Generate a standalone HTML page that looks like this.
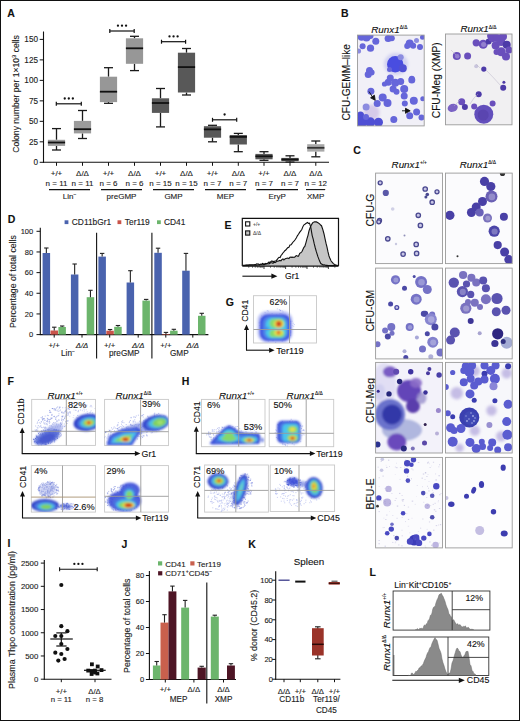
<!DOCTYPE html>
<html><head><meta charset="utf-8"><style>
html,body{margin:0;padding:0;background:#fff;overflow:hidden;}
svg{display:block;font-family:"Liberation Sans", sans-serif;}
</style></head><body>
<svg width="520" height="721" viewBox="0 0 520 721">
<defs><filter id="bl" x="-30%" y="-30%" width="160%" height="160%"><feGaussianBlur stdDeviation="0.8"/></filter>
<filter id="bl2" x="-30%" y="-30%" width="160%" height="160%"><feGaussianBlur stdDeviation="0.45"/></filter>
<clipPath id="c1"><rect x="253.50" y="295.70" width="63.00" height="47.30"/></clipPath>
<clipPath id="c2"><rect x="31.70" y="399.40" width="63.80" height="46.00"/></clipPath>
<clipPath id="c3"><rect x="104.60" y="399.40" width="63.90" height="46.20"/></clipPath>
<clipPath id="c4"><rect x="31.30" y="465.60" width="64.20" height="46.50"/></clipPath>
<clipPath id="c5"><rect x="104.60" y="465.60" width="63.90" height="46.50"/></clipPath>
<clipPath id="c6"><rect x="201.50" y="399.40" width="63.50" height="47.30"/></clipPath>
<clipPath id="c7"><rect x="269.20" y="399.40" width="64.50" height="47.30"/></clipPath>
<clipPath id="c8"><rect x="204.60" y="465.00" width="63.80" height="47.10"/></clipPath>
<clipPath id="c9"><rect x="270.20" y="465.00" width="64.40" height="46.50"/></clipPath>
<clipPath id="c10"><rect x="393.10" y="591.00" width="96.80" height="39.10"/></clipPath>
<clipPath id="c11"><rect x="393.10" y="637.00" width="95.70" height="38.50"/></clipPath>
<filter id="sb" x="-10%" y="-10%" width="120%" height="120%"><feGaussianBlur stdDeviation="0.55"/></filter>
<filter id="sb3" x="-10%" y="-10%" width="120%" height="120%"><feGaussianBlur stdDeviation="1.0"/></filter>
<filter id="sb4" x="-10%" y="-10%" width="120%" height="120%"><feGaussianBlur stdDeviation="0.8"/></filter>
<filter id="sb2" x="-10%" y="-10%" width="120%" height="120%"><feGaussianBlur stdDeviation="1.6"/></filter>
<clipPath id="c12"><rect x="357.50" y="35.10" width="66.70" height="90.80"/></clipPath>
<clipPath id="c13"><rect x="445.50" y="34.00" width="66.50" height="90.80"/></clipPath>
<clipPath id="c14"><rect x="375.60" y="173.10" width="66.90" height="90.50"/></clipPath>
<clipPath id="c15"><rect x="445.50" y="173.10" width="66.70" height="90.50"/></clipPath>
<clipPath id="c16"><rect x="375.60" y="268.10" width="66.90" height="90.80"/></clipPath>
<clipPath id="c17"><rect x="445.50" y="268.10" width="66.70" height="90.80"/></clipPath>
<clipPath id="c18"><rect x="375.60" y="362.40" width="66.90" height="90.60"/></clipPath>
<clipPath id="c19"><rect x="445.50" y="362.40" width="66.70" height="90.60"/></clipPath>
<clipPath id="c20"><rect x="375.60" y="457.40" width="66.90" height="90.50"/></clipPath>
<clipPath id="c21"><rect x="445.50" y="457.40" width="66.70" height="90.50"/></clipPath></defs>
<rect x="0" y="0" width="520" height="721" fill="#fff"/>
<text x="7.20" y="17.00" font-size="10.5" text-anchor="start" fill="#111" stroke="#111" stroke-width="0.12" font-weight="bold" >A</text>
<line x1="43.50" y1="31.50" x2="43.50" y2="162.80" stroke="#111" stroke-width="1.1" />
<line x1="43.00" y1="162.30" x2="329.00" y2="162.30" stroke="#111" stroke-width="1.1" />
<line x1="39.70" y1="162.30" x2="43.50" y2="162.30" stroke="#111" stroke-width="1" />
<text x="38.00" y="165.20" font-size="8.2" text-anchor="end" fill="#222" stroke="#222" stroke-width="0.12" >0</text>
<line x1="39.70" y1="141.82" x2="43.50" y2="141.82" stroke="#111" stroke-width="1" />
<text x="38.00" y="144.72" font-size="8.2" text-anchor="end" fill="#222" stroke="#222" stroke-width="0.12" >25</text>
<line x1="39.70" y1="121.33" x2="43.50" y2="121.33" stroke="#111" stroke-width="1" />
<text x="38.00" y="124.23" font-size="8.2" text-anchor="end" fill="#222" stroke="#222" stroke-width="0.12" >50</text>
<line x1="39.70" y1="100.85" x2="43.50" y2="100.85" stroke="#111" stroke-width="1" />
<text x="38.00" y="103.75" font-size="8.2" text-anchor="end" fill="#222" stroke="#222" stroke-width="0.12" >75</text>
<line x1="39.70" y1="80.37" x2="43.50" y2="80.37" stroke="#111" stroke-width="1" />
<text x="38.00" y="83.27" font-size="8.2" text-anchor="end" fill="#222" stroke="#222" stroke-width="0.12" >100</text>
<line x1="39.70" y1="59.88" x2="43.50" y2="59.88" stroke="#111" stroke-width="1" />
<text x="38.00" y="62.78" font-size="8.2" text-anchor="end" fill="#222" stroke="#222" stroke-width="0.12" >125</text>
<line x1="39.70" y1="39.40" x2="43.50" y2="39.40" stroke="#111" stroke-width="1" />
<text x="38.00" y="42.30" font-size="8.2" text-anchor="end" fill="#222" stroke="#222" stroke-width="0.12" >150</text>
<text x="18.90" y="94.00" font-size="8.6" text-anchor="middle" fill="#222" stroke="#222" stroke-width="0.12" transform="rotate(-90 18.90 94.00)" >Colony number per 1×10<tspan font-size="5.8" dy="-3.2">3</tspan><tspan dy="3.2"> cells</tspan></text>
<line x1="56.50" y1="128.60" x2="56.50" y2="139.80" stroke="#1a1a1a" stroke-width="1.3" />
<line x1="56.50" y1="145.90" x2="56.50" y2="150.00" stroke="#1a1a1a" stroke-width="1.3" />
<line x1="52.00" y1="128.60" x2="61.00" y2="128.60" stroke="#1a1a1a" stroke-width="1.3" />
<line x1="52.00" y1="150.00" x2="61.00" y2="150.00" stroke="#1a1a1a" stroke-width="1.3" />
<rect x="47.90" y="139.80" width="17.20" height="6.10" fill="#9b9b9b" />
<line x1="47.90" y1="142.50" x2="65.10" y2="142.50" stroke="#111" stroke-width="1.8" />
<line x1="56.50" y1="162.30" x2="56.50" y2="165.80" stroke="#111" stroke-width="1" />
<line x1="82.50" y1="110.50" x2="82.50" y2="120.90" stroke="#1a1a1a" stroke-width="1.3" />
<line x1="82.50" y1="133.40" x2="82.50" y2="138.50" stroke="#1a1a1a" stroke-width="1.3" />
<line x1="78.00" y1="110.50" x2="87.00" y2="110.50" stroke="#1a1a1a" stroke-width="1.3" />
<line x1="78.00" y1="138.50" x2="87.00" y2="138.50" stroke="#1a1a1a" stroke-width="1.3" />
<rect x="73.90" y="120.90" width="17.20" height="12.50" fill="#9b9b9b" />
<line x1="73.90" y1="129.20" x2="91.10" y2="129.20" stroke="#111" stroke-width="1.8" />
<line x1="82.50" y1="162.30" x2="82.50" y2="165.80" stroke="#111" stroke-width="1" />
<line x1="108.50" y1="67.70" x2="108.50" y2="76.70" stroke="#1a1a1a" stroke-width="1.3" />
<line x1="108.50" y1="102.10" x2="108.50" y2="103.30" stroke="#1a1a1a" stroke-width="1.3" />
<line x1="104.00" y1="67.70" x2="113.00" y2="67.70" stroke="#1a1a1a" stroke-width="1.3" />
<line x1="104.00" y1="103.30" x2="113.00" y2="103.30" stroke="#1a1a1a" stroke-width="1.3" />
<rect x="99.90" y="76.70" width="17.20" height="25.40" fill="#979797" />
<line x1="99.90" y1="91.70" x2="117.10" y2="91.70" stroke="#111" stroke-width="1.8" />
<line x1="108.50" y1="162.30" x2="108.50" y2="165.80" stroke="#111" stroke-width="1" />
<line x1="134.50" y1="36.30" x2="134.50" y2="38.30" stroke="#1a1a1a" stroke-width="1.3" />
<line x1="134.50" y1="63.80" x2="134.50" y2="70.60" stroke="#1a1a1a" stroke-width="1.3" />
<line x1="130.00" y1="36.30" x2="139.00" y2="36.30" stroke="#1a1a1a" stroke-width="1.3" />
<line x1="130.00" y1="70.60" x2="139.00" y2="70.60" stroke="#1a1a1a" stroke-width="1.3" />
<rect x="125.90" y="38.30" width="17.20" height="25.50" fill="#979797" />
<line x1="125.90" y1="48.30" x2="143.10" y2="48.30" stroke="#111" stroke-width="1.8" />
<line x1="134.50" y1="162.30" x2="134.50" y2="165.80" stroke="#111" stroke-width="1" />
<line x1="160.50" y1="88.50" x2="160.50" y2="98.30" stroke="#1a1a1a" stroke-width="1.3" />
<line x1="160.50" y1="112.90" x2="160.50" y2="126.90" stroke="#1a1a1a" stroke-width="1.3" />
<line x1="156.00" y1="88.50" x2="165.00" y2="88.50" stroke="#1a1a1a" stroke-width="1.3" />
<line x1="156.00" y1="126.90" x2="165.00" y2="126.90" stroke="#1a1a1a" stroke-width="1.3" />
<rect x="151.90" y="98.30" width="17.20" height="14.60" fill="#585858" />
<line x1="151.90" y1="103.00" x2="169.10" y2="103.00" stroke="#111" stroke-width="1.8" />
<line x1="160.50" y1="162.30" x2="160.50" y2="165.80" stroke="#111" stroke-width="1" />
<line x1="186.50" y1="48.50" x2="186.50" y2="52.70" stroke="#1a1a1a" stroke-width="1.3" />
<line x1="186.50" y1="92.50" x2="186.50" y2="95.00" stroke="#1a1a1a" stroke-width="1.3" />
<line x1="182.00" y1="48.50" x2="191.00" y2="48.50" stroke="#1a1a1a" stroke-width="1.3" />
<line x1="182.00" y1="95.00" x2="191.00" y2="95.00" stroke="#1a1a1a" stroke-width="1.3" />
<rect x="177.90" y="52.70" width="17.20" height="39.80" fill="#585858" />
<line x1="177.90" y1="67.10" x2="195.10" y2="67.10" stroke="#111" stroke-width="1.8" />
<line x1="186.50" y1="162.30" x2="186.50" y2="165.80" stroke="#111" stroke-width="1" />
<line x1="212.50" y1="125.30" x2="212.50" y2="126.20" stroke="#1a1a1a" stroke-width="1.3" />
<line x1="212.50" y1="137.70" x2="212.50" y2="141.80" stroke="#1a1a1a" stroke-width="1.3" />
<line x1="208.00" y1="125.30" x2="217.00" y2="125.30" stroke="#1a1a1a" stroke-width="1.3" />
<line x1="208.00" y1="141.80" x2="217.00" y2="141.80" stroke="#1a1a1a" stroke-width="1.3" />
<rect x="203.90" y="126.20" width="17.20" height="11.50" fill="#585858" />
<line x1="203.90" y1="129.40" x2="221.10" y2="129.40" stroke="#111" stroke-width="1.8" />
<line x1="212.50" y1="162.30" x2="212.50" y2="165.80" stroke="#111" stroke-width="1" />
<line x1="238.30" y1="133.40" x2="238.30" y2="135.00" stroke="#1a1a1a" stroke-width="1.3" />
<line x1="238.30" y1="144.50" x2="238.30" y2="151.70" stroke="#1a1a1a" stroke-width="1.3" />
<line x1="233.80" y1="133.40" x2="242.80" y2="133.40" stroke="#1a1a1a" stroke-width="1.3" />
<line x1="233.80" y1="151.70" x2="242.80" y2="151.70" stroke="#1a1a1a" stroke-width="1.3" />
<rect x="229.70" y="135.00" width="17.20" height="9.50" fill="#585858" />
<line x1="229.70" y1="136.90" x2="246.90" y2="136.90" stroke="#111" stroke-width="1.8" />
<line x1="238.30" y1="162.30" x2="238.30" y2="165.80" stroke="#111" stroke-width="1" />
<line x1="264.00" y1="151.70" x2="264.00" y2="153.90" stroke="#1a1a1a" stroke-width="1.3" />
<line x1="264.00" y1="159.30" x2="264.00" y2="160.30" stroke="#1a1a1a" stroke-width="1.3" />
<line x1="259.50" y1="151.70" x2="268.50" y2="151.70" stroke="#1a1a1a" stroke-width="1.3" />
<line x1="259.50" y1="160.30" x2="268.50" y2="160.30" stroke="#1a1a1a" stroke-width="1.3" />
<rect x="255.40" y="153.90" width="17.20" height="5.40" fill="#585858" />
<line x1="255.40" y1="156.30" x2="272.60" y2="156.30" stroke="#111" stroke-width="1.8" />
<line x1="264.00" y1="162.30" x2="264.00" y2="165.80" stroke="#111" stroke-width="1" />
<line x1="290.00" y1="155.80" x2="290.00" y2="157.90" stroke="#1a1a1a" stroke-width="1.3" />
<line x1="290.00" y1="161.20" x2="290.00" y2="162.00" stroke="#1a1a1a" stroke-width="1.3" />
<line x1="285.50" y1="155.80" x2="294.50" y2="155.80" stroke="#1a1a1a" stroke-width="1.3" />
<line x1="285.50" y1="162.00" x2="294.50" y2="162.00" stroke="#1a1a1a" stroke-width="1.3" />
<rect x="281.40" y="157.90" width="17.20" height="3.30" fill="#585858" />
<line x1="281.40" y1="159.50" x2="298.60" y2="159.50" stroke="#111" stroke-width="1.8" />
<line x1="290.00" y1="162.30" x2="290.00" y2="165.80" stroke="#111" stroke-width="1" />
<line x1="315.80" y1="141.00" x2="315.80" y2="144.20" stroke="#1a1a1a" stroke-width="1.3" />
<line x1="315.80" y1="151.60" x2="315.80" y2="156.80" stroke="#1a1a1a" stroke-width="1.3" />
<line x1="311.30" y1="141.00" x2="320.30" y2="141.00" stroke="#1a1a1a" stroke-width="1.3" />
<line x1="311.30" y1="156.80" x2="320.30" y2="156.80" stroke="#1a1a1a" stroke-width="1.3" />
<rect x="307.20" y="144.20" width="17.20" height="7.40" fill="#a8a8a8" />
<line x1="307.20" y1="147.80" x2="324.40" y2="147.80" stroke="#333" stroke-width="1.8" />
<line x1="315.80" y1="162.30" x2="315.80" y2="165.80" stroke="#111" stroke-width="1" />
<line x1="56.30" y1="103.80" x2="81.30" y2="103.80" stroke="#111" stroke-width="1.2" />
<line x1="56.30" y1="101.80" x2="56.30" y2="105.80" stroke="#111" stroke-width="1.2" />
<line x1="81.30" y1="101.80" x2="81.30" y2="105.80" stroke="#111" stroke-width="1.2" />
<circle cx="64.75" cy="98.50" r="1.15" fill="#111"/>
<circle cx="68.80" cy="98.50" r="1.15" fill="#111"/>
<circle cx="72.85" cy="98.50" r="1.15" fill="#111"/>
<line x1="109.80" y1="31.00" x2="134.20" y2="31.00" stroke="#111" stroke-width="1.2" />
<line x1="109.80" y1="29.00" x2="109.80" y2="33.00" stroke="#111" stroke-width="1.2" />
<line x1="134.20" y1="29.00" x2="134.20" y2="33.00" stroke="#111" stroke-width="1.2" />
<circle cx="117.95" cy="25.70" r="1.15" fill="#111"/>
<circle cx="122.00" cy="25.70" r="1.15" fill="#111"/>
<circle cx="126.05" cy="25.70" r="1.15" fill="#111"/>
<line x1="161.50" y1="41.70" x2="185.60" y2="41.70" stroke="#111" stroke-width="1.2" />
<line x1="161.50" y1="39.70" x2="161.50" y2="43.70" stroke="#111" stroke-width="1.2" />
<line x1="185.60" y1="39.70" x2="185.60" y2="43.70" stroke="#111" stroke-width="1.2" />
<circle cx="169.50" cy="36.40" r="1.15" fill="#111"/>
<circle cx="173.55" cy="36.40" r="1.15" fill="#111"/>
<circle cx="177.60" cy="36.40" r="1.15" fill="#111"/>
<line x1="212.50" y1="119.80" x2="236.70" y2="119.80" stroke="#111" stroke-width="1.2" />
<line x1="212.50" y1="117.80" x2="212.50" y2="121.80" stroke="#111" stroke-width="1.2" />
<line x1="236.70" y1="117.80" x2="236.70" y2="121.80" stroke="#111" stroke-width="1.2" />
<circle cx="224.60" cy="114.50" r="1.15" fill="#111"/>
<text x="56.50" y="176.00" font-size="8" text-anchor="middle" fill="#222" stroke="#222" stroke-width="0.12" >+/+</text>
<text x="56.50" y="186.00" font-size="8" text-anchor="middle" fill="#222" stroke="#222" stroke-width="0.12" >n = 11</text>
<text x="82.50" y="176.00" font-size="8" text-anchor="middle" fill="#222" stroke="#222" stroke-width="0.12" >Δ/Δ</text>
<text x="82.50" y="186.00" font-size="8" text-anchor="middle" fill="#222" stroke="#222" stroke-width="0.12" >n = 11</text>
<text x="108.50" y="176.00" font-size="8" text-anchor="middle" fill="#222" stroke="#222" stroke-width="0.12" >+/+</text>
<text x="108.50" y="186.00" font-size="8" text-anchor="middle" fill="#222" stroke="#222" stroke-width="0.12" >n = 6</text>
<text x="134.50" y="176.00" font-size="8" text-anchor="middle" fill="#222" stroke="#222" stroke-width="0.12" >Δ/Δ</text>
<text x="134.50" y="186.00" font-size="8" text-anchor="middle" fill="#222" stroke="#222" stroke-width="0.12" >n = 6</text>
<text x="160.50" y="176.00" font-size="8" text-anchor="middle" fill="#222" stroke="#222" stroke-width="0.12" >+/+</text>
<text x="160.50" y="186.00" font-size="8" text-anchor="middle" fill="#222" stroke="#222" stroke-width="0.12" >n = 15</text>
<text x="186.50" y="176.00" font-size="8" text-anchor="middle" fill="#222" stroke="#222" stroke-width="0.12" >Δ/Δ</text>
<text x="186.50" y="186.00" font-size="8" text-anchor="middle" fill="#222" stroke="#222" stroke-width="0.12" >n = 15</text>
<text x="212.50" y="176.00" font-size="8" text-anchor="middle" fill="#222" stroke="#222" stroke-width="0.12" >+/+</text>
<text x="212.50" y="186.00" font-size="8" text-anchor="middle" fill="#222" stroke="#222" stroke-width="0.12" >n = 7</text>
<text x="238.30" y="176.00" font-size="8" text-anchor="middle" fill="#222" stroke="#222" stroke-width="0.12" >Δ/Δ</text>
<text x="238.30" y="186.00" font-size="8" text-anchor="middle" fill="#222" stroke="#222" stroke-width="0.12" >n = 7</text>
<text x="264.00" y="176.00" font-size="8" text-anchor="middle" fill="#222" stroke="#222" stroke-width="0.12" >+/+</text>
<text x="264.00" y="186.00" font-size="8" text-anchor="middle" fill="#222" stroke="#222" stroke-width="0.12" >n = 7</text>
<text x="290.00" y="176.00" font-size="8" text-anchor="middle" fill="#222" stroke="#222" stroke-width="0.12" >Δ/Δ</text>
<text x="290.00" y="186.00" font-size="8" text-anchor="middle" fill="#222" stroke="#222" stroke-width="0.12" >n = 7</text>
<text x="315.80" y="176.00" font-size="8" text-anchor="middle" fill="#222" stroke="#222" stroke-width="0.12" >Δ/Δ</text>
<text x="315.80" y="186.00" font-size="8" text-anchor="middle" fill="#222" stroke="#222" stroke-width="0.12" >n = 12</text>
<line x1="49.00" y1="189.60" x2="90.00" y2="189.60" stroke="#111" stroke-width="1.1" />
<text x="69.50" y="199.00" font-size="8" text-anchor="middle" fill="#222" stroke="#222" stroke-width="0.12" >Lin<tspan font-size="5" dy="-3">−</tspan></text>
<line x1="101.00" y1="189.60" x2="142.00" y2="189.60" stroke="#111" stroke-width="1.1" />
<text x="121.50" y="199.00" font-size="8" text-anchor="middle" fill="#222" stroke="#222" stroke-width="0.12" >preGMP</text>
<line x1="153.00" y1="189.60" x2="194.00" y2="189.60" stroke="#111" stroke-width="1.1" />
<text x="173.50" y="199.00" font-size="8" text-anchor="middle" fill="#222" stroke="#222" stroke-width="0.12" >GMP</text>
<line x1="205.00" y1="189.60" x2="246.00" y2="189.60" stroke="#111" stroke-width="1.1" />
<text x="225.50" y="199.00" font-size="8" text-anchor="middle" fill="#222" stroke="#222" stroke-width="0.12" >MEP</text>
<line x1="256.40" y1="189.60" x2="298.00" y2="189.60" stroke="#111" stroke-width="1.1" />
<text x="277.20" y="199.00" font-size="8" text-anchor="middle" fill="#222" stroke="#222" stroke-width="0.12" >EryP</text>
<line x1="306.00" y1="189.60" x2="325.20" y2="189.60" stroke="#111" stroke-width="1.1" />
<text x="315.60" y="199.00" font-size="8" text-anchor="middle" fill="#222" stroke="#222" stroke-width="0.12" >XMP</text>
<text x="7.80" y="223.20" font-size="10.5" text-anchor="start" fill="#111" stroke="#111" stroke-width="0.12" font-weight="bold" >D</text>
<line x1="40.30" y1="227.80" x2="40.30" y2="335.00" stroke="#111" stroke-width="1.1" />
<line x1="39.80" y1="334.60" x2="208.40" y2="334.60" stroke="#111" stroke-width="1.1" />
<line x1="36.50" y1="334.60" x2="40.30" y2="334.60" stroke="#111" stroke-width="1" />
<text x="33.20" y="337.30" font-size="7.5" text-anchor="end" fill="#222" stroke="#222" stroke-width="0.12" >0</text>
<line x1="36.50" y1="313.94" x2="40.30" y2="313.94" stroke="#111" stroke-width="1" />
<text x="33.20" y="316.64" font-size="7.5" text-anchor="end" fill="#222" stroke="#222" stroke-width="0.12" >20</text>
<line x1="36.50" y1="293.28" x2="40.30" y2="293.28" stroke="#111" stroke-width="1" />
<text x="33.20" y="295.98" font-size="7.5" text-anchor="end" fill="#222" stroke="#222" stroke-width="0.12" >40</text>
<line x1="36.50" y1="272.62" x2="40.30" y2="272.62" stroke="#111" stroke-width="1" />
<text x="33.20" y="275.32" font-size="7.5" text-anchor="end" fill="#222" stroke="#222" stroke-width="0.12" >60</text>
<line x1="36.50" y1="251.96" x2="40.30" y2="251.96" stroke="#111" stroke-width="1" />
<text x="33.20" y="254.66" font-size="7.5" text-anchor="end" fill="#222" stroke="#222" stroke-width="0.12" >80</text>
<line x1="36.50" y1="231.30" x2="40.30" y2="231.30" stroke="#111" stroke-width="1" />
<text x="33.20" y="234.00" font-size="7.5" text-anchor="end" fill="#222" stroke="#222" stroke-width="0.12" >100</text>
<text x="16.00" y="281.60" font-size="8.7" text-anchor="middle" fill="#222" stroke="#222" stroke-width="0.12" transform="rotate(-90 16.00 281.60)" >Percentage of total cells</text>
<rect x="42.60" y="253.00" width="7.50" height="81.60" fill="#4a63ae" />
<line x1="46.35" y1="248.00" x2="46.35" y2="253.00" stroke="#222" stroke-width="1.1" />
<line x1="44.15" y1="248.00" x2="48.55" y2="248.00" stroke="#222" stroke-width="1.1" />
<rect x="50.50" y="330.50" width="7.50" height="4.10" fill="#c9544a" />
<line x1="54.25" y1="327.20" x2="54.25" y2="330.50" stroke="#222" stroke-width="1.1" />
<line x1="52.05" y1="327.20" x2="56.45" y2="327.20" stroke="#222" stroke-width="1.1" />
<rect x="58.40" y="327.00" width="7.50" height="7.60" fill="#6cb56c" />
<line x1="62.15" y1="326.00" x2="62.15" y2="327.00" stroke="#222" stroke-width="1.1" />
<line x1="59.95" y1="326.00" x2="64.35" y2="326.00" stroke="#222" stroke-width="1.1" />
<rect x="70.90" y="274.50" width="7.50" height="60.10" fill="#4a63ae" />
<line x1="74.65" y1="264.00" x2="74.65" y2="274.50" stroke="#222" stroke-width="1.1" />
<line x1="72.45" y1="264.00" x2="76.85" y2="264.00" stroke="#222" stroke-width="1.1" />
<rect x="86.70" y="297.20" width="7.50" height="37.40" fill="#6cb56c" />
<line x1="90.45" y1="290.30" x2="90.45" y2="297.20" stroke="#222" stroke-width="1.1" />
<line x1="88.25" y1="290.30" x2="92.65" y2="290.30" stroke="#222" stroke-width="1.1" />
<rect x="98.40" y="256.60" width="7.50" height="78.00" fill="#4a63ae" />
<line x1="102.15" y1="253.40" x2="102.15" y2="256.60" stroke="#222" stroke-width="1.1" />
<line x1="99.95" y1="253.40" x2="104.35" y2="253.40" stroke="#222" stroke-width="1.1" />
<rect x="106.30" y="330.70" width="7.50" height="3.90" fill="#c9544a" />
<line x1="110.05" y1="329.50" x2="110.05" y2="330.70" stroke="#222" stroke-width="1.1" />
<line x1="107.85" y1="329.50" x2="112.25" y2="329.50" stroke="#222" stroke-width="1.1" />
<rect x="114.20" y="326.80" width="7.50" height="7.80" fill="#6cb56c" />
<line x1="117.95" y1="325.50" x2="117.95" y2="326.80" stroke="#222" stroke-width="1.1" />
<line x1="115.75" y1="325.50" x2="120.15" y2="325.50" stroke="#222" stroke-width="1.1" />
<rect x="126.60" y="282.50" width="7.50" height="52.10" fill="#4a63ae" />
<line x1="130.35" y1="270.70" x2="130.35" y2="282.50" stroke="#222" stroke-width="1.1" />
<line x1="128.15" y1="270.70" x2="132.55" y2="270.70" stroke="#222" stroke-width="1.1" />
<rect x="142.40" y="300.60" width="7.50" height="34.00" fill="#6cb56c" />
<line x1="146.15" y1="299.40" x2="146.15" y2="300.60" stroke="#222" stroke-width="1.1" />
<line x1="143.95" y1="299.40" x2="148.35" y2="299.40" stroke="#222" stroke-width="1.1" />
<rect x="154.30" y="252.80" width="7.50" height="81.80" fill="#4a63ae" />
<line x1="158.05" y1="248.20" x2="158.05" y2="252.80" stroke="#222" stroke-width="1.1" />
<line x1="155.85" y1="248.20" x2="160.25" y2="248.20" stroke="#222" stroke-width="1.1" />
<rect x="162.20" y="334.00" width="7.50" height="0.60" fill="#c9544a" />
<line x1="165.95" y1="332.40" x2="165.95" y2="334.00" stroke="#222" stroke-width="1.1" />
<line x1="163.75" y1="332.40" x2="168.15" y2="332.40" stroke="#222" stroke-width="1.1" />
<rect x="170.10" y="330.70" width="7.50" height="3.90" fill="#6cb56c" />
<line x1="173.85" y1="329.30" x2="173.85" y2="330.70" stroke="#222" stroke-width="1.1" />
<line x1="171.65" y1="329.30" x2="176.05" y2="329.30" stroke="#222" stroke-width="1.1" />
<rect x="182.20" y="270.70" width="7.50" height="63.90" fill="#4a63ae" />
<line x1="185.95" y1="253.40" x2="185.95" y2="270.70" stroke="#222" stroke-width="1.1" />
<line x1="183.75" y1="253.40" x2="188.15" y2="253.40" stroke="#222" stroke-width="1.1" />
<rect x="198.00" y="315.80" width="7.50" height="18.80" fill="#6cb56c" />
<line x1="201.75" y1="313.30" x2="201.75" y2="315.80" stroke="#222" stroke-width="1.1" />
<line x1="199.55" y1="313.30" x2="203.95" y2="313.30" stroke="#222" stroke-width="1.1" />
<line x1="96.60" y1="232.70" x2="96.60" y2="358.40" stroke="#111" stroke-width="1.1" />
<line x1="151.90" y1="232.70" x2="151.90" y2="358.40" stroke="#111" stroke-width="1.1" />
<line x1="54.20" y1="334.60" x2="54.20" y2="337.60" stroke="#111" stroke-width="1" />
<text x="54.20" y="347.80" font-size="7.8" text-anchor="middle" fill="#222" stroke="#222" stroke-width="0.12" >+/+</text>
<line x1="82.00" y1="334.60" x2="82.00" y2="337.60" stroke="#111" stroke-width="1" />
<text x="82.00" y="347.80" font-size="7.8" text-anchor="middle" fill="#222" stroke="#222" stroke-width="0.12" font-style="italic" >Δ/Δ</text>
<line x1="109.70" y1="334.60" x2="109.70" y2="337.60" stroke="#111" stroke-width="1" />
<text x="109.70" y="347.80" font-size="7.8" text-anchor="middle" fill="#222" stroke="#222" stroke-width="0.12" >+/+</text>
<line x1="138.20" y1="334.60" x2="138.20" y2="337.60" stroke="#111" stroke-width="1" />
<text x="138.20" y="347.80" font-size="7.8" text-anchor="middle" fill="#222" stroke="#222" stroke-width="0.12" font-style="italic" >Δ/Δ</text>
<line x1="165.80" y1="334.60" x2="165.80" y2="337.60" stroke="#111" stroke-width="1" />
<text x="165.80" y="347.80" font-size="7.8" text-anchor="middle" fill="#222" stroke="#222" stroke-width="0.12" >+/+</text>
<line x1="192.80" y1="334.60" x2="192.80" y2="337.60" stroke="#111" stroke-width="1" />
<text x="192.80" y="347.80" font-size="7.8" text-anchor="middle" fill="#222" stroke="#222" stroke-width="0.12" font-style="italic" >Δ/Δ</text>
<text x="68.00" y="356.30" font-size="8.2" text-anchor="middle" fill="#222" stroke="#222" stroke-width="0.12" >Lin<tspan font-size="5" dy="-3">−</tspan></text>
<text x="124.30" y="356.30" font-size="8.2" text-anchor="middle" fill="#222" stroke="#222" stroke-width="0.12" >preGMP</text>
<text x="179.30" y="356.30" font-size="8.2" text-anchor="middle" fill="#222" stroke="#222" stroke-width="0.12" >GMP</text>
<rect x="64.60" y="220.30" width="3.80" height="3.80" fill="#4a63ae" />
<text x="71.80" y="225.30" font-size="8.4" text-anchor="start" fill="#222" stroke="#222" stroke-width="0.12" >CD11bGr1</text>
<rect x="117.50" y="220.30" width="3.80" height="3.80" fill="#c9544a" />
<text x="124.80" y="225.30" font-size="8.4" text-anchor="start" fill="#222" stroke="#222" stroke-width="0.12" >Ter119</text>
<rect x="157.00" y="220.30" width="3.80" height="3.80" fill="#6cb56c" />
<text x="164.00" y="225.30" font-size="8.4" text-anchor="start" fill="#222" stroke="#222" stroke-width="0.12" >CD41</text>
<text x="224.60" y="228.70" font-size="10.5" text-anchor="start" fill="#111" stroke="#111" stroke-width="0.12" font-weight="bold" >E</text>
<path d="M242.3,266 L242.3,218.3 L338.5,218.3 L338.5,266" fill="none" stroke="#111" stroke-width="1.2"/>
<path d="M242.5,265.5 L243.5,265.5 L244.4,265.5 L245.4,265.4 L246.3,265.4 L247.3,265.4 L248.3,265.4 L249.2,265.3 L250.2,265.3 L251.2,265.3 L252.1,265.3 L253.1,265.2 L254.0,265.2 L255.0,265.2 L255.9,265.1 L256.8,265.1 L257.7,265.0 L258.6,264.9 L259.5,264.9 L260.5,264.8 L261.4,264.8 L262.3,264.7 L263.2,264.6 L264.1,264.6 L265.0,264.5 L266.0,263.6 L267.0,263.6 L268.0,263.7 L269.0,264.0 L270.0,263.0 L271.0,262.8 L272.0,262.7 L273.0,263.3 L274.0,262.1 L275.0,262.6 L276.0,262.1 L277.0,261.0 L278.0,261.2 L279.0,260.8 L280.0,260.4 L281.0,260.9 L282.0,259.4 L283.0,259.0 L283.9,260.0 L284.9,258.9 L285.9,258.4 L286.9,258.2 L287.9,258.0 L288.9,258.6 L289.9,257.3 L291.0,257.1 L292.0,257.4 L293.0,257.1 L293.9,257.4 L294.8,257.0 L295.8,256.0 L296.7,255.6 L297.6,256.2 L298.5,256.2 L299.7,253.3 L300.8,252.8 L302.0,251.5 L302.9,249.5 L303.9,247.3 L304.8,246.4 L305.9,242.8 L307.0,238.6 L308.0,235.3 L309.0,230.8 L310.0,228.0 L311.0,225.8 L311.9,224.1 L312.8,222.6 L314.5,221.8 L315.4,221.9 L316.4,221.9 L318.0,222.7 L319.6,223.8 L320.6,225.0 L321.5,225.7 L322.7,229.2 L323.9,233.5 L324.9,238.2 L326.0,243.2 L327.0,247.1 L328.0,251.9 L329.0,256.0 L330.0,258.6 L331.1,261.0 L332.3,262.3 L333.4,263.6 L334.5,264.5 L335.5,264.9 L336.5,265.2 L337.4,265.4 L338.4,265.5 L338.4,266 L242.5,266 Z" fill="#c6c6c6" stroke="none"/>
<path d="M242.5,265.5 L243.5,265.5 L244.4,265.5 L245.4,265.4 L246.3,265.4 L247.3,265.4 L248.3,265.4 L249.2,265.3 L250.2,265.3 L251.2,265.3 L252.1,265.3 L253.1,265.2 L254.0,265.2 L255.0,265.2 L255.9,265.1 L256.8,265.1 L257.7,265.0 L258.6,264.9 L259.5,264.9 L260.5,264.8 L261.4,264.8 L262.3,264.7 L263.2,264.6 L264.1,264.6 L265.0,264.5 L266.0,263.6 L267.0,263.6 L268.0,263.7 L269.0,264.0 L270.0,263.0 L271.0,262.8 L272.0,262.7 L273.0,263.3 L274.0,262.1 L275.0,262.6 L276.0,262.1 L277.0,261.0 L278.0,261.2 L279.0,260.8 L280.0,260.4 L281.0,260.9 L282.0,259.4 L283.0,259.0 L283.9,260.0 L284.9,258.9 L285.9,258.4 L286.9,258.2 L287.9,258.0 L288.9,258.6 L289.9,257.3 L291.0,257.1 L292.0,257.4 L293.0,257.1 L293.9,257.4 L294.8,257.0 L295.8,256.0 L296.7,255.6 L297.6,256.2 L298.5,256.2 L299.7,253.3 L300.8,252.8 L302.0,251.5 L302.9,249.5 L303.9,247.3 L304.8,246.4 L305.9,242.8 L307.0,238.6 L308.0,235.3 L309.0,230.8 L310.0,228.0 L311.0,225.8 L311.9,224.1 L312.8,222.6 L314.5,221.8 L315.4,221.9 L316.4,221.9 L318.0,222.7 L319.6,223.8 L320.6,225.0 L321.5,225.7 L322.7,229.2 L323.9,233.5 L324.9,238.2 L326.0,243.2 L327.0,247.1 L328.0,251.9 L329.0,256.0 L330.0,258.6 L331.1,261.0 L332.3,262.3 L333.4,263.6 L334.5,264.5 L335.5,264.9 L336.5,265.2 L337.4,265.4 L338.4,265.5" fill="none" stroke="#111" stroke-width="1.1"/>
<path d="M242.5,265.3 L243.4,265.2 L244.4,265.2 L245.3,265.2 L246.3,265.1 L247.2,265.1 L248.2,265.0 L249.2,264.9 L250.1,264.9 L251.1,264.9 L252.0,264.8 L253.0,264.7 L253.9,264.7 L254.9,264.6 L255.8,264.5 L256.8,263.8 L257.7,264.0 L258.7,264.0 L259.6,264.8 L260.6,264.1 L261.5,264.4 L262.5,263.4 L263.4,263.8 L264.3,264.1 L265.2,263.5 L266.2,264.0 L267.1,263.7 L268.0,262.8 L269.0,262.0 L270.0,262.7 L271.0,261.5 L272.0,261.0 L273.0,261.6 L274.1,261.4 L275.1,261.0 L276.2,260.7 L277.3,259.3 L278.2,258.2 L279.1,257.3 L280.1,257.6 L281.0,255.5 L282.0,254.4 L282.9,253.0 L283.9,251.9 L284.8,250.7 L285.8,250.0 L286.9,248.6 L287.9,247.6 L288.9,247.3 L290.0,245.0 L291.1,244.7 L292.1,243.4 L293.1,242.0 L294.2,240.8 L295.3,239.5 L296.4,237.7 L297.5,235.6 L298.5,234.2 L299.6,232.4 L300.6,231.1 L301.8,229.5 L303.0,226.4 L304.0,224.8 L304.9,224.2 L305.9,223.5 L307.5,222.5 L308.5,223.5 L309.5,223.2 L310.8,227.4 L312.2,235.6 L313.2,239.1 L314.2,243.7 L315.3,248.0 L316.4,251.9 L318.0,256.9 L319.6,261.1 L320.8,263.5 L322.0,264.3 L323.0,265.0 L324.0,264.7 L325.0,265.0 L326.0,265.4 L327.0,265.4 L328.0,265.5 L329.0,265.5 L330.0,265.5 L331.0,265.6 L332.0,265.6 L332.9,265.6 L333.8,265.6 L334.7,265.6 L335.7,265.6 L336.6,265.6 L337.5,265.6 L338.4,265.6" fill="none" stroke="#111" stroke-width="1.1"/>
<line x1="242.30" y1="266.20" x2="338.50" y2="266.20" stroke="#111" stroke-width="1.2" />
<line x1="264.00" y1="266.20" x2="264.00" y2="269.00" stroke="#111" stroke-width="0.8" />
<line x1="285.60" y1="266.20" x2="285.60" y2="269.00" stroke="#111" stroke-width="0.8" />
<line x1="307.00" y1="266.20" x2="307.00" y2="269.00" stroke="#111" stroke-width="0.8" />
<line x1="328.40" y1="266.20" x2="328.40" y2="269.00" stroke="#111" stroke-width="0.8" />
<line x1="248.77" y1="266.20" x2="248.77" y2="267.80" stroke="#111" stroke-width="0.6" />
<line x1="252.56" y1="266.20" x2="252.56" y2="267.80" stroke="#111" stroke-width="0.6" />
<line x1="255.24" y1="266.20" x2="255.24" y2="267.80" stroke="#111" stroke-width="0.6" />
<line x1="257.33" y1="266.20" x2="257.33" y2="267.80" stroke="#111" stroke-width="0.6" />
<line x1="259.03" y1="266.20" x2="259.03" y2="267.80" stroke="#111" stroke-width="0.6" />
<line x1="260.47" y1="266.20" x2="260.47" y2="267.80" stroke="#111" stroke-width="0.6" />
<line x1="261.72" y1="266.20" x2="261.72" y2="267.80" stroke="#111" stroke-width="0.6" />
<line x1="262.82" y1="266.20" x2="262.82" y2="267.80" stroke="#111" stroke-width="0.6" />
<line x1="270.47" y1="266.20" x2="270.47" y2="267.80" stroke="#111" stroke-width="0.6" />
<line x1="274.26" y1="266.20" x2="274.26" y2="267.80" stroke="#111" stroke-width="0.6" />
<line x1="276.94" y1="266.20" x2="276.94" y2="267.80" stroke="#111" stroke-width="0.6" />
<line x1="279.03" y1="266.20" x2="279.03" y2="267.80" stroke="#111" stroke-width="0.6" />
<line x1="280.73" y1="266.20" x2="280.73" y2="267.80" stroke="#111" stroke-width="0.6" />
<line x1="282.17" y1="266.20" x2="282.17" y2="267.80" stroke="#111" stroke-width="0.6" />
<line x1="283.42" y1="266.20" x2="283.42" y2="267.80" stroke="#111" stroke-width="0.6" />
<line x1="284.52" y1="266.20" x2="284.52" y2="267.80" stroke="#111" stroke-width="0.6" />
<line x1="292.07" y1="266.20" x2="292.07" y2="267.80" stroke="#111" stroke-width="0.6" />
<line x1="295.86" y1="266.20" x2="295.86" y2="267.80" stroke="#111" stroke-width="0.6" />
<line x1="298.54" y1="266.20" x2="298.54" y2="267.80" stroke="#111" stroke-width="0.6" />
<line x1="300.63" y1="266.20" x2="300.63" y2="267.80" stroke="#111" stroke-width="0.6" />
<line x1="302.33" y1="266.20" x2="302.33" y2="267.80" stroke="#111" stroke-width="0.6" />
<line x1="303.77" y1="266.20" x2="303.77" y2="267.80" stroke="#111" stroke-width="0.6" />
<line x1="305.02" y1="266.20" x2="305.02" y2="267.80" stroke="#111" stroke-width="0.6" />
<line x1="306.12" y1="266.20" x2="306.12" y2="267.80" stroke="#111" stroke-width="0.6" />
<line x1="313.47" y1="266.20" x2="313.47" y2="267.80" stroke="#111" stroke-width="0.6" />
<line x1="317.26" y1="266.20" x2="317.26" y2="267.80" stroke="#111" stroke-width="0.6" />
<line x1="319.94" y1="266.20" x2="319.94" y2="267.80" stroke="#111" stroke-width="0.6" />
<line x1="322.03" y1="266.20" x2="322.03" y2="267.80" stroke="#111" stroke-width="0.6" />
<line x1="323.73" y1="266.20" x2="323.73" y2="267.80" stroke="#111" stroke-width="0.6" />
<line x1="325.17" y1="266.20" x2="325.17" y2="267.80" stroke="#111" stroke-width="0.6" />
<line x1="326.42" y1="266.20" x2="326.42" y2="267.80" stroke="#111" stroke-width="0.6" />
<line x1="327.52" y1="266.20" x2="327.52" y2="267.80" stroke="#111" stroke-width="0.6" />
<line x1="334.87" y1="266.20" x2="334.87" y2="267.80" stroke="#111" stroke-width="0.6" />
<rect x="245.60" y="221.80" width="4.20" height="4.20" fill="#fff" stroke="#111" stroke-width="1.1" />
<rect x="245.60" y="230.90" width="4.20" height="4.20" fill="#c6c6c6" stroke="#111" stroke-width="1.1" />
<text x="253.00" y="225.80" font-size="5" text-anchor="start" fill="#555" stroke="#555" stroke-width="0.12" >+/+</text>
<text x="253.00" y="234.80" font-size="5" text-anchor="start" fill="#555" stroke="#555" stroke-width="0.12" >Δ/Δ</text>
<line x1="242.40" y1="276.20" x2="271.90" y2="276.20" stroke="#111" stroke-width="1.1" />
<path d="M277.40,276.20 L271.40,273.60 L271.40,278.80 Z" fill="#111"/>
<text x="285.00" y="279.20" font-size="8.6" text-anchor="start" fill="#111" stroke="#111" stroke-width="0.12" >Gr1</text>
<text x="225.80" y="305.60" font-size="10.5" text-anchor="start" fill="#111" stroke="#111" stroke-width="0.12" font-weight="bold" >G</text>
<rect x="253.50" y="295.70" width="63.00" height="47.30" fill="#fff" stroke="#c8c8c8" stroke-width="0.9" />
<g clip-path="url(#c1)" fill="#8a96e8" fill-opacity="0.45"><rect x="265.0" y="326.5" width="1.0" height="1.0"/><rect x="270.1" y="328.5" width="1.0" height="1.0"/><rect x="279.8" y="310.2" width="1.0" height="1.0"/><rect x="265.9" y="316.0" width="1.0" height="1.0"/><rect x="293.8" y="324.0" width="1.0" height="1.0"/><rect x="287.8" y="324.2" width="1.0" height="1.0"/><rect x="280.3" y="313.1" width="1.0" height="1.0"/><rect x="280.1" y="337.5" width="1.0" height="1.0"/><rect x="275.9" y="333.2" width="1.0" height="1.0"/><rect x="281.5" y="310.2" width="1.0" height="1.0"/><rect x="284.8" y="328.1" width="1.0" height="1.0"/><rect x="288.9" y="324.1" width="1.0" height="1.0"/><rect x="283.3" y="337.9" width="1.0" height="1.0"/><rect x="283.1" y="339.3" width="1.0" height="1.0"/><rect x="271.0" y="335.2" width="1.0" height="1.0"/><rect x="272.9" y="339.8" width="1.0" height="1.0"/><rect x="261.2" y="315.4" width="1.0" height="1.0"/><rect x="292.7" y="322.8" width="1.0" height="1.0"/><rect x="279.8" y="318.2" width="1.0" height="1.0"/><rect x="275.3" y="321.1" width="1.0" height="1.0"/><rect x="269.3" y="327.9" width="1.0" height="1.0"/><rect x="278.2" y="338.7" width="1.0" height="1.0"/><rect x="281.9" y="339.6" width="1.0" height="1.0"/><rect x="281.5" y="313.5" width="1.0" height="1.0"/><rect x="290.4" y="327.3" width="1.0" height="1.0"/><rect x="283.1" y="315.2" width="1.0" height="1.0"/><rect x="287.6" y="327.5" width="1.0" height="1.0"/><rect x="266.8" y="310.2" width="1.0" height="1.0"/><rect x="271.6" y="313.1" width="1.0" height="1.0"/><rect x="267.2" y="334.1" width="1.0" height="1.0"/><rect x="279.4" y="309.5" width="1.0" height="1.0"/><rect x="283.3" y="319.3" width="1.0" height="1.0"/><rect x="275.2" y="341.9" width="1.0" height="1.0"/><rect x="267.8" y="310.6" width="1.0" height="1.0"/><rect x="278.8" y="309.1" width="1.0" height="1.0"/><rect x="263.5" y="321.9" width="1.0" height="1.0"/><rect x="279.2" y="313.3" width="1.0" height="1.0"/><rect x="267.9" y="340.6" width="1.0" height="1.0"/><rect x="290.1" y="320.8" width="1.0" height="1.0"/><rect x="273.5" y="325.7" width="1.0" height="1.0"/><rect x="280.5" y="328.3" width="1.0" height="1.0"/><rect x="277.3" y="329.1" width="1.0" height="1.0"/><rect x="291.7" y="325.2" width="1.0" height="1.0"/><rect x="272.4" y="332.5" width="1.0" height="1.0"/><rect x="265.0" y="318.2" width="1.0" height="1.0"/><rect x="293.2" y="325.7" width="1.0" height="1.0"/><rect x="276.8" y="308.4" width="1.0" height="1.0"/><rect x="271.8" y="327.7" width="1.0" height="1.0"/><rect x="256.8" y="328.9" width="1.0" height="1.0"/><rect x="280.0" y="310.0" width="1.0" height="1.0"/><rect x="279.8" y="323.9" width="1.0" height="1.0"/><rect x="281.8" y="320.0" width="1.0" height="1.0"/><rect x="282.9" y="333.1" width="1.0" height="1.0"/><rect x="281.7" y="340.8" width="1.0" height="1.0"/><rect x="265.5" y="323.5" width="1.0" height="1.0"/><rect x="278.5" y="318.9" width="1.0" height="1.0"/><rect x="269.8" y="318.6" width="1.0" height="1.0"/><rect x="270.0" y="328.3" width="1.0" height="1.0"/><rect x="267.4" y="320.8" width="1.0" height="1.0"/><rect x="277.6" y="333.0" width="1.0" height="1.0"/><rect x="267.8" y="315.6" width="1.0" height="1.0"/><rect x="286.5" y="316.1" width="1.0" height="1.0"/><rect x="263.1" y="322.8" width="1.0" height="1.0"/><rect x="282.5" y="311.5" width="1.0" height="1.0"/><rect x="268.2" y="319.3" width="1.0" height="1.0"/><rect x="287.7" y="322.9" width="1.0" height="1.0"/><rect x="288.5" y="313.8" width="1.0" height="1.0"/><rect x="268.8" y="330.1" width="1.0" height="1.0"/><rect x="289.6" y="323.3" width="1.0" height="1.0"/><rect x="264.6" y="312.1" width="1.0" height="1.0"/><rect x="276.1" y="314.5" width="1.0" height="1.0"/><rect x="286.7" y="336.5" width="1.0" height="1.0"/><rect x="263.0" y="317.5" width="1.0" height="1.0"/><rect x="286.7" y="329.8" width="1.0" height="1.0"/><rect x="286.6" y="319.7" width="1.0" height="1.0"/><rect x="260.9" y="317.9" width="1.0" height="1.0"/><rect x="286.2" y="317.2" width="1.0" height="1.0"/><rect x="269.2" y="322.2" width="1.0" height="1.0"/><rect x="272.0" y="321.9" width="1.0" height="1.0"/><rect x="272.5" y="340.3" width="1.0" height="1.0"/><rect x="284.3" y="336.4" width="1.0" height="1.0"/><rect x="281.2" y="325.6" width="1.0" height="1.0"/><rect x="267.0" y="319.6" width="1.0" height="1.0"/><rect x="278.4" y="317.8" width="1.0" height="1.0"/><rect x="290.3" y="331.6" width="1.0" height="1.0"/><rect x="290.2" y="327.6" width="1.0" height="1.0"/><rect x="262.5" y="318.2" width="1.0" height="1.0"/><rect x="281.2" y="325.8" width="1.0" height="1.0"/><rect x="271.7" y="339.9" width="1.0" height="1.0"/><rect x="279.3" y="319.6" width="1.0" height="1.0"/><rect x="265.6" y="337.3" width="1.0" height="1.0"/><rect x="274.1" y="334.6" width="1.0" height="1.0"/><rect x="269.4" y="314.7" width="1.0" height="1.0"/><rect x="276.3" y="335.8" width="1.0" height="1.0"/><rect x="262.5" y="334.9" width="1.0" height="1.0"/><rect x="279.9" y="337.3" width="1.0" height="1.0"/><rect x="266.2" y="325.9" width="1.0" height="1.0"/><rect x="272.1" y="324.1" width="1.0" height="1.0"/><rect x="259.3" y="325.1" width="1.0" height="1.0"/><rect x="268.0" y="318.7" width="1.0" height="1.0"/><rect x="269.3" y="330.0" width="1.0" height="1.0"/><rect x="278.3" y="320.3" width="1.0" height="1.0"/><rect x="263.3" y="319.2" width="1.0" height="1.0"/><rect x="260.7" y="326.9" width="1.0" height="1.0"/><rect x="283.2" y="320.9" width="1.0" height="1.0"/><rect x="270.2" y="328.6" width="1.0" height="1.0"/><rect x="285.7" y="320.9" width="1.0" height="1.0"/><rect x="286.4" y="329.2" width="1.0" height="1.0"/><rect x="272.4" y="320.7" width="1.0" height="1.0"/><rect x="274.9" y="331.9" width="1.0" height="1.0"/><rect x="272.0" y="331.6" width="1.0" height="1.0"/><rect x="273.5" y="316.3" width="1.0" height="1.0"/><rect x="276.4" y="331.6" width="1.0" height="1.0"/><rect x="258.7" y="322.4" width="1.0" height="1.0"/><rect x="272.2" y="337.9" width="1.0" height="1.0"/><rect x="291.6" y="320.7" width="1.0" height="1.0"/><rect x="290.1" y="334.9" width="1.0" height="1.0"/><rect x="266.0" y="323.8" width="1.0" height="1.0"/><rect x="260.7" y="335.6" width="1.0" height="1.0"/><rect x="281.2" y="338.2" width="1.0" height="1.0"/></g>
<g clip-path="url(#c1)"><g filter="url(#bl)"><rect x="257.5" y="311" width="35.0" height="31.5" rx="9" fill="#8a98ee" fill-opacity="0.55"/><rect x="259.8" y="314.2" width="31.0" height="26.8" rx="8" fill="#3a4ee0" fill-opacity="1"/><rect x="262.5" y="316" width="26.0" height="23.5" rx="7" fill="#4f7fe8" fill-opacity="1"/><rect x="265.8" y="317.9" width="20.4" height="20.3" rx="6" fill="#48c8ec" fill-opacity="1"/><rect x="269.5" y="318.8" width="14.8" height="9.3" rx="4.5" fill="#86dc6c" fill-opacity="1"/><rect x="269.5" y="329.8" width="14.8" height="7.5" rx="3.5" fill="#86dc6c" fill-opacity="1"/><ellipse cx="266.5" cy="328.8" rx="2.6" ry="1.8" fill="#4a8ae8"/><ellipse cx="278.8" cy="323.9" rx="5" ry="4" fill="#e6e050"/><circle cx="278.8" cy="323.9" r="3.3" fill="#e89030"/><circle cx="278.8" cy="323.9" r="2.1" fill="#c83a24"/><ellipse cx="278.6" cy="332.7" rx="4.5" ry="3" fill="#e6e050"/><circle cx="278.6" cy="332.7" r="2.1" fill="#e07a30"/></g></g>
<line x1="289.50" y1="295.70" x2="289.50" y2="343.00" stroke="#9a9a9a" stroke-width="0.9" />
<line x1="253.50" y1="329.50" x2="316.50" y2="329.50" stroke="#9a9a9a" stroke-width="0.9" />
<text x="269.50" y="304.80" font-size="8.8" text-anchor="start" fill="#111" stroke="#111" stroke-width="0.12" >62%</text>
<line x1="246.50" y1="350.20" x2="246.50" y2="329.60" stroke="#111" stroke-width="1.1" />
<path d="M246.50,324.60 L244.00,330.10 L249.00,330.10 Z" fill="#111"/>
<line x1="246.00" y1="350.20" x2="269.60" y2="350.20" stroke="#111" stroke-width="1.1" />
<path d="M274.60,350.20 L269.10,347.70 L269.10,352.70 Z" fill="#111"/>
<text x="248.30" y="310.80" font-size="8.6" text-anchor="middle" fill="#111" stroke="#111" stroke-width="0.12" transform="rotate(-90 248.30 310.80)" >CD41</text>
<text x="276.20" y="353.80" font-size="9.2" text-anchor="start" fill="#111" stroke="#111" stroke-width="0.12" >Ter119</text>
<text x="7.60" y="385.30" font-size="10.5" text-anchor="start" fill="#111" stroke="#111" stroke-width="0.12" font-weight="bold" >F</text>
<rect x="31.70" y="399.40" width="63.80" height="46.00" fill="#fff" stroke="#c8c8c8" stroke-width="0.9" />
<g clip-path="url(#c2)" fill="#7080dc" fill-opacity="0.45"><rect x="59.9" y="423.0" width="1.0" height="1.0"/><rect x="66.6" y="423.0" width="1.0" height="1.0"/><rect x="35.6" y="434.7" width="1.0" height="1.0"/><rect x="69.2" y="412.2" width="1.0" height="1.0"/><rect x="47.0" y="418.2" width="1.0" height="1.0"/><rect x="54.6" y="422.1" width="1.0" height="1.0"/><rect x="51.0" y="435.9" width="1.0" height="1.0"/><rect x="55.7" y="408.2" width="1.0" height="1.0"/><rect x="56.4" y="407.0" width="1.0" height="1.0"/><rect x="50.2" y="411.8" width="1.0" height="1.0"/><rect x="37.8" y="425.0" width="1.0" height="1.0"/><rect x="56.1" y="424.2" width="1.0" height="1.0"/><rect x="62.2" y="407.2" width="1.0" height="1.0"/><rect x="42.2" y="419.8" width="1.0" height="1.0"/><rect x="46.9" y="429.5" width="1.0" height="1.0"/><rect x="43.6" y="423.1" width="1.0" height="1.0"/><rect x="62.4" y="412.6" width="1.0" height="1.0"/><rect x="45.5" y="426.9" width="1.0" height="1.0"/><rect x="52.1" y="408.1" width="1.0" height="1.0"/><rect x="65.7" y="421.3" width="1.0" height="1.0"/><rect x="48.7" y="427.2" width="1.0" height="1.0"/><rect x="45.7" y="435.3" width="1.0" height="1.0"/><rect x="44.5" y="423.7" width="1.0" height="1.0"/><rect x="57.1" y="426.4" width="1.0" height="1.0"/><rect x="42.6" y="437.7" width="1.0" height="1.0"/><rect x="67.6" y="420.2" width="1.0" height="1.0"/><rect x="35.8" y="430.6" width="1.0" height="1.0"/><rect x="62.2" y="426.6" width="1.0" height="1.0"/><rect x="53.1" y="434.3" width="1.0" height="1.0"/><rect x="50.6" y="417.3" width="1.0" height="1.0"/><rect x="40.8" y="421.3" width="1.0" height="1.0"/><rect x="68.9" y="408.9" width="1.0" height="1.0"/><rect x="44.8" y="419.8" width="1.0" height="1.0"/><rect x="60.2" y="425.3" width="1.0" height="1.0"/><rect x="49.3" y="421.8" width="1.0" height="1.0"/><rect x="36.2" y="435.1" width="1.0" height="1.0"/><rect x="60.8" y="423.6" width="1.0" height="1.0"/><rect x="37.7" y="431.9" width="1.0" height="1.0"/><rect x="45.5" y="438.3" width="1.0" height="1.0"/><rect x="44.4" y="426.9" width="1.0" height="1.0"/><rect x="67.3" y="407.7" width="1.0" height="1.0"/><rect x="55.1" y="426.6" width="1.0" height="1.0"/><rect x="48.1" y="418.8" width="1.0" height="1.0"/><rect x="43.3" y="418.2" width="1.0" height="1.0"/><rect x="69.5" y="411.3" width="1.0" height="1.0"/><rect x="49.5" y="419.0" width="1.0" height="1.0"/><rect x="34.6" y="429.4" width="1.0" height="1.0"/><rect x="67.2" y="420.8" width="1.0" height="1.0"/><rect x="51.7" y="431.2" width="1.0" height="1.0"/><rect x="64.3" y="417.8" width="1.0" height="1.0"/><rect x="61.5" y="422.1" width="1.0" height="1.0"/><rect x="50.6" y="429.6" width="1.0" height="1.0"/><rect x="44.4" y="427.9" width="1.0" height="1.0"/><rect x="64.0" y="417.9" width="1.0" height="1.0"/><rect x="51.9" y="436.0" width="1.0" height="1.0"/><rect x="58.3" y="419.2" width="1.0" height="1.0"/><rect x="36.3" y="436.7" width="1.0" height="1.0"/><rect x="46.2" y="432.2" width="1.0" height="1.0"/><rect x="55.6" y="428.9" width="1.0" height="1.0"/><rect x="61.6" y="423.3" width="1.0" height="1.0"/><rect x="49.1" y="429.0" width="1.0" height="1.0"/><rect x="65.1" y="421.3" width="1.0" height="1.0"/><rect x="52.2" y="432.5" width="1.0" height="1.0"/><rect x="67.4" y="415.0" width="1.0" height="1.0"/><rect x="53.1" y="422.0" width="1.0" height="1.0"/><rect x="45.9" y="437.6" width="1.0" height="1.0"/><rect x="66.4" y="409.2" width="1.0" height="1.0"/><rect x="61.8" y="420.6" width="1.0" height="1.0"/><rect x="54.7" y="409.5" width="1.0" height="1.0"/><rect x="62.7" y="415.6" width="1.0" height="1.0"/><rect x="56.4" y="415.9" width="1.0" height="1.0"/><rect x="60.4" y="423.6" width="1.0" height="1.0"/><rect x="60.0" y="422.2" width="1.0" height="1.0"/><rect x="52.3" y="426.4" width="1.0" height="1.0"/><rect x="45.4" y="433.4" width="1.0" height="1.0"/><rect x="49.3" y="409.9" width="1.0" height="1.0"/><rect x="46.8" y="417.8" width="1.0" height="1.0"/><rect x="40.9" y="421.3" width="1.0" height="1.0"/><rect x="49.0" y="420.8" width="1.0" height="1.0"/><rect x="57.2" y="420.5" width="1.0" height="1.0"/><rect x="49.4" y="436.8" width="1.0" height="1.0"/><rect x="43.1" y="426.6" width="1.0" height="1.0"/><rect x="40.6" y="417.0" width="1.0" height="1.0"/><rect x="49.6" y="411.3" width="1.0" height="1.0"/><rect x="51.0" y="417.8" width="1.0" height="1.0"/><rect x="61.8" y="428.1" width="1.0" height="1.0"/><rect x="61.5" y="411.5" width="1.0" height="1.0"/><rect x="64.7" y="415.8" width="1.0" height="1.0"/><rect x="42.1" y="419.1" width="1.0" height="1.0"/><rect x="56.2" y="420.5" width="1.0" height="1.0"/><rect x="53.4" y="416.2" width="1.0" height="1.0"/><rect x="39.8" y="434.3" width="1.0" height="1.0"/><rect x="50.3" y="412.1" width="1.0" height="1.0"/><rect x="62.4" y="425.5" width="1.0" height="1.0"/><rect x="46.8" y="424.3" width="1.0" height="1.0"/><rect x="39.6" y="425.9" width="1.0" height="1.0"/><rect x="66.1" y="406.4" width="1.0" height="1.0"/><rect x="51.5" y="414.9" width="1.0" height="1.0"/><rect x="68.2" y="408.3" width="1.0" height="1.0"/><rect x="46.4" y="421.1" width="1.0" height="1.0"/><rect x="68.2" y="408.2" width="1.0" height="1.0"/><rect x="44.4" y="427.6" width="1.0" height="1.0"/><rect x="41.1" y="434.9" width="1.0" height="1.0"/><rect x="46.9" y="419.8" width="1.0" height="1.0"/><rect x="66.5" y="420.0" width="1.0" height="1.0"/><rect x="36.1" y="436.4" width="1.0" height="1.0"/><rect x="51.1" y="436.4" width="1.0" height="1.0"/><rect x="57.6" y="409.4" width="1.0" height="1.0"/><rect x="38.8" y="422.2" width="1.0" height="1.0"/><rect x="55.3" y="418.5" width="1.0" height="1.0"/><rect x="58.5" y="419.8" width="1.0" height="1.0"/><rect x="54.3" y="408.1" width="1.0" height="1.0"/><rect x="57.7" y="411.0" width="1.0" height="1.0"/><rect x="50.6" y="418.0" width="1.0" height="1.0"/><rect x="45.6" y="428.3" width="1.0" height="1.0"/><rect x="48.7" y="420.5" width="1.0" height="1.0"/><rect x="61.7" y="416.7" width="1.0" height="1.0"/><rect x="56.9" y="430.9" width="1.0" height="1.0"/><rect x="65.8" y="411.9" width="1.0" height="1.0"/><rect x="50.7" y="425.4" width="1.0" height="1.0"/><rect x="61.1" y="418.5" width="1.0" height="1.0"/><rect x="57.7" y="430.1" width="1.0" height="1.0"/><rect x="46.5" y="423.3" width="1.0" height="1.0"/><rect x="59.2" y="406.5" width="1.0" height="1.0"/><rect x="50.2" y="433.8" width="1.0" height="1.0"/><rect x="57.5" y="415.3" width="1.0" height="1.0"/><rect x="49.1" y="433.2" width="1.0" height="1.0"/><rect x="52.0" y="423.5" width="1.0" height="1.0"/><rect x="49.3" y="419.0" width="1.0" height="1.0"/><rect x="41.6" y="433.4" width="1.0" height="1.0"/><rect x="47.8" y="435.5" width="1.0" height="1.0"/><rect x="64.4" y="416.8" width="1.0" height="1.0"/><rect x="51.8" y="408.0" width="1.0" height="1.0"/><rect x="59.2" y="407.2" width="1.0" height="1.0"/><rect x="63.9" y="426.2" width="1.0" height="1.0"/><rect x="53.5" y="409.3" width="1.0" height="1.0"/><rect x="51.5" y="435.6" width="1.0" height="1.0"/><rect x="41.9" y="433.9" width="1.0" height="1.0"/><rect x="43.9" y="418.2" width="1.0" height="1.0"/><rect x="49.1" y="410.1" width="1.0" height="1.0"/><rect x="36.9" y="430.9" width="1.0" height="1.0"/><rect x="58.3" y="424.3" width="1.0" height="1.0"/><rect x="46.8" y="420.5" width="1.0" height="1.0"/><rect x="55.2" y="419.0" width="1.0" height="1.0"/><rect x="64.8" y="407.3" width="1.0" height="1.0"/><rect x="40.1" y="438.2" width="1.0" height="1.0"/><rect x="42.3" y="434.3" width="1.0" height="1.0"/><rect x="58.5" y="429.4" width="1.0" height="1.0"/><rect x="55.7" y="422.7" width="1.0" height="1.0"/><rect x="44.8" y="429.6" width="1.0" height="1.0"/><rect x="47.6" y="433.6" width="1.0" height="1.0"/><rect x="46.9" y="414.8" width="1.0" height="1.0"/><rect x="41.1" y="427.1" width="1.0" height="1.0"/><rect x="55.0" y="409.4" width="1.0" height="1.0"/><rect x="61.6" y="418.8" width="1.0" height="1.0"/><rect x="40.6" y="436.8" width="1.0" height="1.0"/><rect x="51.1" y="414.5" width="1.0" height="1.0"/><rect x="64.4" y="411.0" width="1.0" height="1.0"/><rect x="50.6" y="432.4" width="1.0" height="1.0"/><rect x="70.0" y="412.5" width="1.0" height="1.0"/><rect x="36.7" y="422.8" width="1.0" height="1.0"/><rect x="57.2" y="406.3" width="1.0" height="1.0"/><rect x="54.0" y="415.8" width="1.0" height="1.0"/><rect x="40.5" y="426.4" width="1.0" height="1.0"/><rect x="53.5" y="416.0" width="1.0" height="1.0"/><rect x="42.5" y="418.5" width="1.0" height="1.0"/><rect x="65.4" y="415.4" width="1.0" height="1.0"/><rect x="61.2" y="412.2" width="1.0" height="1.0"/><rect x="64.1" y="412.4" width="1.0" height="1.0"/><rect x="56.3" y="420.7" width="1.0" height="1.0"/><rect x="58.5" y="413.3" width="1.0" height="1.0"/><rect x="64.8" y="410.6" width="1.0" height="1.0"/><rect x="57.0" y="430.0" width="1.0" height="1.0"/><rect x="54.9" y="417.3" width="1.0" height="1.0"/><rect x="44.7" y="415.6" width="1.0" height="1.0"/><rect x="35.1" y="425.5" width="1.0" height="1.0"/><rect x="46.0" y="423.4" width="1.0" height="1.0"/><rect x="40.3" y="424.9" width="1.0" height="1.0"/><rect x="37.3" y="427.7" width="1.0" height="1.0"/><rect x="42.8" y="429.2" width="1.0" height="1.0"/><rect x="54.3" y="433.8" width="1.0" height="1.0"/><rect x="61.0" y="419.9" width="1.0" height="1.0"/><rect x="57.9" y="431.0" width="1.0" height="1.0"/><rect x="41.7" y="435.9" width="1.0" height="1.0"/><rect x="47.7" y="431.1" width="1.0" height="1.0"/><rect x="54.5" y="409.3" width="1.0" height="1.0"/><rect x="56.0" y="433.5" width="1.0" height="1.0"/><rect x="44.5" y="422.4" width="1.0" height="1.0"/><rect x="47.6" y="418.9" width="1.0" height="1.0"/><rect x="63.2" y="419.4" width="1.0" height="1.0"/><rect x="36.7" y="426.8" width="1.0" height="1.0"/><rect x="64.6" y="425.2" width="1.0" height="1.0"/><rect x="55.8" y="416.6" width="1.0" height="1.0"/><rect x="42.0" y="416.2" width="1.0" height="1.0"/><rect x="61.2" y="429.6" width="1.0" height="1.0"/><rect x="50.3" y="418.7" width="1.0" height="1.0"/><rect x="65.3" y="410.6" width="1.0" height="1.0"/><rect x="41.8" y="416.8" width="1.0" height="1.0"/><rect x="42.3" y="427.2" width="1.0" height="1.0"/><rect x="38.5" y="419.2" width="1.0" height="1.0"/><rect x="41.3" y="431.2" width="1.0" height="1.0"/><rect x="49.2" y="425.3" width="1.0" height="1.0"/><rect x="35.1" y="430.3" width="1.0" height="1.0"/><rect x="39.4" y="433.9" width="1.0" height="1.0"/><rect x="67.7" y="411.9" width="1.0" height="1.0"/><rect x="59.6" y="406.7" width="1.0" height="1.0"/><rect x="36.3" y="436.4" width="1.0" height="1.0"/><rect x="52.6" y="423.7" width="1.0" height="1.0"/><rect x="49.8" y="427.8" width="1.0" height="1.0"/><rect x="66.0" y="423.2" width="1.0" height="1.0"/><rect x="44.7" y="426.5" width="1.0" height="1.0"/><rect x="58.7" y="407.7" width="1.0" height="1.0"/><rect x="36.1" y="429.4" width="1.0" height="1.0"/><rect x="42.3" y="438.7" width="1.0" height="1.0"/><rect x="59.9" y="409.5" width="1.0" height="1.0"/><rect x="37.0" y="421.6" width="1.0" height="1.0"/><rect x="50.8" y="425.4" width="1.0" height="1.0"/><rect x="51.8" y="408.0" width="1.0" height="1.0"/><rect x="38.6" y="426.6" width="1.0" height="1.0"/><rect x="41.6" y="418.2" width="1.0" height="1.0"/><rect x="46.5" y="420.8" width="1.0" height="1.0"/><rect x="61.4" y="415.9" width="1.0" height="1.0"/><rect x="67.7" y="413.6" width="1.0" height="1.0"/><rect x="61.9" y="416.0" width="1.0" height="1.0"/><rect x="54.9" y="429.5" width="1.0" height="1.0"/><rect x="64.3" y="426.0" width="1.0" height="1.0"/><rect x="62.8" y="419.2" width="1.0" height="1.0"/><rect x="49.0" y="434.3" width="1.0" height="1.0"/><rect x="42.3" y="418.5" width="1.0" height="1.0"/><rect x="46.7" y="431.9" width="1.0" height="1.0"/><rect x="38.0" y="420.0" width="1.0" height="1.0"/><rect x="61.8" y="415.6" width="1.0" height="1.0"/><rect x="37.3" y="429.8" width="1.0" height="1.0"/><rect x="51.6" y="413.9" width="1.0" height="1.0"/><rect x="47.5" y="421.5" width="1.0" height="1.0"/><rect x="59.9" y="425.6" width="1.0" height="1.0"/><rect x="53.4" y="408.1" width="1.0" height="1.0"/><rect x="47.9" y="415.1" width="1.0" height="1.0"/><rect x="58.2" y="415.1" width="1.0" height="1.0"/><rect x="36.3" y="429.4" width="1.0" height="1.0"/><rect x="65.4" y="409.5" width="1.0" height="1.0"/><rect x="48.9" y="422.8" width="1.0" height="1.0"/><rect x="60.3" y="429.7" width="1.0" height="1.0"/><rect x="49.1" y="412.0" width="1.0" height="1.0"/><rect x="61.3" y="411.6" width="1.0" height="1.0"/><rect x="37.4" y="436.6" width="1.0" height="1.0"/><rect x="57.3" y="429.5" width="1.0" height="1.0"/><rect x="44.0" y="419.8" width="1.0" height="1.0"/><rect x="39.9" y="422.8" width="1.0" height="1.0"/><rect x="51.9" y="417.6" width="1.0" height="1.0"/><rect x="56.5" y="410.1" width="1.0" height="1.0"/><rect x="43.1" y="421.6" width="1.0" height="1.0"/><rect x="65.6" y="414.3" width="1.0" height="1.0"/><rect x="43.2" y="418.2" width="1.0" height="1.0"/><rect x="63.0" y="412.4" width="1.0" height="1.0"/><rect x="41.8" y="437.4" width="1.0" height="1.0"/><rect x="59.3" y="410.4" width="1.0" height="1.0"/><rect x="63.8" y="423.5" width="1.0" height="1.0"/><rect x="60.8" y="424.0" width="1.0" height="1.0"/><rect x="53.7" y="423.3" width="1.0" height="1.0"/></g>
<g clip-path="url(#c2)" fill="#9aa4e6" fill-opacity="0.4"><rect x="76.1" y="416.8" width="1.0" height="1.0"/><rect x="91.0" y="405.4" width="1.0" height="1.0"/><rect x="91.9" y="412.2" width="1.0" height="1.0"/><rect x="72.2" y="406.9" width="1.0" height="1.0"/><rect x="77.6" y="411.4" width="1.0" height="1.0"/><rect x="68.0" y="413.0" width="1.0" height="1.0"/><rect x="90.6" y="410.2" width="1.0" height="1.0"/><rect x="89.4" y="412.0" width="1.0" height="1.0"/><rect x="90.4" y="404.9" width="1.0" height="1.0"/><rect x="75.5" y="409.5" width="1.0" height="1.0"/><rect x="84.4" y="403.6" width="1.0" height="1.0"/><rect x="82.6" y="408.6" width="1.0" height="1.0"/><rect x="70.1" y="404.6" width="1.0" height="1.0"/><rect x="78.7" y="403.1" width="1.0" height="1.0"/><rect x="82.0" y="410.2" width="1.0" height="1.0"/><rect x="90.1" y="405.5" width="1.0" height="1.0"/><rect x="77.6" y="411.0" width="1.0" height="1.0"/><rect x="77.9" y="409.9" width="1.0" height="1.0"/><rect x="80.2" y="409.7" width="1.0" height="1.0"/><rect x="77.1" y="415.0" width="1.0" height="1.0"/><rect x="84.1" y="409.3" width="1.0" height="1.0"/><rect x="79.3" y="405.5" width="1.0" height="1.0"/><rect x="83.8" y="407.6" width="1.0" height="1.0"/><rect x="67.0" y="413.0" width="1.0" height="1.0"/><rect x="92.2" y="414.1" width="1.0" height="1.0"/><rect x="71.0" y="404.4" width="1.0" height="1.0"/><rect x="94.4" y="408.0" width="1.0" height="1.0"/><rect x="69.4" y="411.1" width="1.0" height="1.0"/><rect x="83.8" y="410.7" width="1.0" height="1.0"/><rect x="78.5" y="406.9" width="1.0" height="1.0"/><rect x="79.8" y="409.3" width="1.0" height="1.0"/><rect x="85.8" y="409.2" width="1.0" height="1.0"/><rect x="67.5" y="414.1" width="1.0" height="1.0"/><rect x="77.4" y="414.9" width="1.0" height="1.0"/><rect x="86.7" y="411.1" width="1.0" height="1.0"/><rect x="83.5" y="405.7" width="1.0" height="1.0"/><rect x="72.3" y="403.8" width="1.0" height="1.0"/><rect x="90.0" y="411.5" width="1.0" height="1.0"/><rect x="65.0" y="410.3" width="1.0" height="1.0"/><rect x="69.2" y="415.8" width="1.0" height="1.0"/><rect x="72.7" y="417.0" width="1.0" height="1.0"/><rect x="83.6" y="403.3" width="1.0" height="1.0"/><rect x="77.1" y="417.5" width="1.0" height="1.0"/><rect x="86.4" y="404.5" width="1.0" height="1.0"/><rect x="75.8" y="406.4" width="1.0" height="1.0"/><rect x="67.0" y="411.5" width="1.0" height="1.0"/><rect x="86.2" y="405.5" width="1.0" height="1.0"/><rect x="81.7" y="415.8" width="1.0" height="1.0"/><rect x="74.4" y="404.7" width="1.0" height="1.0"/><rect x="89.6" y="406.2" width="1.0" height="1.0"/><rect x="87.0" y="413.1" width="1.0" height="1.0"/><rect x="73.4" y="409.4" width="1.0" height="1.0"/><rect x="73.3" y="414.9" width="1.0" height="1.0"/><rect x="73.1" y="406.4" width="1.0" height="1.0"/><rect x="91.4" y="406.4" width="1.0" height="1.0"/><rect x="78.0" y="410.3" width="1.0" height="1.0"/><rect x="74.9" y="409.6" width="1.0" height="1.0"/><rect x="65.8" y="409.8" width="1.0" height="1.0"/><rect x="75.5" y="410.0" width="1.0" height="1.0"/><rect x="73.6" y="407.0" width="1.0" height="1.0"/></g>
<g clip-path="url(#c2)" fill="#4a5ed0" fill-opacity="0.6"><rect x="57.0" y="437.8" width="1.0" height="1.0"/><rect x="45.3" y="432.6" width="1.0" height="1.0"/><rect x="47.6" y="440.2" width="1.0" height="1.0"/><rect x="44.9" y="441.4" width="1.0" height="1.0"/><rect x="42.2" y="442.9" width="1.0" height="1.0"/><rect x="53.0" y="432.3" width="1.0" height="1.0"/><rect x="49.1" y="438.3" width="1.0" height="1.0"/><rect x="38.6" y="440.0" width="1.0" height="1.0"/><rect x="54.3" y="429.3" width="1.0" height="1.0"/><rect x="56.6" y="435.7" width="1.0" height="1.0"/><rect x="55.8" y="430.0" width="1.0" height="1.0"/><rect x="55.3" y="432.0" width="1.0" height="1.0"/><rect x="49.7" y="431.5" width="1.0" height="1.0"/><rect x="60.2" y="432.7" width="1.0" height="1.0"/><rect x="39.4" y="441.4" width="1.0" height="1.0"/><rect x="45.4" y="443.9" width="1.0" height="1.0"/><rect x="58.6" y="432.0" width="1.0" height="1.0"/><rect x="52.2" y="437.5" width="1.0" height="1.0"/><rect x="32.9" y="438.8" width="1.0" height="1.0"/><rect x="48.8" y="432.0" width="1.0" height="1.0"/><rect x="47.3" y="428.9" width="1.0" height="1.0"/><rect x="57.9" y="432.5" width="1.0" height="1.0"/><rect x="37.1" y="442.4" width="1.0" height="1.0"/><rect x="40.0" y="433.4" width="1.0" height="1.0"/><rect x="44.6" y="430.7" width="1.0" height="1.0"/><rect x="40.8" y="444.5" width="1.0" height="1.0"/><rect x="44.5" y="443.8" width="1.0" height="1.0"/><rect x="49.3" y="431.9" width="1.0" height="1.0"/><rect x="42.9" y="435.6" width="1.0" height="1.0"/><rect x="34.0" y="439.4" width="1.0" height="1.0"/><rect x="53.4" y="431.9" width="1.0" height="1.0"/><rect x="53.9" y="440.1" width="1.0" height="1.0"/><rect x="47.3" y="441.5" width="1.0" height="1.0"/><rect x="55.4" y="433.2" width="1.0" height="1.0"/><rect x="47.3" y="439.4" width="1.0" height="1.0"/><rect x="42.2" y="430.7" width="1.0" height="1.0"/><rect x="52.7" y="429.9" width="1.0" height="1.0"/><rect x="48.2" y="440.4" width="1.0" height="1.0"/><rect x="36.9" y="441.2" width="1.0" height="1.0"/><rect x="41.7" y="433.8" width="1.0" height="1.0"/><rect x="48.0" y="442.9" width="1.0" height="1.0"/><rect x="39.6" y="437.2" width="1.0" height="1.0"/><rect x="58.3" y="433.8" width="1.0" height="1.0"/><rect x="40.3" y="438.0" width="1.0" height="1.0"/><rect x="44.4" y="430.8" width="1.0" height="1.0"/><rect x="42.5" y="434.3" width="1.0" height="1.0"/><rect x="54.6" y="430.2" width="1.0" height="1.0"/><rect x="54.1" y="441.4" width="1.0" height="1.0"/><rect x="58.2" y="429.8" width="1.0" height="1.0"/><rect x="48.9" y="432.2" width="1.0" height="1.0"/><rect x="44.1" y="436.9" width="1.0" height="1.0"/><rect x="43.1" y="429.9" width="1.0" height="1.0"/><rect x="37.3" y="443.3" width="1.0" height="1.0"/><rect x="45.5" y="444.0" width="1.0" height="1.0"/><rect x="49.8" y="433.7" width="1.0" height="1.0"/><rect x="56.7" y="437.8" width="1.0" height="1.0"/><rect x="46.6" y="435.6" width="1.0" height="1.0"/><rect x="35.0" y="438.0" width="1.0" height="1.0"/><rect x="37.7" y="441.5" width="1.0" height="1.0"/><rect x="48.1" y="429.6" width="1.0" height="1.0"/><rect x="48.4" y="428.6" width="1.0" height="1.0"/><rect x="36.7" y="442.2" width="1.0" height="1.0"/><rect x="48.1" y="442.4" width="1.0" height="1.0"/><rect x="51.7" y="437.7" width="1.0" height="1.0"/><rect x="38.3" y="444.8" width="1.0" height="1.0"/><rect x="35.9" y="442.0" width="1.0" height="1.0"/><rect x="57.8" y="431.2" width="1.0" height="1.0"/><rect x="54.1" y="438.4" width="1.0" height="1.0"/><rect x="58.2" y="430.9" width="1.0" height="1.0"/><rect x="54.6" y="432.3" width="1.0" height="1.0"/><rect x="41.9" y="441.5" width="1.0" height="1.0"/><rect x="55.9" y="429.0" width="1.0" height="1.0"/><rect x="59.8" y="430.2" width="1.0" height="1.0"/><rect x="51.1" y="435.1" width="1.0" height="1.0"/><rect x="40.9" y="430.6" width="1.0" height="1.0"/><rect x="60.8" y="434.4" width="1.0" height="1.0"/><rect x="40.3" y="431.3" width="1.0" height="1.0"/><rect x="51.4" y="427.8" width="1.0" height="1.0"/><rect x="48.1" y="435.0" width="1.0" height="1.0"/><rect x="44.5" y="429.7" width="1.0" height="1.0"/><rect x="35.1" y="440.7" width="1.0" height="1.0"/><rect x="33.9" y="441.2" width="1.0" height="1.0"/><rect x="35.9" y="436.3" width="1.0" height="1.0"/><rect x="37.5" y="440.6" width="1.0" height="1.0"/><rect x="42.3" y="433.0" width="1.0" height="1.0"/><rect x="39.5" y="439.8" width="1.0" height="1.0"/><rect x="58.1" y="430.6" width="1.0" height="1.0"/><rect x="36.5" y="436.7" width="1.0" height="1.0"/><rect x="40.1" y="439.8" width="1.0" height="1.0"/><rect x="55.5" y="434.1" width="1.0" height="1.0"/><rect x="37.3" y="436.6" width="1.0" height="1.0"/><rect x="43.3" y="436.3" width="1.0" height="1.0"/><rect x="49.3" y="437.9" width="1.0" height="1.0"/><rect x="53.9" y="436.0" width="1.0" height="1.0"/><rect x="54.9" y="430.9" width="1.0" height="1.0"/><rect x="38.2" y="441.3" width="1.0" height="1.0"/><rect x="41.3" y="430.6" width="1.0" height="1.0"/><rect x="37.3" y="443.1" width="1.0" height="1.0"/><rect x="35.0" y="438.1" width="1.0" height="1.0"/><rect x="34.0" y="441.4" width="1.0" height="1.0"/><rect x="53.6" y="428.9" width="1.0" height="1.0"/><rect x="51.2" y="441.7" width="1.0" height="1.0"/><rect x="41.0" y="437.7" width="1.0" height="1.0"/><rect x="55.3" y="439.2" width="1.0" height="1.0"/><rect x="38.5" y="441.8" width="1.0" height="1.0"/><rect x="60.2" y="435.5" width="1.0" height="1.0"/><rect x="53.2" y="437.6" width="1.0" height="1.0"/><rect x="50.1" y="431.2" width="1.0" height="1.0"/><rect x="43.8" y="432.1" width="1.0" height="1.0"/><rect x="58.7" y="436.5" width="1.0" height="1.0"/><rect x="53.5" y="428.7" width="1.0" height="1.0"/><rect x="48.3" y="431.4" width="1.0" height="1.0"/><rect x="56.5" y="436.7" width="1.0" height="1.0"/><rect x="53.7" y="438.3" width="1.0" height="1.0"/><rect x="36.1" y="441.6" width="1.0" height="1.0"/><rect x="33.1" y="438.8" width="1.0" height="1.0"/><rect x="59.3" y="430.4" width="1.0" height="1.0"/><rect x="48.3" y="431.7" width="1.0" height="1.0"/><rect x="36.2" y="438.6" width="1.0" height="1.0"/><rect x="44.2" y="438.6" width="1.0" height="1.0"/><rect x="49.5" y="437.3" width="1.0" height="1.0"/><rect x="45.2" y="432.7" width="1.0" height="1.0"/><rect x="38.0" y="438.4" width="1.0" height="1.0"/><rect x="56.1" y="434.0" width="1.0" height="1.0"/><rect x="45.3" y="430.1" width="1.0" height="1.0"/><rect x="49.5" y="434.7" width="1.0" height="1.0"/><rect x="57.4" y="432.8" width="1.0" height="1.0"/><rect x="54.2" y="438.7" width="1.0" height="1.0"/><rect x="48.0" y="441.4" width="1.0" height="1.0"/><rect x="56.1" y="429.9" width="1.0" height="1.0"/><rect x="38.0" y="433.0" width="1.0" height="1.0"/><rect x="45.3" y="442.7" width="1.0" height="1.0"/><rect x="39.2" y="431.7" width="1.0" height="1.0"/><rect x="51.9" y="438.8" width="1.0" height="1.0"/><rect x="41.6" y="431.6" width="1.0" height="1.0"/><rect x="50.0" y="442.6" width="1.0" height="1.0"/><rect x="49.1" y="439.9" width="1.0" height="1.0"/><rect x="45.9" y="434.1" width="1.0" height="1.0"/><rect x="51.6" y="440.6" width="1.0" height="1.0"/><rect x="52.8" y="438.9" width="1.0" height="1.0"/></g>
<g clip-path="url(#c2)"><g filter="url(#bl)"><ellipse cx="52.00" cy="432.00" rx="12.00" ry="6.00" transform="rotate(-35 52.00 432.00)" fill="#8090e2" fill-opacity="0.6"/><ellipse cx="47.00" cy="437.50" rx="13.50" ry="6.50" transform="rotate(-22 47.00 437.50)" fill="#5468d6" fill-opacity="0.85"/><ellipse cx="47.00" cy="438.50" rx="9.00" ry="4.20" transform="rotate(-22 47.00 438.50)" fill="#4456cf" fill-opacity="0.85"/></g></g>
<g clip-path="url(#c2)"><g filter="url(#bl)"><ellipse cx="87.50" cy="422.50" rx="14.00" ry="8.50" transform="rotate(-8 87.50 422.50)" fill="#2f3fc8" fill-opacity="1"/><ellipse cx="88.20" cy="422.60" rx="11.20" ry="6.60" transform="rotate(-8 88.20 422.60)" fill="#4a6ee0" fill-opacity="1"/><ellipse cx="88.60" cy="422.70" rx="8.60" ry="5.00" transform="rotate(-8 88.60 422.70)" fill="#4cc0e4" fill-opacity="1"/><ellipse cx="88.80" cy="422.70" rx="6.00" ry="3.50" transform="rotate(-8 88.80 422.70)" fill="#80d060" fill-opacity="1"/><ellipse cx="88.80" cy="422.70" rx="3.60" ry="2.40" transform="rotate(0 88.80 422.70)" fill="#e2d448" fill-opacity="1"/><ellipse cx="88.80" cy="422.70" rx="2.00" ry="1.50" transform="rotate(0 88.80 422.70)" fill="#d83a2a" fill-opacity="1"/></g></g>
<line x1="66.30" y1="399.40" x2="66.30" y2="445.40" stroke="#9a9a9a" stroke-width="0.9" />
<line x1="31.70" y1="431.30" x2="95.50" y2="431.30" stroke="#9a9a9a" stroke-width="0.9" />
<rect x="104.60" y="399.40" width="63.90" height="46.20" fill="#fff" stroke="#c8c8c8" stroke-width="0.9" />
<g clip-path="url(#c3)" fill="#6f80de" fill-opacity="0.45"><rect x="121.0" y="423.7" width="1.0" height="1.0"/><rect x="141.6" y="415.1" width="1.0" height="1.0"/><rect x="136.3" y="424.2" width="1.0" height="1.0"/><rect x="106.5" y="437.5" width="1.0" height="1.0"/><rect x="104.6" y="436.2" width="1.0" height="1.0"/><rect x="132.5" y="437.0" width="1.0" height="1.0"/><rect x="108.6" y="429.6" width="1.0" height="1.0"/><rect x="146.6" y="435.5" width="1.0" height="1.0"/><rect x="139.2" y="424.0" width="1.0" height="1.0"/><rect x="156.6" y="415.7" width="1.0" height="1.0"/><rect x="125.0" y="439.2" width="1.0" height="1.0"/><rect x="115.0" y="436.6" width="1.0" height="1.0"/><rect x="143.0" y="422.2" width="1.0" height="1.0"/><rect x="134.8" y="417.0" width="1.0" height="1.0"/><rect x="146.1" y="422.6" width="1.0" height="1.0"/><rect x="123.6" y="433.9" width="1.0" height="1.0"/><rect x="130.5" y="424.4" width="1.0" height="1.0"/><rect x="155.5" y="426.4" width="1.0" height="1.0"/><rect x="119.0" y="435.1" width="1.0" height="1.0"/><rect x="139.4" y="436.0" width="1.0" height="1.0"/><rect x="148.3" y="418.3" width="1.0" height="1.0"/><rect x="131.6" y="435.6" width="1.0" height="1.0"/><rect x="112.4" y="435.1" width="1.0" height="1.0"/><rect x="106.4" y="441.5" width="1.0" height="1.0"/><rect x="152.7" y="424.1" width="1.0" height="1.0"/><rect x="157.9" y="415.9" width="1.0" height="1.0"/><rect x="148.3" y="426.1" width="1.0" height="1.0"/><rect x="139.8" y="425.3" width="1.0" height="1.0"/><rect x="134.5" y="432.3" width="1.0" height="1.0"/><rect x="108.1" y="441.8" width="1.0" height="1.0"/><rect x="154.2" y="416.3" width="1.0" height="1.0"/><rect x="128.9" y="434.2" width="1.0" height="1.0"/><rect x="103.8" y="437.2" width="1.0" height="1.0"/><rect x="109.2" y="430.0" width="1.0" height="1.0"/><rect x="130.7" y="438.8" width="1.0" height="1.0"/><rect x="107.5" y="435.7" width="1.0" height="1.0"/><rect x="141.0" y="435.7" width="1.0" height="1.0"/><rect x="158.3" y="429.6" width="1.0" height="1.0"/><rect x="120.0" y="430.7" width="1.0" height="1.0"/><rect x="128.7" y="439.7" width="1.0" height="1.0"/><rect x="112.1" y="428.7" width="1.0" height="1.0"/><rect x="117.6" y="433.3" width="1.0" height="1.0"/><rect x="139.0" y="420.7" width="1.0" height="1.0"/><rect x="127.0" y="432.3" width="1.0" height="1.0"/><rect x="165.7" y="422.8" width="1.0" height="1.0"/><rect x="136.9" y="430.4" width="1.0" height="1.0"/><rect x="143.1" y="414.1" width="1.0" height="1.0"/><rect x="162.9" y="426.0" width="1.0" height="1.0"/><rect x="161.4" y="426.9" width="1.0" height="1.0"/><rect x="127.3" y="428.0" width="1.0" height="1.0"/><rect x="110.4" y="439.4" width="1.0" height="1.0"/><rect x="113.7" y="426.4" width="1.0" height="1.0"/><rect x="121.3" y="421.1" width="1.0" height="1.0"/><rect x="108.2" y="433.3" width="1.0" height="1.0"/><rect x="139.8" y="417.6" width="1.0" height="1.0"/><rect x="117.8" y="429.7" width="1.0" height="1.0"/><rect x="123.4" y="422.2" width="1.0" height="1.0"/><rect x="132.7" y="428.3" width="1.0" height="1.0"/><rect x="123.1" y="425.9" width="1.0" height="1.0"/><rect x="153.8" y="413.4" width="1.0" height="1.0"/><rect x="134.2" y="419.3" width="1.0" height="1.0"/><rect x="134.3" y="416.3" width="1.0" height="1.0"/><rect x="140.4" y="438.3" width="1.0" height="1.0"/><rect x="160.0" y="424.8" width="1.0" height="1.0"/><rect x="118.6" y="430.0" width="1.0" height="1.0"/><rect x="115.5" y="441.2" width="1.0" height="1.0"/><rect x="139.2" y="433.7" width="1.0" height="1.0"/><rect x="121.9" y="425.3" width="1.0" height="1.0"/><rect x="160.1" y="427.6" width="1.0" height="1.0"/><rect x="157.4" y="426.8" width="1.0" height="1.0"/><rect x="117.5" y="434.1" width="1.0" height="1.0"/><rect x="122.2" y="420.3" width="1.0" height="1.0"/><rect x="120.9" y="437.5" width="1.0" height="1.0"/><rect x="164.1" y="417.2" width="1.0" height="1.0"/><rect x="163.4" y="415.3" width="1.0" height="1.0"/><rect x="114.9" y="427.6" width="1.0" height="1.0"/><rect x="113.2" y="427.6" width="1.0" height="1.0"/><rect x="146.0" y="434.5" width="1.0" height="1.0"/><rect x="156.9" y="420.4" width="1.0" height="1.0"/><rect x="147.1" y="431.6" width="1.0" height="1.0"/><rect x="109.3" y="440.4" width="1.0" height="1.0"/><rect x="163.6" y="425.8" width="1.0" height="1.0"/><rect x="151.0" y="422.2" width="1.0" height="1.0"/><rect x="116.4" y="441.4" width="1.0" height="1.0"/><rect x="126.4" y="438.4" width="1.0" height="1.0"/><rect x="164.7" y="415.7" width="1.0" height="1.0"/><rect x="131.9" y="440.3" width="1.0" height="1.0"/><rect x="147.1" y="415.7" width="1.0" height="1.0"/><rect x="114.5" y="442.9" width="1.0" height="1.0"/><rect x="125.7" y="432.3" width="1.0" height="1.0"/><rect x="166.6" y="421.5" width="1.0" height="1.0"/><rect x="139.9" y="437.3" width="1.0" height="1.0"/><rect x="133.5" y="437.9" width="1.0" height="1.0"/><rect x="154.0" y="414.6" width="1.0" height="1.0"/><rect x="117.4" y="428.5" width="1.0" height="1.0"/><rect x="118.9" y="435.4" width="1.0" height="1.0"/><rect x="118.8" y="431.2" width="1.0" height="1.0"/><rect x="125.2" y="430.1" width="1.0" height="1.0"/><rect x="143.4" y="435.5" width="1.0" height="1.0"/><rect x="133.0" y="439.2" width="1.0" height="1.0"/><rect x="135.3" y="428.7" width="1.0" height="1.0"/><rect x="133.0" y="416.5" width="1.0" height="1.0"/><rect x="128.8" y="422.0" width="1.0" height="1.0"/><rect x="113.6" y="434.3" width="1.0" height="1.0"/><rect x="150.0" y="424.6" width="1.0" height="1.0"/><rect x="123.9" y="432.1" width="1.0" height="1.0"/><rect x="140.7" y="433.3" width="1.0" height="1.0"/><rect x="110.0" y="437.7" width="1.0" height="1.0"/><rect x="117.1" y="428.2" width="1.0" height="1.0"/><rect x="152.7" y="422.5" width="1.0" height="1.0"/><rect x="140.9" y="432.6" width="1.0" height="1.0"/><rect x="161.3" y="418.0" width="1.0" height="1.0"/><rect x="142.3" y="425.8" width="1.0" height="1.0"/><rect x="137.2" y="432.1" width="1.0" height="1.0"/><rect x="132.2" y="429.8" width="1.0" height="1.0"/><rect x="136.9" y="438.5" width="1.0" height="1.0"/><rect x="150.7" y="432.4" width="1.0" height="1.0"/><rect x="142.1" y="436.9" width="1.0" height="1.0"/><rect x="154.3" y="412.6" width="1.0" height="1.0"/><rect x="110.1" y="434.6" width="1.0" height="1.0"/><rect x="105.4" y="431.1" width="1.0" height="1.0"/><rect x="108.6" y="440.8" width="1.0" height="1.0"/><rect x="156.3" y="431.1" width="1.0" height="1.0"/><rect x="114.3" y="440.2" width="1.0" height="1.0"/><rect x="142.7" y="416.5" width="1.0" height="1.0"/><rect x="128.3" y="429.8" width="1.0" height="1.0"/><rect x="112.6" y="433.6" width="1.0" height="1.0"/><rect x="134.8" y="424.0" width="1.0" height="1.0"/><rect x="114.0" y="430.3" width="1.0" height="1.0"/><rect x="138.1" y="425.5" width="1.0" height="1.0"/><rect x="143.1" y="425.7" width="1.0" height="1.0"/><rect x="107.7" y="431.0" width="1.0" height="1.0"/><rect x="117.4" y="424.4" width="1.0" height="1.0"/><rect x="133.0" y="439.0" width="1.0" height="1.0"/><rect x="153.8" y="415.8" width="1.0" height="1.0"/><rect x="141.1" y="431.1" width="1.0" height="1.0"/><rect x="146.6" y="422.3" width="1.0" height="1.0"/><rect x="145.9" y="432.1" width="1.0" height="1.0"/><rect x="130.8" y="425.3" width="1.0" height="1.0"/><rect x="141.6" y="436.6" width="1.0" height="1.0"/><rect x="117.2" y="424.4" width="1.0" height="1.0"/><rect x="134.8" y="421.5" width="1.0" height="1.0"/><rect x="121.4" y="427.5" width="1.0" height="1.0"/><rect x="150.2" y="417.8" width="1.0" height="1.0"/><rect x="132.6" y="420.6" width="1.0" height="1.0"/><rect x="150.5" y="424.3" width="1.0" height="1.0"/><rect x="114.7" y="433.9" width="1.0" height="1.0"/><rect x="155.1" y="419.8" width="1.0" height="1.0"/><rect x="137.2" y="435.7" width="1.0" height="1.0"/><rect x="128.1" y="430.4" width="1.0" height="1.0"/><rect x="127.3" y="438.9" width="1.0" height="1.0"/><rect x="149.4" y="426.8" width="1.0" height="1.0"/><rect x="127.7" y="426.5" width="1.0" height="1.0"/><rect x="109.0" y="442.5" width="1.0" height="1.0"/><rect x="116.7" y="425.4" width="1.0" height="1.0"/><rect x="160.2" y="424.1" width="1.0" height="1.0"/><rect x="119.0" y="426.7" width="1.0" height="1.0"/><rect x="121.3" y="431.4" width="1.0" height="1.0"/><rect x="112.5" y="434.0" width="1.0" height="1.0"/><rect x="165.9" y="419.1" width="1.0" height="1.0"/><rect x="121.6" y="428.7" width="1.0" height="1.0"/><rect x="133.4" y="428.6" width="1.0" height="1.0"/><rect x="115.7" y="434.4" width="1.0" height="1.0"/><rect x="107.7" y="434.3" width="1.0" height="1.0"/><rect x="120.4" y="426.0" width="1.0" height="1.0"/><rect x="140.8" y="426.9" width="1.0" height="1.0"/><rect x="152.4" y="426.3" width="1.0" height="1.0"/><rect x="151.8" y="432.1" width="1.0" height="1.0"/><rect x="126.6" y="426.4" width="1.0" height="1.0"/><rect x="150.6" y="426.6" width="1.0" height="1.0"/><rect x="161.3" y="422.7" width="1.0" height="1.0"/><rect x="152.4" y="430.2" width="1.0" height="1.0"/><rect x="111.8" y="436.1" width="1.0" height="1.0"/><rect x="137.8" y="435.6" width="1.0" height="1.0"/><rect x="157.1" y="429.0" width="1.0" height="1.0"/><rect x="143.3" y="435.2" width="1.0" height="1.0"/><rect x="148.3" y="428.6" width="1.0" height="1.0"/><rect x="110.2" y="432.5" width="1.0" height="1.0"/><rect x="139.7" y="429.7" width="1.0" height="1.0"/><rect x="144.5" y="429.5" width="1.0" height="1.0"/><rect x="130.6" y="416.9" width="1.0" height="1.0"/><rect x="156.1" y="427.4" width="1.0" height="1.0"/><rect x="135.5" y="428.7" width="1.0" height="1.0"/><rect x="142.1" y="414.7" width="1.0" height="1.0"/><rect x="148.5" y="417.4" width="1.0" height="1.0"/><rect x="105.7" y="431.6" width="1.0" height="1.0"/><rect x="147.6" y="416.5" width="1.0" height="1.0"/><rect x="133.7" y="425.4" width="1.0" height="1.0"/><rect x="135.0" y="432.6" width="1.0" height="1.0"/><rect x="153.1" y="425.1" width="1.0" height="1.0"/><rect x="141.1" y="415.4" width="1.0" height="1.0"/><rect x="110.4" y="429.8" width="1.0" height="1.0"/><rect x="149.3" y="418.4" width="1.0" height="1.0"/><rect x="135.8" y="415.4" width="1.0" height="1.0"/><rect x="104.9" y="432.0" width="1.0" height="1.0"/><rect x="147.5" y="428.8" width="1.0" height="1.0"/><rect x="144.8" y="419.5" width="1.0" height="1.0"/><rect x="135.8" y="426.8" width="1.0" height="1.0"/><rect x="130.0" y="420.0" width="1.0" height="1.0"/><rect x="158.2" y="412.9" width="1.0" height="1.0"/><rect x="103.5" y="437.2" width="1.0" height="1.0"/><rect x="130.0" y="423.8" width="1.0" height="1.0"/><rect x="116.9" y="435.9" width="1.0" height="1.0"/><rect x="112.0" y="436.1" width="1.0" height="1.0"/><rect x="155.8" y="421.5" width="1.0" height="1.0"/><rect x="161.5" y="424.5" width="1.0" height="1.0"/><rect x="120.6" y="442.7" width="1.0" height="1.0"/><rect x="130.6" y="417.4" width="1.0" height="1.0"/><rect x="102.8" y="438.2" width="1.0" height="1.0"/><rect x="130.3" y="424.5" width="1.0" height="1.0"/><rect x="110.6" y="432.0" width="1.0" height="1.0"/><rect x="125.6" y="439.6" width="1.0" height="1.0"/><rect x="164.2" y="423.9" width="1.0" height="1.0"/><rect x="159.4" y="414.8" width="1.0" height="1.0"/><rect x="125.9" y="428.2" width="1.0" height="1.0"/><rect x="125.5" y="429.3" width="1.0" height="1.0"/><rect x="124.4" y="442.4" width="1.0" height="1.0"/><rect x="117.1" y="427.9" width="1.0" height="1.0"/><rect x="133.4" y="420.7" width="1.0" height="1.0"/><rect x="130.2" y="441.1" width="1.0" height="1.0"/><rect x="162.2" y="427.0" width="1.0" height="1.0"/><rect x="146.5" y="434.7" width="1.0" height="1.0"/><rect x="163.9" y="419.9" width="1.0" height="1.0"/><rect x="149.7" y="422.0" width="1.0" height="1.0"/><rect x="152.4" y="426.0" width="1.0" height="1.0"/><rect x="117.8" y="422.2" width="1.0" height="1.0"/><rect x="132.0" y="425.0" width="1.0" height="1.0"/><rect x="123.7" y="437.7" width="1.0" height="1.0"/><rect x="143.6" y="420.2" width="1.0" height="1.0"/><rect x="137.9" y="424.4" width="1.0" height="1.0"/><rect x="111.0" y="427.3" width="1.0" height="1.0"/><rect x="132.7" y="421.7" width="1.0" height="1.0"/><rect x="129.1" y="420.8" width="1.0" height="1.0"/><rect x="121.7" y="422.0" width="1.0" height="1.0"/><rect x="116.3" y="428.0" width="1.0" height="1.0"/><rect x="142.4" y="435.4" width="1.0" height="1.0"/><rect x="150.5" y="420.8" width="1.0" height="1.0"/><rect x="129.6" y="430.4" width="1.0" height="1.0"/><rect x="125.8" y="426.9" width="1.0" height="1.0"/><rect x="105.0" y="432.1" width="1.0" height="1.0"/><rect x="136.2" y="430.9" width="1.0" height="1.0"/><rect x="156.4" y="413.9" width="1.0" height="1.0"/><rect x="118.3" y="427.1" width="1.0" height="1.0"/><rect x="128.1" y="428.9" width="1.0" height="1.0"/><rect x="160.4" y="419.1" width="1.0" height="1.0"/><rect x="131.1" y="440.0" width="1.0" height="1.0"/><rect x="158.7" y="429.3" width="1.0" height="1.0"/><rect x="137.8" y="431.7" width="1.0" height="1.0"/><rect x="165.2" y="423.8" width="1.0" height="1.0"/><rect x="146.5" y="430.9" width="1.0" height="1.0"/><rect x="132.6" y="430.1" width="1.0" height="1.0"/><rect x="120.8" y="443.2" width="1.0" height="1.0"/><rect x="143.0" y="420.5" width="1.0" height="1.0"/><rect x="109.1" y="430.2" width="1.0" height="1.0"/><rect x="145.3" y="429.7" width="1.0" height="1.0"/><rect x="137.2" y="429.4" width="1.0" height="1.0"/><rect x="125.7" y="424.0" width="1.0" height="1.0"/><rect x="137.9" y="414.7" width="1.0" height="1.0"/><rect x="121.9" y="431.3" width="1.0" height="1.0"/><rect x="165.8" y="421.7" width="1.0" height="1.0"/></g>
<g clip-path="url(#c3)"><g filter="url(#bl)"><ellipse cx="137.00" cy="429.00" rx="26.00" ry="5.50" transform="rotate(-17 137.00 429.00)" fill="#5a6ed8" fill-opacity="0.55"/></g></g>
<g clip-path="url(#c3)"><g filter="url(#bl)"><path d="M106.5,445.5 L132,445.5 L141.5,430.5 L137,427.2 L122,429.5 L109,436 Z" fill="#3a4ed8" fill-opacity="1"/><path d="M109,444 L131,444 L139,431.5 L135,429.3 L122,431.2 L111,437 Z" fill="#4c78e4" fill-opacity="1"/><path d="M111.5,442.8 L130,442.8 L136.5,432.5 L124,433.6 L113.5,438.2 Z" fill="#48c4ec" fill-opacity="1"/><path d="M114.5,441.8 L128.5,441.8 L132.5,434.5 L124,435.5 L116.5,439 Z" fill="#84d86a" fill-opacity="1"/><ellipse cx="125.5" cy="439.3" rx="5.2" ry="2.8" fill="#e6dc50"/><ellipse cx="125.5" cy="439.3" rx="3.6" ry="2.1" fill="#e88a30"/><ellipse cx="125.5" cy="439.3" rx="2.5" ry="1.6" fill="#c83020"/></g></g>
<g clip-path="url(#c3)"><g filter="url(#bl)"><ellipse cx="156.00" cy="423.00" rx="13.50" ry="8.00" transform="rotate(-12 156.00 423.00)" fill="#2f3fc8" fill-opacity="1"/><ellipse cx="157.00" cy="423.00" rx="11.50" ry="6.50" transform="rotate(-12 157.00 423.00)" fill="#4a6ee0" fill-opacity="1"/><ellipse cx="158.00" cy="422.60" rx="9.50" ry="5.20" transform="rotate(-12 158.00 422.60)" fill="#4cc0e4" fill-opacity="1"/><ellipse cx="159.50" cy="422.50" rx="7.00" ry="4.00" transform="rotate(-12 159.50 422.50)" fill="#80d060" fill-opacity="1"/><ellipse cx="160.00" cy="422.50" rx="3.00" ry="2.00" transform="rotate(-12 160.00 422.50)" fill="#a0e070" fill-opacity="1"/></g></g>
<line x1="140.60" y1="399.40" x2="140.60" y2="445.60" stroke="#9a9a9a" stroke-width="0.9" />
<line x1="104.60" y1="431.70" x2="168.50" y2="431.70" stroke="#9a9a9a" stroke-width="0.9" />
<rect x="31.30" y="465.60" width="64.20" height="46.50" fill="#fff" stroke="#c8c8c8" stroke-width="0.9" />
<g clip-path="url(#c4)" fill="#6a7ad8" fill-opacity="0.45"><rect x="47.2" y="486.8" width="1.0" height="1.0"/><rect x="37.6" y="489.0" width="1.0" height="1.0"/><rect x="49.1" y="491.0" width="1.0" height="1.0"/><rect x="38.4" y="486.9" width="1.0" height="1.0"/><rect x="52.3" y="488.2" width="1.0" height="1.0"/><rect x="52.7" y="483.2" width="1.0" height="1.0"/><rect x="42.5" y="482.4" width="1.0" height="1.0"/><rect x="48.1" y="496.2" width="1.0" height="1.0"/><rect x="49.9" y="493.7" width="1.0" height="1.0"/><rect x="45.6" y="493.2" width="1.0" height="1.0"/><rect x="39.6" y="485.5" width="1.0" height="1.0"/><rect x="51.7" y="492.8" width="1.0" height="1.0"/><rect x="46.4" y="482.0" width="1.0" height="1.0"/><rect x="43.1" y="484.1" width="1.0" height="1.0"/><rect x="43.4" y="494.3" width="1.0" height="1.0"/><rect x="41.7" y="495.6" width="1.0" height="1.0"/><rect x="45.5" y="488.9" width="1.0" height="1.0"/><rect x="38.0" y="487.7" width="1.0" height="1.0"/><rect x="50.0" y="482.6" width="1.0" height="1.0"/><rect x="49.7" y="495.7" width="1.0" height="1.0"/><rect x="39.3" y="489.7" width="1.0" height="1.0"/><rect x="47.9" y="496.2" width="1.0" height="1.0"/><rect x="46.3" y="487.3" width="1.0" height="1.0"/><rect x="50.9" y="482.1" width="1.0" height="1.0"/><rect x="49.7" y="483.4" width="1.0" height="1.0"/><rect x="50.3" y="496.8" width="1.0" height="1.0"/><rect x="38.6" y="489.9" width="1.0" height="1.0"/><rect x="50.2" y="483.0" width="1.0" height="1.0"/><rect x="52.3" y="496.7" width="1.0" height="1.0"/><rect x="42.5" y="490.9" width="1.0" height="1.0"/><rect x="38.4" y="486.7" width="1.0" height="1.0"/><rect x="51.7" y="490.5" width="1.0" height="1.0"/><rect x="53.8" y="482.0" width="1.0" height="1.0"/><rect x="44.8" y="495.2" width="1.0" height="1.0"/><rect x="49.8" y="488.2" width="1.0" height="1.0"/><rect x="45.9" y="497.3" width="1.0" height="1.0"/><rect x="49.6" y="480.8" width="1.0" height="1.0"/><rect x="54.3" y="486.1" width="1.0" height="1.0"/><rect x="46.6" y="484.1" width="1.0" height="1.0"/><rect x="46.8" y="486.0" width="1.0" height="1.0"/><rect x="39.4" y="491.2" width="1.0" height="1.0"/><rect x="39.7" y="493.8" width="1.0" height="1.0"/><rect x="54.5" y="489.0" width="1.0" height="1.0"/><rect x="52.4" y="484.7" width="1.0" height="1.0"/><rect x="53.0" y="487.7" width="1.0" height="1.0"/><rect x="45.9" y="486.8" width="1.0" height="1.0"/><rect x="55.6" y="486.8" width="1.0" height="1.0"/><rect x="51.5" y="483.4" width="1.0" height="1.0"/><rect x="55.2" y="484.9" width="1.0" height="1.0"/><rect x="58.2" y="490.8" width="1.0" height="1.0"/><rect x="41.9" y="487.1" width="1.0" height="1.0"/><rect x="50.3" y="496.9" width="1.0" height="1.0"/><rect x="44.9" y="482.9" width="1.0" height="1.0"/><rect x="49.3" y="482.8" width="1.0" height="1.0"/><rect x="39.3" y="490.0" width="1.0" height="1.0"/><rect x="52.1" y="481.6" width="1.0" height="1.0"/><rect x="47.0" y="492.5" width="1.0" height="1.0"/><rect x="53.5" y="487.0" width="1.0" height="1.0"/><rect x="52.5" y="493.6" width="1.0" height="1.0"/><rect x="56.0" y="488.9" width="1.0" height="1.0"/><rect x="48.6" y="483.4" width="1.0" height="1.0"/><rect x="50.7" y="481.9" width="1.0" height="1.0"/><rect x="53.9" y="484.3" width="1.0" height="1.0"/><rect x="47.1" y="490.0" width="1.0" height="1.0"/><rect x="45.7" y="483.4" width="1.0" height="1.0"/><rect x="47.6" y="496.6" width="1.0" height="1.0"/><rect x="48.7" y="496.5" width="1.0" height="1.0"/><rect x="56.2" y="489.8" width="1.0" height="1.0"/><rect x="48.5" y="489.6" width="1.0" height="1.0"/><rect x="51.0" y="489.7" width="1.0" height="1.0"/><rect x="43.8" y="492.8" width="1.0" height="1.0"/><rect x="52.6" y="482.3" width="1.0" height="1.0"/><rect x="52.2" y="488.2" width="1.0" height="1.0"/><rect x="47.8" y="491.3" width="1.0" height="1.0"/><rect x="38.6" y="490.7" width="1.0" height="1.0"/><rect x="45.3" y="495.4" width="1.0" height="1.0"/><rect x="42.4" y="494.5" width="1.0" height="1.0"/><rect x="52.8" y="491.1" width="1.0" height="1.0"/><rect x="50.0" y="490.9" width="1.0" height="1.0"/><rect x="51.7" y="487.4" width="1.0" height="1.0"/><rect x="50.3" y="483.6" width="1.0" height="1.0"/><rect x="38.9" y="486.5" width="1.0" height="1.0"/><rect x="47.4" y="489.6" width="1.0" height="1.0"/><rect x="44.5" y="493.8" width="1.0" height="1.0"/><rect x="49.9" y="497.1" width="1.0" height="1.0"/><rect x="39.7" y="486.4" width="1.0" height="1.0"/><rect x="42.4" y="493.8" width="1.0" height="1.0"/><rect x="41.5" y="484.3" width="1.0" height="1.0"/><rect x="45.3" y="493.1" width="1.0" height="1.0"/><rect x="47.3" y="489.4" width="1.0" height="1.0"/><rect x="45.3" y="491.3" width="1.0" height="1.0"/><rect x="42.5" y="484.9" width="1.0" height="1.0"/><rect x="48.4" y="483.9" width="1.0" height="1.0"/><rect x="46.7" y="496.5" width="1.0" height="1.0"/><rect x="42.8" y="495.0" width="1.0" height="1.0"/><rect x="50.2" y="484.3" width="1.0" height="1.0"/><rect x="38.7" y="485.2" width="1.0" height="1.0"/><rect x="43.8" y="494.1" width="1.0" height="1.0"/><rect x="44.2" y="484.7" width="1.0" height="1.0"/><rect x="50.2" y="488.9" width="1.0" height="1.0"/><rect x="44.8" y="494.7" width="1.0" height="1.0"/><rect x="45.9" y="484.1" width="1.0" height="1.0"/><rect x="43.3" y="488.3" width="1.0" height="1.0"/><rect x="50.3" y="490.2" width="1.0" height="1.0"/><rect x="46.7" y="483.7" width="1.0" height="1.0"/><rect x="45.9" y="486.0" width="1.0" height="1.0"/><rect x="41.1" y="489.7" width="1.0" height="1.0"/><rect x="41.5" y="492.6" width="1.0" height="1.0"/><rect x="51.3" y="482.8" width="1.0" height="1.0"/><rect x="50.6" y="486.2" width="1.0" height="1.0"/><rect x="46.9" y="490.8" width="1.0" height="1.0"/><rect x="53.5" y="495.5" width="1.0" height="1.0"/><rect x="52.9" y="484.1" width="1.0" height="1.0"/><rect x="48.9" y="486.2" width="1.0" height="1.0"/><rect x="37.9" y="489.9" width="1.0" height="1.0"/><rect x="47.4" y="495.2" width="1.0" height="1.0"/><rect x="44.3" y="494.7" width="1.0" height="1.0"/><rect x="48.3" y="482.2" width="1.0" height="1.0"/><rect x="52.6" y="485.3" width="1.0" height="1.0"/><rect x="48.7" y="481.7" width="1.0" height="1.0"/><rect x="51.1" y="487.2" width="1.0" height="1.0"/><rect x="56.2" y="489.1" width="1.0" height="1.0"/><rect x="40.3" y="492.2" width="1.0" height="1.0"/><rect x="45.0" y="485.1" width="1.0" height="1.0"/><rect x="44.2" y="487.0" width="1.0" height="1.0"/><rect x="41.3" y="490.9" width="1.0" height="1.0"/><rect x="55.7" y="490.2" width="1.0" height="1.0"/><rect x="37.9" y="488.6" width="1.0" height="1.0"/><rect x="55.7" y="492.0" width="1.0" height="1.0"/><rect x="56.6" y="493.3" width="1.0" height="1.0"/><rect x="43.2" y="482.9" width="1.0" height="1.0"/><rect x="47.0" y="492.1" width="1.0" height="1.0"/><rect x="42.4" y="486.1" width="1.0" height="1.0"/><rect x="53.2" y="486.4" width="1.0" height="1.0"/><rect x="50.1" y="489.8" width="1.0" height="1.0"/><rect x="41.4" y="493.7" width="1.0" height="1.0"/><rect x="51.6" y="482.1" width="1.0" height="1.0"/><rect x="40.3" y="484.1" width="1.0" height="1.0"/><rect x="48.9" y="495.8" width="1.0" height="1.0"/><rect x="42.0" y="483.9" width="1.0" height="1.0"/><rect x="51.9" y="487.7" width="1.0" height="1.0"/><rect x="57.2" y="492.7" width="1.0" height="1.0"/><rect x="47.9" y="481.5" width="1.0" height="1.0"/><rect x="54.5" y="487.3" width="1.0" height="1.0"/><rect x="47.2" y="491.2" width="1.0" height="1.0"/><rect x="57.7" y="490.0" width="1.0" height="1.0"/><rect x="39.3" y="486.5" width="1.0" height="1.0"/><rect x="56.2" y="493.5" width="1.0" height="1.0"/><rect x="48.7" y="496.4" width="1.0" height="1.0"/><rect x="48.8" y="491.9" width="1.0" height="1.0"/><rect x="49.7" y="483.9" width="1.0" height="1.0"/><rect x="55.0" y="485.3" width="1.0" height="1.0"/><rect x="40.2" y="485.6" width="1.0" height="1.0"/><rect x="38.3" y="487.4" width="1.0" height="1.0"/><rect x="53.9" y="488.2" width="1.0" height="1.0"/><rect x="41.1" y="482.9" width="1.0" height="1.0"/><rect x="49.6" y="483.9" width="1.0" height="1.0"/><rect x="51.5" y="489.4" width="1.0" height="1.0"/><rect x="49.7" y="494.9" width="1.0" height="1.0"/><rect x="40.7" y="486.9" width="1.0" height="1.0"/><rect x="57.7" y="487.2" width="1.0" height="1.0"/><rect x="43.5" y="488.7" width="1.0" height="1.0"/><rect x="41.3" y="494.9" width="1.0" height="1.0"/><rect x="50.9" y="482.1" width="1.0" height="1.0"/><rect x="57.7" y="489.3" width="1.0" height="1.0"/><rect x="42.8" y="490.9" width="1.0" height="1.0"/><rect x="57.4" y="486.4" width="1.0" height="1.0"/><rect x="38.7" y="489.5" width="1.0" height="1.0"/><rect x="44.0" y="495.0" width="1.0" height="1.0"/><rect x="47.3" y="482.6" width="1.0" height="1.0"/><rect x="44.0" y="484.3" width="1.0" height="1.0"/><rect x="41.2" y="491.3" width="1.0" height="1.0"/><rect x="57.2" y="486.8" width="1.0" height="1.0"/><rect x="50.9" y="486.0" width="1.0" height="1.0"/><rect x="56.7" y="489.9" width="1.0" height="1.0"/><rect x="52.4" y="486.6" width="1.0" height="1.0"/><rect x="49.2" y="492.5" width="1.0" height="1.0"/><rect x="39.1" y="492.5" width="1.0" height="1.0"/><rect x="52.4" y="496.5" width="1.0" height="1.0"/><rect x="38.7" y="490.2" width="1.0" height="1.0"/><rect x="48.2" y="494.9" width="1.0" height="1.0"/><rect x="45.1" y="491.8" width="1.0" height="1.0"/><rect x="56.3" y="486.4" width="1.0" height="1.0"/><rect x="48.3" y="495.7" width="1.0" height="1.0"/><rect x="44.1" y="488.3" width="1.0" height="1.0"/><rect x="43.5" y="494.1" width="1.0" height="1.0"/><rect x="48.7" y="493.2" width="1.0" height="1.0"/><rect x="54.7" y="492.1" width="1.0" height="1.0"/><rect x="42.2" y="484.9" width="1.0" height="1.0"/><rect x="47.0" y="481.6" width="1.0" height="1.0"/><rect x="57.5" y="487.4" width="1.0" height="1.0"/><rect x="51.1" y="494.1" width="1.0" height="1.0"/><rect x="51.0" y="487.7" width="1.0" height="1.0"/><rect x="37.9" y="487.9" width="1.0" height="1.0"/><rect x="45.7" y="496.6" width="1.0" height="1.0"/><rect x="49.6" y="483.9" width="1.0" height="1.0"/><rect x="50.3" y="487.0" width="1.0" height="1.0"/><rect x="41.4" y="495.5" width="1.0" height="1.0"/><rect x="48.6" y="491.8" width="1.0" height="1.0"/><rect x="40.5" y="493.2" width="1.0" height="1.0"/><rect x="56.2" y="483.9" width="1.0" height="1.0"/><rect x="47.4" y="491.6" width="1.0" height="1.0"/><rect x="47.5" y="493.3" width="1.0" height="1.0"/><rect x="51.0" y="485.8" width="1.0" height="1.0"/><rect x="51.8" y="493.6" width="1.0" height="1.0"/><rect x="47.2" y="490.5" width="1.0" height="1.0"/><rect x="50.8" y="488.6" width="1.0" height="1.0"/><rect x="39.4" y="487.4" width="1.0" height="1.0"/><rect x="53.8" y="492.8" width="1.0" height="1.0"/><rect x="39.1" y="488.6" width="1.0" height="1.0"/><rect x="49.8" y="489.6" width="1.0" height="1.0"/><rect x="40.6" y="491.5" width="1.0" height="1.0"/><rect x="52.1" y="489.6" width="1.0" height="1.0"/><rect x="57.2" y="490.3" width="1.0" height="1.0"/><rect x="52.2" y="481.9" width="1.0" height="1.0"/><rect x="53.6" y="483.4" width="1.0" height="1.0"/><rect x="48.2" y="488.0" width="1.0" height="1.0"/><rect x="48.4" y="493.6" width="1.0" height="1.0"/><rect x="45.3" y="493.6" width="1.0" height="1.0"/><rect x="52.1" y="485.9" width="1.0" height="1.0"/><rect x="47.5" y="495.5" width="1.0" height="1.0"/><rect x="44.3" y="492.4" width="1.0" height="1.0"/><rect x="42.9" y="494.0" width="1.0" height="1.0"/><rect x="50.3" y="494.2" width="1.0" height="1.0"/><rect x="39.0" y="487.5" width="1.0" height="1.0"/><rect x="47.0" y="494.3" width="1.0" height="1.0"/><rect x="47.0" y="481.2" width="1.0" height="1.0"/><rect x="41.9" y="494.6" width="1.0" height="1.0"/><rect x="56.0" y="490.3" width="1.0" height="1.0"/><rect x="55.7" y="485.4" width="1.0" height="1.0"/></g>
<g clip-path="url(#c4)"><g filter="url(#bl)"><ellipse cx="48.00" cy="489.50" rx="8.00" ry="6.00" transform="rotate(0 48.00 489.50)" fill="#98a4e6" fill-opacity="0.5"/></g></g>
<g clip-path="url(#c4)" fill="#4a5ed6" fill-opacity="0.6"><rect x="65.7" y="505.5" width="1.0" height="1.0"/><rect x="65.9" y="503.9" width="1.0" height="1.0"/><rect x="71.5" y="508.3" width="1.0" height="1.0"/><rect x="67.7" y="503.6" width="1.0" height="1.0"/><rect x="64.5" y="504.8" width="1.0" height="1.0"/><rect x="72.6" y="506.7" width="1.0" height="1.0"/><rect x="61.2" y="504.5" width="1.0" height="1.0"/><rect x="68.2" y="505.7" width="1.0" height="1.0"/><rect x="68.5" y="507.1" width="1.0" height="1.0"/><rect x="55.2" y="507.9" width="1.0" height="1.0"/><rect x="66.7" y="502.8" width="1.0" height="1.0"/><rect x="74.6" y="504.6" width="1.0" height="1.0"/><rect x="60.8" y="508.8" width="1.0" height="1.0"/><rect x="59.5" y="506.3" width="1.0" height="1.0"/><rect x="62.5" y="503.0" width="1.0" height="1.0"/><rect x="66.0" y="508.4" width="1.0" height="1.0"/><rect x="55.8" y="504.1" width="1.0" height="1.0"/><rect x="61.9" y="502.8" width="1.0" height="1.0"/><rect x="63.9" y="508.2" width="1.0" height="1.0"/><rect x="67.8" y="506.2" width="1.0" height="1.0"/><rect x="72.5" y="503.5" width="1.0" height="1.0"/><rect x="65.6" y="505.1" width="1.0" height="1.0"/><rect x="66.4" y="503.3" width="1.0" height="1.0"/><rect x="70.6" y="503.2" width="1.0" height="1.0"/><rect x="56.0" y="508.2" width="1.0" height="1.0"/><rect x="74.7" y="505.5" width="1.0" height="1.0"/><rect x="61.9" y="504.2" width="1.0" height="1.0"/><rect x="58.6" y="506.8" width="1.0" height="1.0"/><rect x="56.3" y="503.3" width="1.0" height="1.0"/><rect x="62.9" y="503.7" width="1.0" height="1.0"/><rect x="67.6" y="508.2" width="1.0" height="1.0"/><rect x="70.7" y="505.9" width="1.0" height="1.0"/><rect x="60.3" y="505.5" width="1.0" height="1.0"/><rect x="60.0" y="504.7" width="1.0" height="1.0"/><rect x="53.9" y="505.6" width="1.0" height="1.0"/><rect x="66.0" y="505.2" width="1.0" height="1.0"/><rect x="72.9" y="507.2" width="1.0" height="1.0"/><rect x="57.8" y="506.2" width="1.0" height="1.0"/><rect x="73.9" y="506.1" width="1.0" height="1.0"/><rect x="66.5" y="502.9" width="1.0" height="1.0"/><rect x="63.7" y="505.7" width="1.0" height="1.0"/><rect x="61.6" y="505.4" width="1.0" height="1.0"/><rect x="66.0" y="506.3" width="1.0" height="1.0"/><rect x="63.8" y="503.7" width="1.0" height="1.0"/><rect x="62.6" y="509.3" width="1.0" height="1.0"/><rect x="62.0" y="502.7" width="1.0" height="1.0"/><rect x="52.1" y="506.2" width="1.0" height="1.0"/><rect x="54.6" y="505.7" width="1.0" height="1.0"/><rect x="75.8" y="505.9" width="1.0" height="1.0"/><rect x="63.0" y="505.6" width="1.0" height="1.0"/><rect x="64.0" y="505.6" width="1.0" height="1.0"/><rect x="69.4" y="508.8" width="1.0" height="1.0"/><rect x="68.7" y="505.5" width="1.0" height="1.0"/><rect x="67.6" y="508.9" width="1.0" height="1.0"/><rect x="55.7" y="504.2" width="1.0" height="1.0"/><rect x="66.9" y="507.3" width="1.0" height="1.0"/><rect x="67.4" y="506.6" width="1.0" height="1.0"/><rect x="71.9" y="505.9" width="1.0" height="1.0"/><rect x="62.4" y="508.5" width="1.0" height="1.0"/><rect x="69.2" y="508.7" width="1.0" height="1.0"/></g>
<g clip-path="url(#c4)"><g filter="url(#bl)"><ellipse cx="45.00" cy="505.50" rx="14.00" ry="6.50" transform="rotate(0 45.00 505.50)" fill="#2e40c4" fill-opacity="1"/><ellipse cx="45.50" cy="506.00" rx="11.50" ry="5.00" transform="rotate(0 45.50 506.00)" fill="#4a70e0" fill-opacity="1"/><ellipse cx="46.00" cy="506.50" rx="8.50" ry="3.50" transform="rotate(0 46.00 506.50)" fill="#4cc0e4" fill-opacity="1"/><ellipse cx="46.20" cy="506.80" rx="5.50" ry="2.40" transform="rotate(0 46.20 506.80)" fill="#80d060" fill-opacity="1"/><ellipse cx="66.00" cy="506.50" rx="6.00" ry="2.50" transform="rotate(0 66.00 506.50)" fill="#4a5ed0" fill-opacity="0.8"/></g></g>
<line x1="62.50" y1="465.60" x2="62.50" y2="512.10" stroke="#9a9a9a" stroke-width="0.9" />
<line x1="31.30" y1="497.10" x2="95.50" y2="497.10" stroke="#a89272" stroke-width="0.9" />
<rect x="104.60" y="465.60" width="63.90" height="46.50" fill="#fff" stroke="#c8c8c8" stroke-width="0.9" />
<g clip-path="url(#c5)" fill="#6f80de" fill-opacity="0.5"><rect x="120.3" y="499.7" width="1.0" height="1.0"/><rect x="137.3" y="497.0" width="1.0" height="1.0"/><rect x="122.3" y="500.4" width="1.0" height="1.0"/><rect x="110.6" y="498.3" width="1.0" height="1.0"/><rect x="126.7" y="506.2" width="1.0" height="1.0"/><rect x="107.4" y="492.5" width="1.0" height="1.0"/><rect x="129.0" y="485.2" width="1.0" height="1.0"/><rect x="127.5" y="501.2" width="1.0" height="1.0"/><rect x="123.0" y="485.7" width="1.0" height="1.0"/><rect x="110.8" y="490.8" width="1.0" height="1.0"/><rect x="105.1" y="497.0" width="1.0" height="1.0"/><rect x="119.9" y="507.6" width="1.0" height="1.0"/><rect x="122.7" y="501.9" width="1.0" height="1.0"/><rect x="122.0" y="502.5" width="1.0" height="1.0"/><rect x="120.5" y="491.8" width="1.0" height="1.0"/><rect x="134.2" y="503.8" width="1.0" height="1.0"/><rect x="115.3" y="490.4" width="1.0" height="1.0"/><rect x="114.4" y="486.0" width="1.0" height="1.0"/><rect x="131.6" y="495.2" width="1.0" height="1.0"/><rect x="134.5" y="494.8" width="1.0" height="1.0"/><rect x="136.8" y="497.2" width="1.0" height="1.0"/><rect x="139.3" y="495.1" width="1.0" height="1.0"/><rect x="106.6" y="501.6" width="1.0" height="1.0"/><rect x="132.0" y="491.6" width="1.0" height="1.0"/><rect x="107.1" y="493.3" width="1.0" height="1.0"/><rect x="108.2" y="490.9" width="1.0" height="1.0"/><rect x="132.7" y="489.0" width="1.0" height="1.0"/><rect x="124.1" y="496.5" width="1.0" height="1.0"/><rect x="110.9" y="504.5" width="1.0" height="1.0"/><rect x="108.7" y="502.0" width="1.0" height="1.0"/><rect x="108.2" y="495.8" width="1.0" height="1.0"/><rect x="111.7" y="491.6" width="1.0" height="1.0"/><rect x="114.9" y="508.8" width="1.0" height="1.0"/><rect x="111.6" y="495.0" width="1.0" height="1.0"/><rect x="134.8" y="502.0" width="1.0" height="1.0"/><rect x="111.7" y="491.2" width="1.0" height="1.0"/><rect x="131.8" y="493.2" width="1.0" height="1.0"/><rect x="114.7" y="486.1" width="1.0" height="1.0"/><rect x="107.2" y="500.3" width="1.0" height="1.0"/><rect x="112.7" y="500.8" width="1.0" height="1.0"/><rect x="117.4" y="496.7" width="1.0" height="1.0"/><rect x="138.5" y="497.5" width="1.0" height="1.0"/><rect x="124.7" y="508.3" width="1.0" height="1.0"/><rect x="110.6" y="488.3" width="1.0" height="1.0"/><rect x="113.0" y="489.3" width="1.0" height="1.0"/><rect x="135.8" y="500.9" width="1.0" height="1.0"/><rect x="119.2" y="486.9" width="1.0" height="1.0"/><rect x="112.6" y="503.7" width="1.0" height="1.0"/><rect x="113.3" y="507.1" width="1.0" height="1.0"/><rect x="125.5" y="492.2" width="1.0" height="1.0"/><rect x="110.3" y="504.2" width="1.0" height="1.0"/><rect x="124.1" y="507.9" width="1.0" height="1.0"/><rect x="126.1" y="491.8" width="1.0" height="1.0"/><rect x="120.0" y="485.7" width="1.0" height="1.0"/><rect x="110.3" y="494.3" width="1.0" height="1.0"/><rect x="124.6" y="487.7" width="1.0" height="1.0"/><rect x="117.0" y="508.9" width="1.0" height="1.0"/><rect x="128.9" y="500.4" width="1.0" height="1.0"/><rect x="104.8" y="501.8" width="1.0" height="1.0"/><rect x="121.4" y="504.5" width="1.0" height="1.0"/><rect x="106.7" y="499.3" width="1.0" height="1.0"/><rect x="130.5" y="509.2" width="1.0" height="1.0"/><rect x="130.5" y="503.7" width="1.0" height="1.0"/><rect x="116.7" y="503.2" width="1.0" height="1.0"/><rect x="119.0" y="506.1" width="1.0" height="1.0"/><rect x="135.1" y="500.0" width="1.0" height="1.0"/><rect x="126.5" y="494.7" width="1.0" height="1.0"/><rect x="125.0" y="501.0" width="1.0" height="1.0"/><rect x="106.9" y="501.9" width="1.0" height="1.0"/><rect x="130.2" y="494.9" width="1.0" height="1.0"/><rect x="130.5" y="500.3" width="1.0" height="1.0"/><rect x="119.9" y="507.5" width="1.0" height="1.0"/><rect x="107.0" y="505.0" width="1.0" height="1.0"/><rect x="105.1" y="500.8" width="1.0" height="1.0"/><rect x="121.3" y="490.4" width="1.0" height="1.0"/><rect x="129.1" y="497.9" width="1.0" height="1.0"/><rect x="126.1" y="509.8" width="1.0" height="1.0"/><rect x="114.8" y="503.0" width="1.0" height="1.0"/><rect x="111.3" y="488.7" width="1.0" height="1.0"/><rect x="136.6" y="502.5" width="1.0" height="1.0"/><rect x="119.9" y="509.0" width="1.0" height="1.0"/><rect x="115.8" y="502.6" width="1.0" height="1.0"/><rect x="111.1" y="496.1" width="1.0" height="1.0"/><rect x="135.7" y="494.8" width="1.0" height="1.0"/><rect x="125.0" y="492.9" width="1.0" height="1.0"/><rect x="108.9" y="497.9" width="1.0" height="1.0"/><rect x="134.1" y="507.8" width="1.0" height="1.0"/><rect x="129.6" y="510.6" width="1.0" height="1.0"/><rect x="114.0" y="488.7" width="1.0" height="1.0"/><rect x="120.2" y="491.7" width="1.0" height="1.0"/><rect x="111.7" y="495.6" width="1.0" height="1.0"/><rect x="126.5" y="497.8" width="1.0" height="1.0"/><rect x="115.4" y="507.5" width="1.0" height="1.0"/><rect x="139.4" y="496.7" width="1.0" height="1.0"/><rect x="129.5" y="500.0" width="1.0" height="1.0"/><rect x="115.1" y="506.2" width="1.0" height="1.0"/><rect x="120.4" y="484.7" width="1.0" height="1.0"/><rect x="133.9" y="490.6" width="1.0" height="1.0"/><rect x="126.7" y="496.5" width="1.0" height="1.0"/><rect x="126.7" y="502.3" width="1.0" height="1.0"/><rect x="128.6" y="489.6" width="1.0" height="1.0"/><rect x="121.1" y="489.0" width="1.0" height="1.0"/><rect x="104.4" y="497.2" width="1.0" height="1.0"/><rect x="129.7" y="489.0" width="1.0" height="1.0"/><rect x="113.8" y="493.7" width="1.0" height="1.0"/><rect x="129.1" y="498.6" width="1.0" height="1.0"/><rect x="126.1" y="505.2" width="1.0" height="1.0"/><rect x="118.2" y="506.2" width="1.0" height="1.0"/><rect x="137.6" y="504.2" width="1.0" height="1.0"/><rect x="108.7" y="496.7" width="1.0" height="1.0"/><rect x="126.5" y="509.5" width="1.0" height="1.0"/><rect x="117.6" y="499.9" width="1.0" height="1.0"/><rect x="135.7" y="506.3" width="1.0" height="1.0"/><rect x="138.0" y="497.0" width="1.0" height="1.0"/><rect x="127.4" y="489.7" width="1.0" height="1.0"/><rect x="130.0" y="506.9" width="1.0" height="1.0"/><rect x="127.1" y="504.1" width="1.0" height="1.0"/><rect x="111.7" y="509.2" width="1.0" height="1.0"/><rect x="123.3" y="506.1" width="1.0" height="1.0"/><rect x="115.5" y="509.5" width="1.0" height="1.0"/><rect x="134.8" y="493.8" width="1.0" height="1.0"/><rect x="107.0" y="496.3" width="1.0" height="1.0"/><rect x="123.8" y="505.5" width="1.0" height="1.0"/><rect x="121.5" y="484.8" width="1.0" height="1.0"/><rect x="132.8" y="488.8" width="1.0" height="1.0"/><rect x="116.1" y="506.1" width="1.0" height="1.0"/><rect x="122.6" y="504.3" width="1.0" height="1.0"/><rect x="134.2" y="503.3" width="1.0" height="1.0"/><rect x="138.0" y="497.8" width="1.0" height="1.0"/><rect x="112.0" y="498.7" width="1.0" height="1.0"/><rect x="114.4" y="504.4" width="1.0" height="1.0"/><rect x="127.0" y="498.6" width="1.0" height="1.0"/><rect x="134.4" y="499.7" width="1.0" height="1.0"/><rect x="115.2" y="494.7" width="1.0" height="1.0"/><rect x="111.5" y="507.8" width="1.0" height="1.0"/><rect x="138.9" y="498.7" width="1.0" height="1.0"/><rect x="124.6" y="489.6" width="1.0" height="1.0"/><rect x="123.3" y="498.1" width="1.0" height="1.0"/><rect x="125.8" y="484.8" width="1.0" height="1.0"/><rect x="138.9" y="498.4" width="1.0" height="1.0"/><rect x="118.4" y="506.4" width="1.0" height="1.0"/><rect x="124.3" y="497.7" width="1.0" height="1.0"/><rect x="128.9" y="485.8" width="1.0" height="1.0"/><rect x="123.4" y="495.6" width="1.0" height="1.0"/><rect x="113.7" y="497.2" width="1.0" height="1.0"/><rect x="108.6" y="496.1" width="1.0" height="1.0"/><rect x="121.2" y="492.9" width="1.0" height="1.0"/><rect x="110.9" y="501.3" width="1.0" height="1.0"/><rect x="111.0" y="490.4" width="1.0" height="1.0"/><rect x="128.7" y="493.0" width="1.0" height="1.0"/><rect x="116.8" y="501.4" width="1.0" height="1.0"/><rect x="107.8" y="504.5" width="1.0" height="1.0"/><rect x="108.4" y="498.3" width="1.0" height="1.0"/><rect x="113.0" y="489.5" width="1.0" height="1.0"/><rect x="123.1" y="496.2" width="1.0" height="1.0"/><rect x="117.5" y="495.6" width="1.0" height="1.0"/><rect x="123.1" y="488.5" width="1.0" height="1.0"/><rect x="111.4" y="501.7" width="1.0" height="1.0"/><rect x="127.0" y="498.8" width="1.0" height="1.0"/><rect x="134.6" y="501.1" width="1.0" height="1.0"/><rect x="134.8" y="490.5" width="1.0" height="1.0"/><rect x="130.7" y="506.7" width="1.0" height="1.0"/><rect x="136.5" y="492.8" width="1.0" height="1.0"/><rect x="115.3" y="509.8" width="1.0" height="1.0"/><rect x="112.6" y="504.3" width="1.0" height="1.0"/><rect x="113.3" y="486.7" width="1.0" height="1.0"/><rect x="134.0" y="495.8" width="1.0" height="1.0"/><rect x="132.4" y="487.5" width="1.0" height="1.0"/><rect x="118.5" y="503.2" width="1.0" height="1.0"/><rect x="128.6" y="509.5" width="1.0" height="1.0"/><rect x="122.2" y="505.2" width="1.0" height="1.0"/><rect x="122.1" y="503.2" width="1.0" height="1.0"/><rect x="123.9" y="498.4" width="1.0" height="1.0"/><rect x="124.5" y="488.1" width="1.0" height="1.0"/><rect x="110.6" y="489.7" width="1.0" height="1.0"/><rect x="120.6" y="505.4" width="1.0" height="1.0"/><rect x="115.8" y="497.1" width="1.0" height="1.0"/><rect x="122.6" y="496.0" width="1.0" height="1.0"/><rect x="125.6" y="484.4" width="1.0" height="1.0"/><rect x="129.2" y="507.6" width="1.0" height="1.0"/><rect x="110.5" y="496.7" width="1.0" height="1.0"/><rect x="130.6" y="495.3" width="1.0" height="1.0"/><rect x="111.0" y="488.6" width="1.0" height="1.0"/><rect x="122.5" y="484.4" width="1.0" height="1.0"/><rect x="136.2" y="506.4" width="1.0" height="1.0"/><rect x="129.4" y="508.1" width="1.0" height="1.0"/><rect x="126.7" y="495.3" width="1.0" height="1.0"/><rect x="125.6" y="498.1" width="1.0" height="1.0"/><rect x="113.3" y="509.5" width="1.0" height="1.0"/><rect x="130.8" y="505.8" width="1.0" height="1.0"/><rect x="133.3" y="495.4" width="1.0" height="1.0"/><rect x="129.0" y="505.5" width="1.0" height="1.0"/><rect x="131.5" y="495.4" width="1.0" height="1.0"/><rect x="130.0" y="486.0" width="1.0" height="1.0"/><rect x="116.3" y="497.1" width="1.0" height="1.0"/><rect x="127.0" y="501.5" width="1.0" height="1.0"/><rect x="128.0" y="493.5" width="1.0" height="1.0"/><rect x="127.8" y="499.9" width="1.0" height="1.0"/><rect x="123.2" y="494.9" width="1.0" height="1.0"/><rect x="129.2" y="505.3" width="1.0" height="1.0"/><rect x="126.2" y="504.7" width="1.0" height="1.0"/><rect x="113.2" y="495.2" width="1.0" height="1.0"/><rect x="117.5" y="486.8" width="1.0" height="1.0"/><rect x="113.0" y="509.4" width="1.0" height="1.0"/><rect x="123.8" y="498.2" width="1.0" height="1.0"/><rect x="138.8" y="499.9" width="1.0" height="1.0"/><rect x="125.5" y="505.3" width="1.0" height="1.0"/><rect x="109.8" y="497.2" width="1.0" height="1.0"/><rect x="110.1" y="497.9" width="1.0" height="1.0"/><rect x="126.0" y="485.6" width="1.0" height="1.0"/><rect x="138.0" y="495.8" width="1.0" height="1.0"/><rect x="123.0" y="500.7" width="1.0" height="1.0"/><rect x="117.2" y="492.0" width="1.0" height="1.0"/><rect x="127.6" y="499.7" width="1.0" height="1.0"/><rect x="114.2" y="504.1" width="1.0" height="1.0"/><rect x="109.6" y="505.1" width="1.0" height="1.0"/><rect x="118.0" y="509.1" width="1.0" height="1.0"/><rect x="119.5" y="497.4" width="1.0" height="1.0"/><rect x="122.8" y="510.2" width="1.0" height="1.0"/><rect x="130.0" y="497.1" width="1.0" height="1.0"/><rect x="125.7" y="487.2" width="1.0" height="1.0"/><rect x="126.5" y="496.8" width="1.0" height="1.0"/><rect x="123.0" y="487.5" width="1.0" height="1.0"/><rect x="119.9" y="502.7" width="1.0" height="1.0"/><rect x="120.4" y="491.3" width="1.0" height="1.0"/><rect x="125.0" y="495.7" width="1.0" height="1.0"/><rect x="132.0" y="498.9" width="1.0" height="1.0"/><rect x="130.4" y="490.7" width="1.0" height="1.0"/><rect x="132.2" y="501.5" width="1.0" height="1.0"/><rect x="116.9" y="491.6" width="1.0" height="1.0"/><rect x="128.7" y="499.8" width="1.0" height="1.0"/><rect x="125.3" y="501.7" width="1.0" height="1.0"/><rect x="131.1" y="489.3" width="1.0" height="1.0"/><rect x="113.8" y="495.9" width="1.0" height="1.0"/><rect x="126.4" y="486.9" width="1.0" height="1.0"/><rect x="123.5" y="486.0" width="1.0" height="1.0"/><rect x="107.1" y="502.9" width="1.0" height="1.0"/><rect x="123.8" y="501.7" width="1.0" height="1.0"/><rect x="117.4" y="497.4" width="1.0" height="1.0"/><rect x="111.6" y="493.6" width="1.0" height="1.0"/><rect x="130.8" y="507.5" width="1.0" height="1.0"/><rect x="133.1" y="501.5" width="1.0" height="1.0"/><rect x="131.7" y="490.0" width="1.0" height="1.0"/><rect x="119.3" y="491.2" width="1.0" height="1.0"/><rect x="133.2" y="494.3" width="1.0" height="1.0"/><rect x="115.7" y="499.4" width="1.0" height="1.0"/><rect x="130.9" y="509.8" width="1.0" height="1.0"/><rect x="119.4" y="494.3" width="1.0" height="1.0"/><rect x="124.3" y="497.6" width="1.0" height="1.0"/><rect x="128.7" y="492.4" width="1.0" height="1.0"/><rect x="111.7" y="502.5" width="1.0" height="1.0"/><rect x="106.9" y="492.5" width="1.0" height="1.0"/><rect x="130.1" y="503.4" width="1.0" height="1.0"/><rect x="114.2" y="488.0" width="1.0" height="1.0"/><rect x="116.9" y="504.3" width="1.0" height="1.0"/><rect x="117.2" y="487.3" width="1.0" height="1.0"/><rect x="129.5" y="499.9" width="1.0" height="1.0"/><rect x="136.9" y="496.3" width="1.0" height="1.0"/><rect x="132.9" y="492.5" width="1.0" height="1.0"/><rect x="115.4" y="495.2" width="1.0" height="1.0"/></g>
<g clip-path="url(#c5)"><g filter="url(#bl)"><ellipse cx="124.5" cy="501" rx="16.5" ry="10.5" fill="#3a4ed8" fill-opacity="0.9"/><ellipse cx="130" cy="490" rx="10" ry="7.5" fill="#3a4ed8" fill-opacity="0.9"/><ellipse cx="125.5" cy="503" rx="12.5" ry="7" fill="#4a70e0" fill-opacity="1"/><ellipse cx="129.3" cy="492.5" rx="6.8" ry="6.2" fill="#4a70e0" fill-opacity="1"/><ellipse cx="126" cy="504.5" rx="10" ry="5" fill="#48c4ec" fill-opacity="1"/><ellipse cx="129.2" cy="494.5" rx="4.8" ry="5" fill="#48c4ec" fill-opacity="1"/><ellipse cx="126.5" cy="505" rx="8" ry="3.6" fill="#84d86a" fill-opacity="1"/><ellipse cx="129.3" cy="495" rx="3.2" ry="4" fill="#84d86a" fill-opacity="1"/><ellipse cx="128.5" cy="505.2" rx="6" ry="3" fill="#e6dc50" fill-opacity="1"/><ellipse cx="128.5" cy="505.2" rx="4.3" ry="2.3" fill="#e88a30" fill-opacity="1"/><ellipse cx="128.5" cy="505.2" rx="3" ry="1.7" fill="#c83020" fill-opacity="1"/></g></g>
<line x1="140.80" y1="465.60" x2="140.80" y2="512.10" stroke="#9a9a9a" stroke-width="0.9" />
<line x1="104.60" y1="496.30" x2="168.50" y2="496.30" stroke="#9a9a9a" stroke-width="0.9" />
<text x="47.50" y="398.80" font-size="9.8" font-style="italic" fill="#111" stroke="#111" stroke-width="0.12">Runx1<tspan font-size="4.8" dy="-3.8" font-style="normal">+/+</tspan></text>
<text x="115.50" y="398.80" font-size="9.8" font-style="italic" fill="#111" stroke="#111" stroke-width="0.12">Runx1<tspan font-size="4.8" dy="-3.8" font-style="normal">Δ/Δ</tspan></text>
<text x="68.00" y="407.60" font-size="9.2" text-anchor="start" fill="#111" stroke="#111" stroke-width="0.12" >82%</text>
<text x="142.10" y="407.40" font-size="9.2" text-anchor="start" fill="#111" stroke="#111" stroke-width="0.12" >39%</text>
<text x="34.20" y="473.90" font-size="9.2" text-anchor="start" fill="#111" stroke="#111" stroke-width="0.12" >4%</text>
<text x="73.70" y="509.80" font-size="9.2" text-anchor="start" fill="#111" stroke="#111" stroke-width="0.12" >2.6%</text>
<text x="106.50" y="473.90" font-size="9.2" text-anchor="start" fill="#111" stroke="#111" stroke-width="0.12" >29%</text>
<line x1="22.20" y1="453.60" x2="22.20" y2="432.50" stroke="#111" stroke-width="1.1" />
<path d="M22.20,427.50 L19.70,433.00 L24.70,433.00 Z" fill="#111"/>
<line x1="21.70" y1="453.60" x2="135.40" y2="453.60" stroke="#111" stroke-width="1.1" />
<path d="M140.40,453.60 L134.90,451.10 L134.90,456.10 Z" fill="#111"/>
<text x="141.60" y="456.70" font-size="8.8" text-anchor="start" fill="#111" stroke="#111" stroke-width="0.12" >Gr1</text>
<text x="24.20" y="411.60" font-size="8.6" text-anchor="middle" fill="#111" stroke="#111" stroke-width="0.12" transform="rotate(-90 24.20 411.60)" >CD11b</text>
<line x1="22.50" y1="518.00" x2="22.50" y2="496.00" stroke="#111" stroke-width="1.1" />
<path d="M22.50,491.00 L20.00,496.50 L25.00,496.50 Z" fill="#111"/>
<line x1="22.00" y1="518.00" x2="136.40" y2="518.00" stroke="#111" stroke-width="1.1" />
<path d="M141.40,518.00 L135.90,515.50 L135.90,520.50 Z" fill="#111"/>
<text x="142.20" y="521.20" font-size="8.8" text-anchor="start" fill="#111" stroke="#111" stroke-width="0.12" >Ter119</text>
<text x="25.80" y="477.00" font-size="8.6" text-anchor="middle" fill="#111" stroke="#111" stroke-width="0.12" transform="rotate(-90 25.80 477.00)" >CD41</text>
<text x="181.80" y="385.30" font-size="10.5" text-anchor="start" fill="#111" stroke="#111" stroke-width="0.12" font-weight="bold" >H</text>
<rect x="201.50" y="399.40" width="63.50" height="47.30" fill="#fff" stroke="#c8c8c8" stroke-width="0.9" />
<g clip-path="url(#c6)" fill="#7585e0" fill-opacity="0.45"><rect x="219.5" y="437.3" width="1.0" height="1.0"/><rect x="241.6" y="440.3" width="1.0" height="1.0"/><rect x="215.7" y="429.2" width="1.0" height="1.0"/><rect x="213.7" y="429.1" width="1.0" height="1.0"/><rect x="244.2" y="427.3" width="1.0" height="1.0"/><rect x="233.6" y="428.9" width="1.0" height="1.0"/><rect x="221.3" y="432.8" width="1.0" height="1.0"/><rect x="249.6" y="436.0" width="1.0" height="1.0"/><rect x="248.1" y="439.5" width="1.0" height="1.0"/><rect x="249.0" y="438.4" width="1.0" height="1.0"/><rect x="219.3" y="440.3" width="1.0" height="1.0"/><rect x="231.3" y="438.6" width="1.0" height="1.0"/><rect x="235.3" y="432.7" width="1.0" height="1.0"/><rect x="224.9" y="432.7" width="1.0" height="1.0"/><rect x="222.3" y="427.1" width="1.0" height="1.0"/><rect x="248.6" y="439.4" width="1.0" height="1.0"/><rect x="234.8" y="438.5" width="1.0" height="1.0"/><rect x="213.0" y="437.2" width="1.0" height="1.0"/><rect x="229.1" y="428.2" width="1.0" height="1.0"/><rect x="216.5" y="434.4" width="1.0" height="1.0"/><rect x="219.2" y="433.3" width="1.0" height="1.0"/><rect x="237.5" y="432.1" width="1.0" height="1.0"/><rect x="212.8" y="433.8" width="1.0" height="1.0"/><rect x="218.2" y="429.2" width="1.0" height="1.0"/><rect x="216.1" y="431.6" width="1.0" height="1.0"/><rect x="209.8" y="436.7" width="1.0" height="1.0"/><rect x="255.6" y="432.0" width="1.0" height="1.0"/><rect x="243.4" y="441.8" width="1.0" height="1.0"/><rect x="247.9" y="440.1" width="1.0" height="1.0"/><rect x="239.2" y="427.9" width="1.0" height="1.0"/><rect x="227.5" y="440.6" width="1.0" height="1.0"/><rect x="252.1" y="439.5" width="1.0" height="1.0"/><rect x="216.6" y="440.4" width="1.0" height="1.0"/><rect x="225.5" y="437.9" width="1.0" height="1.0"/><rect x="237.4" y="438.0" width="1.0" height="1.0"/><rect x="217.0" y="436.1" width="1.0" height="1.0"/><rect x="236.2" y="435.6" width="1.0" height="1.0"/><rect x="224.7" y="438.1" width="1.0" height="1.0"/><rect x="223.7" y="430.3" width="1.0" height="1.0"/><rect x="214.6" y="437.3" width="1.0" height="1.0"/><rect x="211.8" y="429.1" width="1.0" height="1.0"/><rect x="209.6" y="436.6" width="1.0" height="1.0"/><rect x="234.9" y="434.8" width="1.0" height="1.0"/><rect x="208.0" y="432.9" width="1.0" height="1.0"/><rect x="223.8" y="426.7" width="1.0" height="1.0"/><rect x="212.3" y="430.4" width="1.0" height="1.0"/><rect x="220.0" y="435.8" width="1.0" height="1.0"/><rect x="210.0" y="433.5" width="1.0" height="1.0"/><rect x="225.1" y="440.0" width="1.0" height="1.0"/><rect x="231.8" y="442.5" width="1.0" height="1.0"/><rect x="232.9" y="433.5" width="1.0" height="1.0"/><rect x="240.8" y="430.3" width="1.0" height="1.0"/><rect x="207.7" y="434.0" width="1.0" height="1.0"/><rect x="253.3" y="438.3" width="1.0" height="1.0"/><rect x="219.4" y="437.3" width="1.0" height="1.0"/><rect x="250.2" y="429.7" width="1.0" height="1.0"/><rect x="236.6" y="431.4" width="1.0" height="1.0"/><rect x="218.7" y="430.2" width="1.0" height="1.0"/><rect x="216.6" y="431.3" width="1.0" height="1.0"/><rect x="208.0" y="432.2" width="1.0" height="1.0"/><rect x="210.5" y="438.6" width="1.0" height="1.0"/><rect x="246.2" y="428.4" width="1.0" height="1.0"/><rect x="231.0" y="435.0" width="1.0" height="1.0"/><rect x="223.3" y="430.2" width="1.0" height="1.0"/><rect x="228.6" y="427.5" width="1.0" height="1.0"/><rect x="248.8" y="428.9" width="1.0" height="1.0"/><rect x="221.8" y="432.0" width="1.0" height="1.0"/><rect x="224.8" y="433.0" width="1.0" height="1.0"/><rect x="208.3" y="434.6" width="1.0" height="1.0"/><rect x="212.7" y="439.5" width="1.0" height="1.0"/><rect x="222.8" y="441.1" width="1.0" height="1.0"/><rect x="234.4" y="427.3" width="1.0" height="1.0"/><rect x="230.9" y="431.7" width="1.0" height="1.0"/><rect x="223.9" y="439.4" width="1.0" height="1.0"/><rect x="217.1" y="437.9" width="1.0" height="1.0"/><rect x="240.7" y="441.8" width="1.0" height="1.0"/><rect x="233.0" y="441.6" width="1.0" height="1.0"/><rect x="228.9" y="435.3" width="1.0" height="1.0"/><rect x="238.3" y="440.1" width="1.0" height="1.0"/><rect x="213.1" y="434.6" width="1.0" height="1.0"/><rect x="248.2" y="434.6" width="1.0" height="1.0"/><rect x="221.5" y="426.6" width="1.0" height="1.0"/><rect x="243.8" y="426.9" width="1.0" height="1.0"/><rect x="243.2" y="440.6" width="1.0" height="1.0"/><rect x="228.1" y="436.2" width="1.0" height="1.0"/><rect x="249.3" y="437.9" width="1.0" height="1.0"/><rect x="221.1" y="438.7" width="1.0" height="1.0"/><rect x="211.7" y="430.6" width="1.0" height="1.0"/><rect x="257.8" y="433.5" width="1.0" height="1.0"/><rect x="219.9" y="439.1" width="1.0" height="1.0"/><rect x="229.4" y="425.1" width="1.0" height="1.0"/><rect x="223.3" y="441.9" width="1.0" height="1.0"/><rect x="218.9" y="440.3" width="1.0" height="1.0"/><rect x="250.4" y="432.5" width="1.0" height="1.0"/><rect x="231.2" y="429.7" width="1.0" height="1.0"/><rect x="230.0" y="441.2" width="1.0" height="1.0"/><rect x="233.9" y="428.5" width="1.0" height="1.0"/><rect x="225.5" y="433.6" width="1.0" height="1.0"/><rect x="215.9" y="435.3" width="1.0" height="1.0"/><rect x="236.6" y="430.5" width="1.0" height="1.0"/><rect x="252.0" y="433.9" width="1.0" height="1.0"/><rect x="233.1" y="440.0" width="1.0" height="1.0"/><rect x="217.1" y="438.4" width="1.0" height="1.0"/><rect x="239.8" y="432.7" width="1.0" height="1.0"/><rect x="249.7" y="427.8" width="1.0" height="1.0"/><rect x="208.8" y="434.0" width="1.0" height="1.0"/><rect x="254.1" y="429.6" width="1.0" height="1.0"/><rect x="231.3" y="435.9" width="1.0" height="1.0"/><rect x="218.7" y="434.5" width="1.0" height="1.0"/><rect x="206.5" y="433.1" width="1.0" height="1.0"/><rect x="245.5" y="431.1" width="1.0" height="1.0"/><rect x="242.4" y="432.7" width="1.0" height="1.0"/><rect x="253.5" y="438.3" width="1.0" height="1.0"/><rect x="249.2" y="437.3" width="1.0" height="1.0"/><rect x="243.5" y="437.0" width="1.0" height="1.0"/><rect x="236.7" y="429.6" width="1.0" height="1.0"/><rect x="212.9" y="438.1" width="1.0" height="1.0"/><rect x="237.0" y="426.0" width="1.0" height="1.0"/><rect x="239.4" y="436.0" width="1.0" height="1.0"/><rect x="232.6" y="439.0" width="1.0" height="1.0"/><rect x="251.6" y="431.9" width="1.0" height="1.0"/><rect x="248.4" y="434.0" width="1.0" height="1.0"/><rect x="235.7" y="432.4" width="1.0" height="1.0"/><rect x="254.5" y="433.0" width="1.0" height="1.0"/><rect x="255.5" y="431.1" width="1.0" height="1.0"/><rect x="241.0" y="441.4" width="1.0" height="1.0"/><rect x="241.5" y="431.8" width="1.0" height="1.0"/><rect x="210.0" y="433.6" width="1.0" height="1.0"/><rect x="227.5" y="439.7" width="1.0" height="1.0"/><rect x="229.3" y="432.4" width="1.0" height="1.0"/><rect x="235.3" y="438.5" width="1.0" height="1.0"/><rect x="213.6" y="430.8" width="1.0" height="1.0"/><rect x="221.3" y="428.7" width="1.0" height="1.0"/><rect x="209.5" y="432.0" width="1.0" height="1.0"/><rect x="217.0" y="427.9" width="1.0" height="1.0"/><rect x="235.4" y="440.9" width="1.0" height="1.0"/><rect x="240.3" y="437.8" width="1.0" height="1.0"/><rect x="242.4" y="439.3" width="1.0" height="1.0"/><rect x="250.4" y="427.8" width="1.0" height="1.0"/><rect x="208.8" y="436.2" width="1.0" height="1.0"/><rect x="233.0" y="434.4" width="1.0" height="1.0"/><rect x="246.7" y="428.1" width="1.0" height="1.0"/><rect x="242.7" y="432.7" width="1.0" height="1.0"/><rect x="227.9" y="429.4" width="1.0" height="1.0"/><rect x="220.6" y="435.4" width="1.0" height="1.0"/><rect x="234.8" y="441.3" width="1.0" height="1.0"/><rect x="220.6" y="437.9" width="1.0" height="1.0"/><rect x="211.0" y="436.7" width="1.0" height="1.0"/><rect x="214.4" y="440.4" width="1.0" height="1.0"/><rect x="248.0" y="429.0" width="1.0" height="1.0"/><rect x="221.9" y="426.9" width="1.0" height="1.0"/><rect x="229.0" y="426.9" width="1.0" height="1.0"/><rect x="242.6" y="435.4" width="1.0" height="1.0"/><rect x="227.8" y="437.8" width="1.0" height="1.0"/><rect x="218.1" y="431.0" width="1.0" height="1.0"/><rect x="211.3" y="439.4" width="1.0" height="1.0"/><rect x="248.6" y="433.1" width="1.0" height="1.0"/><rect x="227.9" y="427.5" width="1.0" height="1.0"/><rect x="206.1" y="434.4" width="1.0" height="1.0"/><rect x="218.7" y="427.7" width="1.0" height="1.0"/><rect x="224.8" y="438.5" width="1.0" height="1.0"/><rect x="244.8" y="426.9" width="1.0" height="1.0"/><rect x="244.6" y="435.1" width="1.0" height="1.0"/><rect x="238.8" y="442.0" width="1.0" height="1.0"/><rect x="247.5" y="435.8" width="1.0" height="1.0"/><rect x="246.0" y="433.9" width="1.0" height="1.0"/><rect x="234.7" y="439.7" width="1.0" height="1.0"/><rect x="238.2" y="431.8" width="1.0" height="1.0"/><rect x="223.7" y="432.7" width="1.0" height="1.0"/><rect x="221.0" y="435.0" width="1.0" height="1.0"/><rect x="226.8" y="440.0" width="1.0" height="1.0"/><rect x="236.9" y="435.1" width="1.0" height="1.0"/><rect x="246.7" y="432.9" width="1.0" height="1.0"/><rect x="233.9" y="438.5" width="1.0" height="1.0"/><rect x="243.6" y="438.4" width="1.0" height="1.0"/><rect x="252.3" y="435.0" width="1.0" height="1.0"/><rect x="234.9" y="428.4" width="1.0" height="1.0"/><rect x="218.5" y="432.8" width="1.0" height="1.0"/><rect x="231.9" y="441.2" width="1.0" height="1.0"/><rect x="208.2" y="431.3" width="1.0" height="1.0"/><rect x="244.5" y="433.3" width="1.0" height="1.0"/><rect x="250.1" y="427.9" width="1.0" height="1.0"/><rect x="246.1" y="432.8" width="1.0" height="1.0"/><rect x="235.5" y="426.0" width="1.0" height="1.0"/><rect x="226.9" y="439.5" width="1.0" height="1.0"/><rect x="244.2" y="435.2" width="1.0" height="1.0"/><rect x="228.0" y="425.7" width="1.0" height="1.0"/><rect x="242.4" y="433.0" width="1.0" height="1.0"/><rect x="243.7" y="436.0" width="1.0" height="1.0"/><rect x="226.9" y="440.7" width="1.0" height="1.0"/><rect x="236.5" y="433.1" width="1.0" height="1.0"/><rect x="254.7" y="434.2" width="1.0" height="1.0"/><rect x="232.4" y="426.1" width="1.0" height="1.0"/><rect x="247.5" y="436.5" width="1.0" height="1.0"/><rect x="218.5" y="427.0" width="1.0" height="1.0"/><rect x="227.8" y="441.8" width="1.0" height="1.0"/><rect x="251.3" y="433.4" width="1.0" height="1.0"/><rect x="216.5" y="438.2" width="1.0" height="1.0"/><rect x="232.0" y="442.3" width="1.0" height="1.0"/><rect x="213.7" y="439.3" width="1.0" height="1.0"/></g>
<g clip-path="url(#c6)"><g filter="url(#bl)"><path d="M209.5,443.5 Q214,438 220,432 Q226,425.5 229,425.5 Q233,426 238,431 Q243,433 250,433 L259,433.5 Q262,438 259,444 L212,444.5 Z" fill="#3a4ed8"/><path d="M213.5,442.5 Q218,438 222,434 Q227,428.5 229.5,428.5 Q233,429.5 237,433 Q243,435 250,435 L257,435.5 Q259.5,439 257,442.5 Z" fill="#4c78e4"/><ellipse cx="229" cy="434.5" rx="6.5" ry="5" fill="#48c4ec"/><ellipse cx="229" cy="438" rx="11" ry="4.4" fill="#48c4ec"/><ellipse cx="229" cy="436" rx="5" ry="4" fill="#84d86a"/><ellipse cx="249" cy="439.6" rx="8.5" ry="3.4" fill="#48c4ec"/><ellipse cx="229" cy="438.5" rx="7.5" ry="3" fill="#84d86a"/><ellipse cx="249" cy="440" rx="6" ry="2.6" fill="#84d86a"/><ellipse cx="249.3" cy="440.2" rx="4.2" ry="2" fill="#e6dc50"/><ellipse cx="249.3" cy="440.2" rx="2.8" ry="1.4" fill="#e88a30"/><ellipse cx="249.3" cy="440.2" rx="1.6" ry="0.9" fill="#c83020"/><ellipse cx="262.5" cy="440" rx="1" ry="2.5" fill="#4a60d8"/></g></g>
<line x1="238.70" y1="399.40" x2="238.70" y2="446.70" stroke="#9a9a9a" stroke-width="0.9" />
<line x1="201.50" y1="433.30" x2="265.00" y2="433.30" stroke="#9a9a9a" stroke-width="0.9" />
<rect x="269.20" y="399.40" width="64.50" height="47.30" fill="#fff" stroke="#c8c8c8" stroke-width="0.9" />
<g clip-path="url(#c7)" fill="#7585e0" fill-opacity="0.45"><rect x="277.2" y="437.7" width="1.0" height="1.0"/><rect x="293.6" y="444.3" width="1.0" height="1.0"/><rect x="282.1" y="425.2" width="1.0" height="1.0"/><rect x="296.0" y="436.4" width="1.0" height="1.0"/><rect x="283.1" y="437.2" width="1.0" height="1.0"/><rect x="285.9" y="439.8" width="1.0" height="1.0"/><rect x="277.6" y="424.3" width="1.0" height="1.0"/><rect x="301.0" y="428.0" width="1.0" height="1.0"/><rect x="281.8" y="440.5" width="1.0" height="1.0"/><rect x="292.9" y="422.2" width="1.0" height="1.0"/><rect x="290.5" y="436.6" width="1.0" height="1.0"/><rect x="278.9" y="436.2" width="1.0" height="1.0"/><rect x="277.7" y="427.4" width="1.0" height="1.0"/><rect x="303.3" y="429.3" width="1.0" height="1.0"/><rect x="303.7" y="430.3" width="1.0" height="1.0"/><rect x="292.2" y="442.4" width="1.0" height="1.0"/><rect x="294.6" y="421.1" width="1.0" height="1.0"/><rect x="291.7" y="435.7" width="1.0" height="1.0"/><rect x="300.2" y="432.4" width="1.0" height="1.0"/><rect x="279.8" y="430.7" width="1.0" height="1.0"/><rect x="280.5" y="440.4" width="1.0" height="1.0"/><rect x="289.0" y="420.9" width="1.0" height="1.0"/><rect x="296.2" y="421.2" width="1.0" height="1.0"/><rect x="289.8" y="420.6" width="1.0" height="1.0"/><rect x="288.4" y="437.2" width="1.0" height="1.0"/><rect x="290.0" y="430.7" width="1.0" height="1.0"/><rect x="288.5" y="430.2" width="1.0" height="1.0"/><rect x="291.9" y="420.7" width="1.0" height="1.0"/><rect x="288.2" y="424.6" width="1.0" height="1.0"/><rect x="295.1" y="434.0" width="1.0" height="1.0"/><rect x="302.3" y="429.8" width="1.0" height="1.0"/><rect x="284.4" y="433.9" width="1.0" height="1.0"/><rect x="302.2" y="425.4" width="1.0" height="1.0"/><rect x="283.1" y="423.3" width="1.0" height="1.0"/><rect x="292.9" y="431.1" width="1.0" height="1.0"/><rect x="281.7" y="428.9" width="1.0" height="1.0"/><rect x="303.5" y="434.4" width="1.0" height="1.0"/><rect x="282.5" y="444.2" width="1.0" height="1.0"/><rect x="284.7" y="425.0" width="1.0" height="1.0"/><rect x="280.0" y="424.4" width="1.0" height="1.0"/><rect x="300.2" y="425.4" width="1.0" height="1.0"/><rect x="281.5" y="434.9" width="1.0" height="1.0"/><rect x="301.5" y="426.2" width="1.0" height="1.0"/><rect x="296.8" y="428.3" width="1.0" height="1.0"/><rect x="290.8" y="434.7" width="1.0" height="1.0"/><rect x="289.2" y="441.6" width="1.0" height="1.0"/><rect x="285.0" y="428.8" width="1.0" height="1.0"/><rect x="302.8" y="433.3" width="1.0" height="1.0"/><rect x="297.2" y="426.8" width="1.0" height="1.0"/><rect x="301.5" y="435.2" width="1.0" height="1.0"/><rect x="288.1" y="427.5" width="1.0" height="1.0"/><rect x="281.9" y="420.9" width="1.0" height="1.0"/><rect x="280.0" y="437.4" width="1.0" height="1.0"/><rect x="278.2" y="425.2" width="1.0" height="1.0"/><rect x="287.4" y="433.3" width="1.0" height="1.0"/><rect x="285.4" y="440.0" width="1.0" height="1.0"/><rect x="281.7" y="428.3" width="1.0" height="1.0"/><rect x="286.8" y="421.6" width="1.0" height="1.0"/><rect x="280.7" y="422.1" width="1.0" height="1.0"/><rect x="295.8" y="422.1" width="1.0" height="1.0"/><rect x="294.0" y="424.2" width="1.0" height="1.0"/><rect x="293.4" y="436.4" width="1.0" height="1.0"/><rect x="284.6" y="444.1" width="1.0" height="1.0"/><rect x="293.7" y="433.6" width="1.0" height="1.0"/><rect x="275.4" y="429.4" width="1.0" height="1.0"/><rect x="282.0" y="431.2" width="1.0" height="1.0"/><rect x="275.9" y="437.0" width="1.0" height="1.0"/><rect x="302.0" y="433.2" width="1.0" height="1.0"/><rect x="286.8" y="445.5" width="1.0" height="1.0"/><rect x="300.2" y="441.2" width="1.0" height="1.0"/><rect x="297.8" y="426.5" width="1.0" height="1.0"/><rect x="278.1" y="428.6" width="1.0" height="1.0"/><rect x="287.5" y="440.0" width="1.0" height="1.0"/><rect x="288.9" y="432.8" width="1.0" height="1.0"/><rect x="281.4" y="437.1" width="1.0" height="1.0"/><rect x="285.9" y="430.5" width="1.0" height="1.0"/><rect x="284.4" y="444.2" width="1.0" height="1.0"/><rect x="289.7" y="441.4" width="1.0" height="1.0"/><rect x="287.3" y="443.2" width="1.0" height="1.0"/><rect x="276.1" y="430.3" width="1.0" height="1.0"/><rect x="291.3" y="440.2" width="1.0" height="1.0"/><rect x="286.7" y="437.1" width="1.0" height="1.0"/><rect x="303.0" y="429.7" width="1.0" height="1.0"/><rect x="299.9" y="431.3" width="1.0" height="1.0"/><rect x="285.6" y="432.6" width="1.0" height="1.0"/><rect x="277.6" y="424.2" width="1.0" height="1.0"/><rect x="281.1" y="425.1" width="1.0" height="1.0"/><rect x="299.8" y="424.9" width="1.0" height="1.0"/><rect x="290.7" y="418.8" width="1.0" height="1.0"/><rect x="294.3" y="437.2" width="1.0" height="1.0"/><rect x="293.5" y="439.7" width="1.0" height="1.0"/><rect x="286.7" y="424.3" width="1.0" height="1.0"/><rect x="296.3" y="435.5" width="1.0" height="1.0"/><rect x="295.1" y="423.1" width="1.0" height="1.0"/><rect x="285.2" y="437.4" width="1.0" height="1.0"/><rect x="285.5" y="434.9" width="1.0" height="1.0"/><rect x="288.2" y="439.1" width="1.0" height="1.0"/><rect x="284.5" y="431.9" width="1.0" height="1.0"/><rect x="298.9" y="426.7" width="1.0" height="1.0"/><rect x="279.3" y="435.8" width="1.0" height="1.0"/><rect x="282.2" y="443.3" width="1.0" height="1.0"/><rect x="290.0" y="422.3" width="1.0" height="1.0"/><rect x="289.6" y="437.1" width="1.0" height="1.0"/><rect x="288.6" y="435.8" width="1.0" height="1.0"/><rect x="285.1" y="444.9" width="1.0" height="1.0"/><rect x="279.2" y="440.3" width="1.0" height="1.0"/><rect x="274.7" y="432.2" width="1.0" height="1.0"/><rect x="291.7" y="443.3" width="1.0" height="1.0"/><rect x="283.3" y="429.3" width="1.0" height="1.0"/><rect x="288.3" y="434.9" width="1.0" height="1.0"/></g>
<g clip-path="url(#c7)"><g filter="url(#bl)"><rect x="277.1" y="420.8" width="23.6" height="22.4" rx="5" fill="#3a4ed8"/><rect x="279.5" y="422.5" width="20" height="19.5" rx="4.5" fill="#4c78e4"/><rect x="282.5" y="424" width="16" height="17.5" rx="4" fill="#48c4ec"/><ellipse cx="292.5" cy="429.5" rx="5.2" ry="3.8" fill="#84d86a"/><ellipse cx="292.5" cy="438" rx="5.5" ry="3.4" fill="#84d86a"/><ellipse cx="292.5" cy="429.5" rx="2.8" ry="2.2" fill="#e6dc50"/><ellipse cx="292.5" cy="438.2" rx="3.6" ry="2.4" fill="#e6dc50"/><ellipse cx="292.5" cy="438.2" rx="2.6" ry="1.7" fill="#e88a30"/><ellipse cx="292.5" cy="438.2" rx="1.6" ry="1.1" fill="#c83020"/></g></g>
<line x1="306.20" y1="399.40" x2="306.20" y2="446.70" stroke="#9a9a9a" stroke-width="0.9" />
<line x1="269.20" y1="433.30" x2="333.70" y2="433.30" stroke="#9a9a9a" stroke-width="0.9" />
<rect x="204.60" y="465.00" width="63.80" height="47.10" fill="#fff" stroke="#c8c8c8" stroke-width="0.9" />
<g clip-path="url(#c8)" fill="#7585e0" fill-opacity="0.4"><rect x="229.1" y="487.4" width="1.0" height="1.0"/><rect x="233.4" y="502.1" width="1.0" height="1.0"/><rect x="214.2" y="492.5" width="1.0" height="1.0"/><rect x="228.2" y="490.9" width="1.0" height="1.0"/><rect x="214.9" y="489.4" width="1.0" height="1.0"/><rect x="230.9" y="489.3" width="1.0" height="1.0"/><rect x="234.7" y="497.3" width="1.0" height="1.0"/><rect x="213.9" y="495.8" width="1.0" height="1.0"/><rect x="219.6" y="485.2" width="1.0" height="1.0"/><rect x="223.9" y="493.1" width="1.0" height="1.0"/><rect x="224.1" y="509.0" width="1.0" height="1.0"/><rect x="226.4" y="494.3" width="1.0" height="1.0"/><rect x="221.7" y="509.5" width="1.0" height="1.0"/><rect x="227.7" y="503.1" width="1.0" height="1.0"/><rect x="215.6" y="496.9" width="1.0" height="1.0"/><rect x="221.1" y="506.5" width="1.0" height="1.0"/><rect x="223.6" y="494.2" width="1.0" height="1.0"/><rect x="222.1" y="488.0" width="1.0" height="1.0"/><rect x="235.4" y="492.9" width="1.0" height="1.0"/><rect x="214.1" y="491.7" width="1.0" height="1.0"/><rect x="231.7" y="491.9" width="1.0" height="1.0"/><rect x="234.1" y="492.4" width="1.0" height="1.0"/><rect x="220.2" y="485.1" width="1.0" height="1.0"/><rect x="221.2" y="486.2" width="1.0" height="1.0"/><rect x="221.8" y="493.5" width="1.0" height="1.0"/><rect x="229.2" y="491.0" width="1.0" height="1.0"/><rect x="222.0" y="496.5" width="1.0" height="1.0"/><rect x="224.1" y="495.9" width="1.0" height="1.0"/><rect x="230.3" y="499.6" width="1.0" height="1.0"/><rect x="227.8" y="490.2" width="1.0" height="1.0"/><rect x="217.0" y="501.2" width="1.0" height="1.0"/><rect x="218.4" y="492.7" width="1.0" height="1.0"/><rect x="225.6" y="502.7" width="1.0" height="1.0"/><rect x="224.9" y="491.7" width="1.0" height="1.0"/><rect x="231.7" y="505.4" width="1.0" height="1.0"/><rect x="217.4" y="493.9" width="1.0" height="1.0"/><rect x="222.5" y="487.0" width="1.0" height="1.0"/><rect x="216.9" y="508.6" width="1.0" height="1.0"/><rect x="227.5" y="491.8" width="1.0" height="1.0"/><rect x="216.6" y="499.9" width="1.0" height="1.0"/><rect x="228.1" y="492.5" width="1.0" height="1.0"/><rect x="232.8" y="503.4" width="1.0" height="1.0"/><rect x="224.3" y="492.4" width="1.0" height="1.0"/><rect x="209.9" y="492.6" width="1.0" height="1.0"/><rect x="229.1" y="498.3" width="1.0" height="1.0"/><rect x="221.5" y="508.4" width="1.0" height="1.0"/><rect x="218.8" y="505.1" width="1.0" height="1.0"/><rect x="211.7" y="501.4" width="1.0" height="1.0"/><rect x="232.2" y="501.4" width="1.0" height="1.0"/><rect x="224.4" y="498.4" width="1.0" height="1.0"/><rect x="229.5" y="493.3" width="1.0" height="1.0"/><rect x="214.0" y="498.6" width="1.0" height="1.0"/><rect x="222.6" y="486.3" width="1.0" height="1.0"/><rect x="222.9" y="496.1" width="1.0" height="1.0"/><rect x="211.7" y="502.8" width="1.0" height="1.0"/><rect x="230.4" y="492.5" width="1.0" height="1.0"/><rect x="226.9" y="494.4" width="1.0" height="1.0"/><rect x="215.2" y="486.6" width="1.0" height="1.0"/><rect x="227.9" y="504.9" width="1.0" height="1.0"/><rect x="210.0" y="501.1" width="1.0" height="1.0"/><rect x="213.2" y="502.0" width="1.0" height="1.0"/><rect x="230.8" y="503.2" width="1.0" height="1.0"/><rect x="223.1" y="507.8" width="1.0" height="1.0"/><rect x="213.9" y="487.4" width="1.0" height="1.0"/><rect x="219.5" y="494.8" width="1.0" height="1.0"/><rect x="233.3" y="493.4" width="1.0" height="1.0"/><rect x="224.1" y="497.0" width="1.0" height="1.0"/><rect x="221.4" y="496.3" width="1.0" height="1.0"/><rect x="221.0" y="499.7" width="1.0" height="1.0"/><rect x="220.0" y="494.8" width="1.0" height="1.0"/><rect x="225.4" y="495.9" width="1.0" height="1.0"/><rect x="207.9" y="495.6" width="1.0" height="1.0"/><rect x="220.9" y="505.1" width="1.0" height="1.0"/><rect x="218.7" y="505.6" width="1.0" height="1.0"/><rect x="219.2" y="500.8" width="1.0" height="1.0"/><rect x="229.8" y="487.6" width="1.0" height="1.0"/><rect x="235.6" y="495.6" width="1.0" height="1.0"/><rect x="221.4" y="510.2" width="1.0" height="1.0"/><rect x="224.1" y="497.6" width="1.0" height="1.0"/><rect x="213.4" y="489.2" width="1.0" height="1.0"/><rect x="229.8" y="497.2" width="1.0" height="1.0"/><rect x="226.8" y="502.5" width="1.0" height="1.0"/><rect x="227.5" y="492.1" width="1.0" height="1.0"/><rect x="232.9" y="495.6" width="1.0" height="1.0"/><rect x="212.3" y="507.3" width="1.0" height="1.0"/><rect x="233.6" y="502.3" width="1.0" height="1.0"/><rect x="215.1" y="499.1" width="1.0" height="1.0"/><rect x="226.8" y="489.7" width="1.0" height="1.0"/><rect x="230.8" y="494.1" width="1.0" height="1.0"/><rect x="219.9" y="500.2" width="1.0" height="1.0"/><rect x="231.4" y="502.6" width="1.0" height="1.0"/><rect x="221.1" y="500.6" width="1.0" height="1.0"/><rect x="219.1" y="505.7" width="1.0" height="1.0"/><rect x="233.1" y="504.7" width="1.0" height="1.0"/><rect x="216.6" y="493.7" width="1.0" height="1.0"/><rect x="236.4" y="493.6" width="1.0" height="1.0"/><rect x="226.9" y="485.7" width="1.0" height="1.0"/><rect x="211.0" y="489.3" width="1.0" height="1.0"/><rect x="227.2" y="489.4" width="1.0" height="1.0"/><rect x="226.7" y="485.0" width="1.0" height="1.0"/><rect x="227.7" y="502.7" width="1.0" height="1.0"/><rect x="214.7" y="489.7" width="1.0" height="1.0"/><rect x="214.5" y="496.8" width="1.0" height="1.0"/><rect x="212.5" y="489.6" width="1.0" height="1.0"/><rect x="211.8" y="497.5" width="1.0" height="1.0"/><rect x="226.8" y="509.6" width="1.0" height="1.0"/><rect x="223.8" y="497.9" width="1.0" height="1.0"/><rect x="230.1" y="505.1" width="1.0" height="1.0"/><rect x="228.4" y="500.4" width="1.0" height="1.0"/><rect x="230.0" y="489.2" width="1.0" height="1.0"/><rect x="217.6" y="494.0" width="1.0" height="1.0"/><rect x="222.6" y="499.5" width="1.0" height="1.0"/><rect x="224.6" y="491.9" width="1.0" height="1.0"/><rect x="217.8" y="501.4" width="1.0" height="1.0"/><rect x="234.9" y="493.7" width="1.0" height="1.0"/><rect x="226.1" y="494.7" width="1.0" height="1.0"/><rect x="220.1" y="486.4" width="1.0" height="1.0"/><rect x="225.7" y="484.2" width="1.0" height="1.0"/><rect x="218.7" y="499.9" width="1.0" height="1.0"/><rect x="231.1" y="493.1" width="1.0" height="1.0"/><rect x="212.9" y="492.6" width="1.0" height="1.0"/><rect x="211.2" y="492.7" width="1.0" height="1.0"/><rect x="222.0" y="487.1" width="1.0" height="1.0"/><rect x="224.6" y="505.2" width="1.0" height="1.0"/><rect x="221.5" y="502.3" width="1.0" height="1.0"/><rect x="227.4" y="497.2" width="1.0" height="1.0"/><rect x="218.7" y="489.7" width="1.0" height="1.0"/><rect x="232.4" y="501.4" width="1.0" height="1.0"/><rect x="221.9" y="486.4" width="1.0" height="1.0"/><rect x="231.0" y="488.1" width="1.0" height="1.0"/><rect x="215.5" y="508.4" width="1.0" height="1.0"/><rect x="229.7" y="505.7" width="1.0" height="1.0"/><rect x="210.3" y="490.6" width="1.0" height="1.0"/><rect x="214.3" y="495.4" width="1.0" height="1.0"/><rect x="229.6" y="494.1" width="1.0" height="1.0"/><rect x="226.0" y="500.5" width="1.0" height="1.0"/><rect x="218.4" y="509.0" width="1.0" height="1.0"/><rect x="227.1" y="503.7" width="1.0" height="1.0"/><rect x="228.9" y="500.4" width="1.0" height="1.0"/><rect x="218.0" y="488.2" width="1.0" height="1.0"/><rect x="211.0" y="499.2" width="1.0" height="1.0"/><rect x="220.0" y="486.7" width="1.0" height="1.0"/><rect x="221.5" y="502.5" width="1.0" height="1.0"/><rect x="211.1" y="501.1" width="1.0" height="1.0"/><rect x="226.8" y="506.3" width="1.0" height="1.0"/><rect x="218.2" y="485.3" width="1.0" height="1.0"/><rect x="217.0" y="487.7" width="1.0" height="1.0"/><rect x="232.6" y="493.2" width="1.0" height="1.0"/><rect x="223.8" y="503.3" width="1.0" height="1.0"/><rect x="220.8" y="510.9" width="1.0" height="1.0"/><rect x="226.8" y="499.7" width="1.0" height="1.0"/><rect x="212.0" y="489.7" width="1.0" height="1.0"/><rect x="227.7" y="495.3" width="1.0" height="1.0"/><rect x="224.4" y="507.6" width="1.0" height="1.0"/><rect x="227.3" y="506.5" width="1.0" height="1.0"/><rect x="218.0" y="484.9" width="1.0" height="1.0"/><rect x="215.3" y="508.3" width="1.0" height="1.0"/><rect x="214.2" y="486.4" width="1.0" height="1.0"/><rect x="217.8" y="484.2" width="1.0" height="1.0"/><rect x="228.9" y="502.3" width="1.0" height="1.0"/><rect x="219.7" y="503.3" width="1.0" height="1.0"/><rect x="226.3" y="504.1" width="1.0" height="1.0"/><rect x="236.6" y="496.4" width="1.0" height="1.0"/><rect x="216.6" y="497.5" width="1.0" height="1.0"/><rect x="228.3" y="495.9" width="1.0" height="1.0"/><rect x="223.3" y="509.7" width="1.0" height="1.0"/><rect x="228.3" y="493.9" width="1.0" height="1.0"/><rect x="207.6" y="496.8" width="1.0" height="1.0"/><rect x="216.0" y="491.5" width="1.0" height="1.0"/><rect x="218.1" y="506.4" width="1.0" height="1.0"/></g>
<g clip-path="url(#c8)" fill="#6070dc" fill-opacity="0.5"><rect x="238.6" y="489.5" width="1.0" height="1.0"/><rect x="240.0" y="488.6" width="1.0" height="1.0"/><rect x="237.5" y="496.2" width="1.0" height="1.0"/><rect x="234.9" y="494.5" width="1.0" height="1.0"/><rect x="241.8" y="477.0" width="1.0" height="1.0"/><rect x="247.8" y="485.5" width="1.0" height="1.0"/><rect x="231.9" y="503.9" width="1.0" height="1.0"/><rect x="245.0" y="498.9" width="1.0" height="1.0"/><rect x="232.4" y="486.7" width="1.0" height="1.0"/><rect x="245.7" y="484.3" width="1.0" height="1.0"/><rect x="237.8" y="482.5" width="1.0" height="1.0"/><rect x="233.2" y="500.0" width="1.0" height="1.0"/><rect x="238.9" y="487.3" width="1.0" height="1.0"/><rect x="238.8" y="508.1" width="1.0" height="1.0"/><rect x="246.3" y="493.5" width="1.0" height="1.0"/><rect x="239.8" y="476.9" width="1.0" height="1.0"/><rect x="237.7" y="488.4" width="1.0" height="1.0"/><rect x="230.5" y="495.7" width="1.0" height="1.0"/><rect x="247.6" y="492.7" width="1.0" height="1.0"/><rect x="249.3" y="492.5" width="1.0" height="1.0"/><rect x="247.2" y="491.1" width="1.0" height="1.0"/><rect x="243.2" y="491.6" width="1.0" height="1.0"/><rect x="236.9" y="486.0" width="1.0" height="1.0"/><rect x="238.1" y="491.7" width="1.0" height="1.0"/><rect x="245.2" y="488.3" width="1.0" height="1.0"/><rect x="237.4" y="490.3" width="1.0" height="1.0"/><rect x="240.5" y="503.4" width="1.0" height="1.0"/><rect x="240.2" y="474.9" width="1.0" height="1.0"/><rect x="239.7" y="508.1" width="1.0" height="1.0"/><rect x="249.9" y="479.9" width="1.0" height="1.0"/><rect x="246.4" y="482.9" width="1.0" height="1.0"/><rect x="236.8" y="506.4" width="1.0" height="1.0"/><rect x="244.0" y="473.6" width="1.0" height="1.0"/><rect x="237.8" y="499.2" width="1.0" height="1.0"/><rect x="245.4" y="474.0" width="1.0" height="1.0"/><rect x="239.5" y="507.4" width="1.0" height="1.0"/><rect x="245.5" y="476.6" width="1.0" height="1.0"/><rect x="236.5" y="486.3" width="1.0" height="1.0"/><rect x="236.0" y="503.0" width="1.0" height="1.0"/><rect x="231.7" y="503.4" width="1.0" height="1.0"/><rect x="248.9" y="490.8" width="1.0" height="1.0"/><rect x="239.2" y="477.9" width="1.0" height="1.0"/><rect x="240.6" y="503.8" width="1.0" height="1.0"/><rect x="251.1" y="482.5" width="1.0" height="1.0"/><rect x="244.9" y="473.2" width="1.0" height="1.0"/><rect x="239.5" y="482.4" width="1.0" height="1.0"/><rect x="240.6" y="492.2" width="1.0" height="1.0"/><rect x="239.5" y="494.1" width="1.0" height="1.0"/><rect x="241.2" y="490.7" width="1.0" height="1.0"/><rect x="231.5" y="493.4" width="1.0" height="1.0"/><rect x="241.7" y="500.1" width="1.0" height="1.0"/><rect x="237.8" y="488.5" width="1.0" height="1.0"/><rect x="244.3" y="501.1" width="1.0" height="1.0"/><rect x="234.3" y="482.4" width="1.0" height="1.0"/><rect x="232.4" y="496.7" width="1.0" height="1.0"/><rect x="240.3" y="486.5" width="1.0" height="1.0"/><rect x="236.2" y="487.7" width="1.0" height="1.0"/><rect x="243.7" y="497.0" width="1.0" height="1.0"/><rect x="236.8" y="485.6" width="1.0" height="1.0"/><rect x="248.3" y="475.6" width="1.0" height="1.0"/><rect x="247.3" y="478.9" width="1.0" height="1.0"/><rect x="247.6" y="500.6" width="1.0" height="1.0"/><rect x="235.7" y="489.5" width="1.0" height="1.0"/><rect x="243.7" y="505.9" width="1.0" height="1.0"/><rect x="242.6" y="497.0" width="1.0" height="1.0"/><rect x="241.0" y="507.5" width="1.0" height="1.0"/><rect x="240.0" y="495.3" width="1.0" height="1.0"/><rect x="246.6" y="493.1" width="1.0" height="1.0"/><rect x="234.7" y="492.3" width="1.0" height="1.0"/><rect x="235.7" y="497.9" width="1.0" height="1.0"/><rect x="241.2" y="507.2" width="1.0" height="1.0"/><rect x="246.7" y="501.9" width="1.0" height="1.0"/><rect x="233.7" y="493.3" width="1.0" height="1.0"/><rect x="250.2" y="478.6" width="1.0" height="1.0"/><rect x="236.0" y="487.0" width="1.0" height="1.0"/><rect x="232.3" y="495.5" width="1.0" height="1.0"/><rect x="243.3" y="502.5" width="1.0" height="1.0"/><rect x="236.6" y="499.7" width="1.0" height="1.0"/><rect x="243.5" y="476.8" width="1.0" height="1.0"/><rect x="242.2" y="479.2" width="1.0" height="1.0"/><rect x="247.0" y="487.9" width="1.0" height="1.0"/><rect x="236.2" y="500.8" width="1.0" height="1.0"/><rect x="243.8" y="488.4" width="1.0" height="1.0"/><rect x="244.9" y="494.3" width="1.0" height="1.0"/><rect x="236.4" y="495.6" width="1.0" height="1.0"/><rect x="234.3" y="507.3" width="1.0" height="1.0"/><rect x="233.4" y="484.7" width="1.0" height="1.0"/><rect x="248.2" y="491.1" width="1.0" height="1.0"/><rect x="251.7" y="482.2" width="1.0" height="1.0"/><rect x="241.3" y="495.6" width="1.0" height="1.0"/><rect x="251.0" y="490.6" width="1.0" height="1.0"/><rect x="248.4" y="494.0" width="1.0" height="1.0"/><rect x="236.5" y="508.3" width="1.0" height="1.0"/><rect x="236.2" y="494.1" width="1.0" height="1.0"/><rect x="244.8" y="484.3" width="1.0" height="1.0"/><rect x="235.0" y="486.4" width="1.0" height="1.0"/><rect x="235.6" y="493.7" width="1.0" height="1.0"/><rect x="243.9" y="475.3" width="1.0" height="1.0"/><rect x="239.9" y="507.5" width="1.0" height="1.0"/><rect x="245.5" y="484.3" width="1.0" height="1.0"/><rect x="232.1" y="506.5" width="1.0" height="1.0"/><rect x="237.4" y="498.8" width="1.0" height="1.0"/><rect x="251.2" y="484.6" width="1.0" height="1.0"/><rect x="235.6" y="495.3" width="1.0" height="1.0"/><rect x="249.5" y="489.7" width="1.0" height="1.0"/><rect x="250.2" y="491.8" width="1.0" height="1.0"/><rect x="250.5" y="482.7" width="1.0" height="1.0"/><rect x="250.2" y="492.8" width="1.0" height="1.0"/><rect x="233.9" y="485.6" width="1.0" height="1.0"/><rect x="250.2" y="490.2" width="1.0" height="1.0"/><rect x="243.4" y="501.4" width="1.0" height="1.0"/><rect x="244.4" y="502.6" width="1.0" height="1.0"/><rect x="241.2" y="477.9" width="1.0" height="1.0"/><rect x="241.8" y="482.9" width="1.0" height="1.0"/><rect x="249.6" y="480.0" width="1.0" height="1.0"/><rect x="232.7" y="497.7" width="1.0" height="1.0"/><rect x="230.7" y="497.4" width="1.0" height="1.0"/><rect x="240.9" y="475.4" width="1.0" height="1.0"/><rect x="242.5" y="485.8" width="1.0" height="1.0"/><rect x="237.2" y="486.6" width="1.0" height="1.0"/><rect x="234.6" y="485.8" width="1.0" height="1.0"/><rect x="235.9" y="506.5" width="1.0" height="1.0"/><rect x="245.3" y="484.5" width="1.0" height="1.0"/><rect x="239.2" y="477.8" width="1.0" height="1.0"/><rect x="233.8" y="506.8" width="1.0" height="1.0"/><rect x="240.8" y="501.4" width="1.0" height="1.0"/><rect x="246.3" y="502.9" width="1.0" height="1.0"/><rect x="248.1" y="476.9" width="1.0" height="1.0"/><rect x="231.6" y="505.6" width="1.0" height="1.0"/><rect x="234.7" y="500.3" width="1.0" height="1.0"/><rect x="247.7" y="488.9" width="1.0" height="1.0"/><rect x="238.3" y="488.6" width="1.0" height="1.0"/><rect x="247.1" y="473.7" width="1.0" height="1.0"/><rect x="240.2" y="487.2" width="1.0" height="1.0"/><rect x="242.4" y="492.6" width="1.0" height="1.0"/><rect x="244.4" y="493.3" width="1.0" height="1.0"/><rect x="238.0" y="484.6" width="1.0" height="1.0"/><rect x="250.3" y="493.7" width="1.0" height="1.0"/><rect x="230.2" y="501.0" width="1.0" height="1.0"/><rect x="238.3" y="487.0" width="1.0" height="1.0"/><rect x="241.1" y="499.8" width="1.0" height="1.0"/><rect x="237.1" y="486.4" width="1.0" height="1.0"/><rect x="244.6" y="504.8" width="1.0" height="1.0"/><rect x="233.9" y="493.9" width="1.0" height="1.0"/><rect x="243.6" y="477.9" width="1.0" height="1.0"/><rect x="231.4" y="502.8" width="1.0" height="1.0"/><rect x="242.0" y="495.2" width="1.0" height="1.0"/><rect x="233.1" y="492.0" width="1.0" height="1.0"/><rect x="251.8" y="482.4" width="1.0" height="1.0"/><rect x="237.1" y="488.2" width="1.0" height="1.0"/><rect x="246.4" y="502.0" width="1.0" height="1.0"/><rect x="239.3" y="483.9" width="1.0" height="1.0"/><rect x="245.4" y="478.3" width="1.0" height="1.0"/><rect x="232.7" y="501.5" width="1.0" height="1.0"/><rect x="231.0" y="493.2" width="1.0" height="1.0"/><rect x="238.7" y="481.1" width="1.0" height="1.0"/><rect x="238.8" y="499.5" width="1.0" height="1.0"/><rect x="236.3" y="496.2" width="1.0" height="1.0"/><rect x="238.7" y="487.5" width="1.0" height="1.0"/><rect x="242.6" y="506.9" width="1.0" height="1.0"/><rect x="238.8" y="506.0" width="1.0" height="1.0"/><rect x="248.3" y="477.0" width="1.0" height="1.0"/><rect x="239.4" y="499.9" width="1.0" height="1.0"/><rect x="237.7" y="505.7" width="1.0" height="1.0"/><rect x="239.0" y="476.9" width="1.0" height="1.0"/><rect x="233.0" y="497.8" width="1.0" height="1.0"/><rect x="242.5" y="492.7" width="1.0" height="1.0"/><rect x="236.2" y="486.5" width="1.0" height="1.0"/><rect x="241.4" y="475.1" width="1.0" height="1.0"/><rect x="248.0" y="488.1" width="1.0" height="1.0"/><rect x="244.0" y="504.3" width="1.0" height="1.0"/><rect x="248.1" y="479.5" width="1.0" height="1.0"/><rect x="242.0" y="483.6" width="1.0" height="1.0"/><rect x="245.8" y="479.7" width="1.0" height="1.0"/><rect x="243.4" y="496.7" width="1.0" height="1.0"/><rect x="233.8" y="507.3" width="1.0" height="1.0"/><rect x="242.3" y="493.1" width="1.0" height="1.0"/><rect x="238.2" y="482.3" width="1.0" height="1.0"/><rect x="246.8" y="486.7" width="1.0" height="1.0"/><rect x="234.4" y="485.8" width="1.0" height="1.0"/><rect x="244.8" y="477.9" width="1.0" height="1.0"/><rect x="231.4" y="505.0" width="1.0" height="1.0"/><rect x="247.6" y="490.5" width="1.0" height="1.0"/><rect x="244.3" y="497.7" width="1.0" height="1.0"/><rect x="234.6" y="491.0" width="1.0" height="1.0"/><rect x="231.5" y="492.2" width="1.0" height="1.0"/><rect x="246.1" y="476.8" width="1.0" height="1.0"/><rect x="244.2" y="481.8" width="1.0" height="1.0"/><rect x="242.3" y="493.4" width="1.0" height="1.0"/><rect x="251.4" y="485.6" width="1.0" height="1.0"/></g>
<g clip-path="url(#c8)"><g filter="url(#bl)"><ellipse cx="218.00" cy="481.30" rx="10.50" ry="8.00" transform="rotate(0 218.00 481.30)" fill="#2f3fc8" fill-opacity="1"/><ellipse cx="218.50" cy="481.10" rx="8.80" ry="6.50" transform="rotate(0 218.50 481.10)" fill="#4a6ee0" fill-opacity="1"/><ellipse cx="218.80" cy="481.00" rx="7.00" ry="5.10" transform="rotate(0 218.80 481.00)" fill="#4cc0e4" fill-opacity="1"/><ellipse cx="219.00" cy="480.90" rx="5.00" ry="3.60" transform="rotate(0 219.00 480.90)" fill="#80d060" fill-opacity="1"/><ellipse cx="219.00" cy="480.80" rx="3.20" ry="2.40" transform="rotate(0 219.00 480.80)" fill="#e2d448" fill-opacity="1"/><ellipse cx="219.00" cy="480.80" rx="2.00" ry="1.40" transform="rotate(0 219.00 480.80)" fill="#d83a2a" fill-opacity="1"/></g></g>
<g clip-path="url(#c8)"><g filter="url(#bl)"><ellipse cx="240.50" cy="490.00" rx="5.80" ry="16.00" transform="rotate(17 240.50 490.00)" fill="#2f3fc8" fill-opacity="1"/><ellipse cx="240.50" cy="490.00" rx="4.20" ry="14.00" transform="rotate(17 240.50 490.00)" fill="#4a6ee0" fill-opacity="1"/><ellipse cx="240.50" cy="490.00" rx="2.50" ry="11.00" transform="rotate(17 240.50 490.00)" fill="#4cc0e4" fill-opacity="1"/><ellipse cx="240.80" cy="489.00" rx="1.20" ry="6.00" transform="rotate(17 240.80 489.00)" fill="#70d0c0" fill-opacity="1"/></g></g>
<line x1="235.80" y1="465.00" x2="235.80" y2="512.10" stroke="#9a9a9a" stroke-width="0.9" />
<line x1="204.60" y1="490.40" x2="268.40" y2="490.40" stroke="#9a9a9a" stroke-width="0.9" />
<rect x="270.20" y="465.00" width="64.40" height="46.50" fill="#fff" stroke="#c8c8c8" stroke-width="0.9" />
<g clip-path="url(#c9)" fill="#7585e0" fill-opacity="0.4"><rect x="299.1" y="500.6" width="1.0" height="1.0"/><rect x="310.8" y="497.7" width="1.0" height="1.0"/><rect x="305.7" y="481.1" width="1.0" height="1.0"/><rect x="275.3" y="488.8" width="1.0" height="1.0"/><rect x="309.8" y="485.1" width="1.0" height="1.0"/><rect x="298.1" y="486.9" width="1.0" height="1.0"/><rect x="307.9" y="493.6" width="1.0" height="1.0"/><rect x="299.9" y="502.7" width="1.0" height="1.0"/><rect x="304.7" y="486.7" width="1.0" height="1.0"/><rect x="296.8" y="505.9" width="1.0" height="1.0"/><rect x="280.8" y="500.7" width="1.0" height="1.0"/><rect x="274.9" y="488.4" width="1.0" height="1.0"/><rect x="291.0" y="504.9" width="1.0" height="1.0"/><rect x="292.0" y="499.7" width="1.0" height="1.0"/><rect x="315.7" y="484.7" width="1.0" height="1.0"/><rect x="300.7" y="504.8" width="1.0" height="1.0"/><rect x="299.3" y="488.1" width="1.0" height="1.0"/><rect x="286.8" y="500.0" width="1.0" height="1.0"/><rect x="283.3" y="494.9" width="1.0" height="1.0"/><rect x="300.7" y="493.5" width="1.0" height="1.0"/><rect x="280.2" y="496.4" width="1.0" height="1.0"/><rect x="318.0" y="486.9" width="1.0" height="1.0"/><rect x="289.9" y="503.5" width="1.0" height="1.0"/><rect x="301.8" y="485.6" width="1.0" height="1.0"/><rect x="290.7" y="491.1" width="1.0" height="1.0"/><rect x="287.1" y="495.7" width="1.0" height="1.0"/><rect x="309.0" y="486.7" width="1.0" height="1.0"/><rect x="301.1" y="497.2" width="1.0" height="1.0"/><rect x="293.3" y="498.5" width="1.0" height="1.0"/><rect x="320.1" y="494.5" width="1.0" height="1.0"/><rect x="292.8" y="483.5" width="1.0" height="1.0"/><rect x="286.1" y="482.2" width="1.0" height="1.0"/><rect x="279.3" y="483.9" width="1.0" height="1.0"/><rect x="314.4" y="493.0" width="1.0" height="1.0"/><rect x="311.0" y="501.5" width="1.0" height="1.0"/><rect x="305.6" y="489.3" width="1.0" height="1.0"/><rect x="304.6" y="484.8" width="1.0" height="1.0"/><rect x="299.5" y="485.4" width="1.0" height="1.0"/><rect x="281.8" y="486.3" width="1.0" height="1.0"/><rect x="308.8" y="491.6" width="1.0" height="1.0"/><rect x="292.9" y="491.6" width="1.0" height="1.0"/><rect x="300.6" y="492.4" width="1.0" height="1.0"/><rect x="295.4" y="505.1" width="1.0" height="1.0"/><rect x="310.1" y="484.4" width="1.0" height="1.0"/><rect x="289.3" y="483.3" width="1.0" height="1.0"/><rect x="291.5" y="478.8" width="1.0" height="1.0"/><rect x="309.7" y="493.9" width="1.0" height="1.0"/><rect x="294.3" y="503.0" width="1.0" height="1.0"/><rect x="289.8" y="494.2" width="1.0" height="1.0"/><rect x="318.6" y="493.6" width="1.0" height="1.0"/><rect x="303.4" y="488.3" width="1.0" height="1.0"/><rect x="288.6" y="488.0" width="1.0" height="1.0"/><rect x="302.4" y="492.5" width="1.0" height="1.0"/><rect x="299.1" y="483.4" width="1.0" height="1.0"/><rect x="301.6" y="497.7" width="1.0" height="1.0"/><rect x="310.7" y="490.6" width="1.0" height="1.0"/><rect x="295.4" y="492.1" width="1.0" height="1.0"/><rect x="299.7" y="491.3" width="1.0" height="1.0"/><rect x="296.4" y="499.1" width="1.0" height="1.0"/><rect x="284.1" y="485.5" width="1.0" height="1.0"/><rect x="298.8" y="497.6" width="1.0" height="1.0"/><rect x="275.3" y="491.2" width="1.0" height="1.0"/><rect x="317.5" y="495.1" width="1.0" height="1.0"/><rect x="275.3" y="493.0" width="1.0" height="1.0"/><rect x="310.4" y="484.2" width="1.0" height="1.0"/><rect x="305.2" y="501.8" width="1.0" height="1.0"/><rect x="312.1" y="490.0" width="1.0" height="1.0"/><rect x="276.8" y="493.1" width="1.0" height="1.0"/><rect x="283.0" y="493.1" width="1.0" height="1.0"/><rect x="286.9" y="487.7" width="1.0" height="1.0"/><rect x="300.1" y="500.9" width="1.0" height="1.0"/><rect x="320.8" y="489.4" width="1.0" height="1.0"/><rect x="290.3" y="499.2" width="1.0" height="1.0"/><rect x="309.1" y="486.0" width="1.0" height="1.0"/><rect x="289.4" y="487.4" width="1.0" height="1.0"/><rect x="299.8" y="484.8" width="1.0" height="1.0"/><rect x="297.7" y="485.9" width="1.0" height="1.0"/><rect x="280.0" y="485.0" width="1.0" height="1.0"/><rect x="306.7" y="486.7" width="1.0" height="1.0"/><rect x="283.6" y="488.2" width="1.0" height="1.0"/><rect x="311.8" y="482.2" width="1.0" height="1.0"/><rect x="288.1" y="490.2" width="1.0" height="1.0"/><rect x="299.3" y="488.9" width="1.0" height="1.0"/><rect x="299.1" y="499.3" width="1.0" height="1.0"/><rect x="281.4" y="493.7" width="1.0" height="1.0"/><rect x="281.9" y="493.0" width="1.0" height="1.0"/><rect x="289.2" y="500.5" width="1.0" height="1.0"/><rect x="293.5" y="495.3" width="1.0" height="1.0"/><rect x="282.1" y="497.9" width="1.0" height="1.0"/><rect x="311.3" y="490.0" width="1.0" height="1.0"/><rect x="289.4" y="499.2" width="1.0" height="1.0"/><rect x="310.0" y="500.4" width="1.0" height="1.0"/><rect x="287.9" y="484.8" width="1.0" height="1.0"/><rect x="286.0" y="483.3" width="1.0" height="1.0"/><rect x="297.7" y="490.1" width="1.0" height="1.0"/><rect x="316.7" y="488.6" width="1.0" height="1.0"/><rect x="277.5" y="487.5" width="1.0" height="1.0"/><rect x="310.7" y="487.0" width="1.0" height="1.0"/><rect x="288.8" y="502.2" width="1.0" height="1.0"/><rect x="318.2" y="492.4" width="1.0" height="1.0"/><rect x="305.4" y="499.7" width="1.0" height="1.0"/><rect x="312.1" y="484.6" width="1.0" height="1.0"/><rect x="284.2" y="502.3" width="1.0" height="1.0"/><rect x="314.3" y="490.2" width="1.0" height="1.0"/><rect x="287.0" y="480.2" width="1.0" height="1.0"/><rect x="293.4" y="503.5" width="1.0" height="1.0"/><rect x="283.8" y="486.8" width="1.0" height="1.0"/><rect x="275.7" y="493.9" width="1.0" height="1.0"/><rect x="276.9" y="496.9" width="1.0" height="1.0"/><rect x="297.6" y="489.8" width="1.0" height="1.0"/><rect x="286.4" y="486.5" width="1.0" height="1.0"/><rect x="310.1" y="484.0" width="1.0" height="1.0"/><rect x="284.0" y="488.2" width="1.0" height="1.0"/><rect x="285.0" y="495.7" width="1.0" height="1.0"/><rect x="292.2" y="490.8" width="1.0" height="1.0"/><rect x="283.5" y="498.2" width="1.0" height="1.0"/><rect x="297.2" y="490.4" width="1.0" height="1.0"/><rect x="305.0" y="481.7" width="1.0" height="1.0"/><rect x="316.2" y="499.5" width="1.0" height="1.0"/><rect x="284.9" y="489.3" width="1.0" height="1.0"/><rect x="297.3" y="501.9" width="1.0" height="1.0"/><rect x="307.3" y="484.7" width="1.0" height="1.0"/><rect x="315.2" y="491.8" width="1.0" height="1.0"/><rect x="296.7" y="489.4" width="1.0" height="1.0"/><rect x="320.9" y="491.5" width="1.0" height="1.0"/><rect x="275.5" y="491.2" width="1.0" height="1.0"/><rect x="283.5" y="485.2" width="1.0" height="1.0"/><rect x="295.2" y="480.5" width="1.0" height="1.0"/><rect x="288.2" y="495.2" width="1.0" height="1.0"/><rect x="286.5" y="486.7" width="1.0" height="1.0"/><rect x="292.2" y="485.4" width="1.0" height="1.0"/><rect x="301.0" y="499.8" width="1.0" height="1.0"/><rect x="275.5" y="493.0" width="1.0" height="1.0"/><rect x="299.7" y="503.7" width="1.0" height="1.0"/><rect x="307.8" y="485.7" width="1.0" height="1.0"/><rect x="303.6" y="503.2" width="1.0" height="1.0"/><rect x="279.2" y="488.4" width="1.0" height="1.0"/><rect x="297.0" y="487.2" width="1.0" height="1.0"/><rect x="310.4" y="491.8" width="1.0" height="1.0"/><rect x="312.8" y="481.2" width="1.0" height="1.0"/><rect x="298.9" y="482.2" width="1.0" height="1.0"/><rect x="292.4" y="495.1" width="1.0" height="1.0"/><rect x="292.8" y="481.1" width="1.0" height="1.0"/><rect x="309.7" y="482.0" width="1.0" height="1.0"/><rect x="283.5" y="500.6" width="1.0" height="1.0"/><rect x="296.9" y="486.7" width="1.0" height="1.0"/><rect x="304.9" y="486.5" width="1.0" height="1.0"/><rect x="296.1" y="502.5" width="1.0" height="1.0"/><rect x="299.8" y="487.1" width="1.0" height="1.0"/><rect x="296.0" y="499.4" width="1.0" height="1.0"/><rect x="305.0" y="486.3" width="1.0" height="1.0"/><rect x="318.6" y="498.3" width="1.0" height="1.0"/><rect x="302.3" y="496.7" width="1.0" height="1.0"/><rect x="289.5" y="479.1" width="1.0" height="1.0"/><rect x="301.5" y="483.6" width="1.0" height="1.0"/><rect x="288.2" y="489.7" width="1.0" height="1.0"/><rect x="292.3" y="479.6" width="1.0" height="1.0"/><rect x="298.7" y="489.6" width="1.0" height="1.0"/><rect x="310.6" y="485.4" width="1.0" height="1.0"/><rect x="285.4" y="492.0" width="1.0" height="1.0"/><rect x="293.4" y="481.6" width="1.0" height="1.0"/><rect x="309.3" y="502.2" width="1.0" height="1.0"/><rect x="313.9" y="496.4" width="1.0" height="1.0"/><rect x="296.6" y="500.1" width="1.0" height="1.0"/><rect x="284.1" y="480.8" width="1.0" height="1.0"/><rect x="283.8" y="492.9" width="1.0" height="1.0"/><rect x="284.0" y="490.2" width="1.0" height="1.0"/><rect x="313.0" y="495.3" width="1.0" height="1.0"/><rect x="283.6" y="481.4" width="1.0" height="1.0"/><rect x="286.6" y="497.9" width="1.0" height="1.0"/></g>
<g clip-path="url(#c9)" fill="#3a4ed0" fill-opacity="0.6"><rect x="287.9" y="483.6" width="1.0" height="1.0"/><rect x="290.4" y="479.0" width="1.0" height="1.0"/><rect x="292.8" y="481.9" width="1.0" height="1.0"/><rect x="292.7" y="481.6" width="1.0" height="1.0"/><rect x="289.2" y="479.5" width="1.0" height="1.0"/><rect x="296.1" y="480.2" width="1.0" height="1.0"/><rect x="295.8" y="484.9" width="1.0" height="1.0"/><rect x="288.8" y="479.4" width="1.0" height="1.0"/><rect x="296.8" y="482.8" width="1.0" height="1.0"/><rect x="288.2" y="483.8" width="1.0" height="1.0"/><rect x="288.5" y="480.0" width="1.0" height="1.0"/><rect x="288.5" y="484.3" width="1.0" height="1.0"/><rect x="293.6" y="482.9" width="1.0" height="1.0"/><rect x="293.4" y="485.3" width="1.0" height="1.0"/><rect x="294.6" y="480.0" width="1.0" height="1.0"/><rect x="286.8" y="481.8" width="1.0" height="1.0"/><rect x="295.9" y="483.3" width="1.0" height="1.0"/><rect x="287.6" y="479.1" width="1.0" height="1.0"/><rect x="296.0" y="481.4" width="1.0" height="1.0"/><rect x="291.5" y="481.8" width="1.0" height="1.0"/><rect x="286.6" y="484.0" width="1.0" height="1.0"/><rect x="294.4" y="482.3" width="1.0" height="1.0"/><rect x="290.4" y="485.1" width="1.0" height="1.0"/><rect x="298.2" y="482.4" width="1.0" height="1.0"/><rect x="295.4" y="482.4" width="1.0" height="1.0"/><rect x="295.1" y="484.9" width="1.0" height="1.0"/><rect x="298.1" y="483.8" width="1.0" height="1.0"/><rect x="293.4" y="486.8" width="1.0" height="1.0"/><rect x="287.1" y="483.9" width="1.0" height="1.0"/><rect x="299.1" y="481.8" width="1.0" height="1.0"/><rect x="298.1" y="478.8" width="1.0" height="1.0"/><rect x="291.7" y="479.7" width="1.0" height="1.0"/><rect x="291.4" y="484.0" width="1.0" height="1.0"/><rect x="287.3" y="480.4" width="1.0" height="1.0"/><rect x="298.5" y="480.0" width="1.0" height="1.0"/><rect x="293.7" y="477.2" width="1.0" height="1.0"/><rect x="294.1" y="478.5" width="1.0" height="1.0"/><rect x="287.6" y="484.4" width="1.0" height="1.0"/><rect x="295.4" y="481.3" width="1.0" height="1.0"/><rect x="293.2" y="482.6" width="1.0" height="1.0"/><rect x="292.3" y="478.0" width="1.0" height="1.0"/><rect x="297.3" y="484.7" width="1.0" height="1.0"/><rect x="291.8" y="481.0" width="1.0" height="1.0"/><rect x="294.8" y="481.7" width="1.0" height="1.0"/><rect x="291.6" y="485.8" width="1.0" height="1.0"/><rect x="287.8" y="484.8" width="1.0" height="1.0"/><rect x="289.8" y="477.6" width="1.0" height="1.0"/><rect x="297.1" y="484.4" width="1.0" height="1.0"/><rect x="300.6" y="482.2" width="1.0" height="1.0"/><rect x="299.9" y="479.6" width="1.0" height="1.0"/><rect x="296.2" y="485.0" width="1.0" height="1.0"/><rect x="287.1" y="480.0" width="1.0" height="1.0"/><rect x="294.4" y="477.6" width="1.0" height="1.0"/><rect x="290.3" y="483.0" width="1.0" height="1.0"/><rect x="300.0" y="484.2" width="1.0" height="1.0"/><rect x="291.3" y="481.1" width="1.0" height="1.0"/><rect x="293.2" y="484.4" width="1.0" height="1.0"/><rect x="289.4" y="479.2" width="1.0" height="1.0"/><rect x="287.6" y="478.4" width="1.0" height="1.0"/><rect x="295.8" y="481.4" width="1.0" height="1.0"/><rect x="298.4" y="479.6" width="1.0" height="1.0"/><rect x="298.3" y="484.8" width="1.0" height="1.0"/><rect x="293.5" y="477.9" width="1.0" height="1.0"/><rect x="296.3" y="485.7" width="1.0" height="1.0"/><rect x="286.5" y="480.6" width="1.0" height="1.0"/><rect x="293.6" y="483.4" width="1.0" height="1.0"/><rect x="293.5" y="486.1" width="1.0" height="1.0"/><rect x="297.4" y="485.6" width="1.0" height="1.0"/><rect x="295.8" y="481.6" width="1.0" height="1.0"/><rect x="291.4" y="484.5" width="1.0" height="1.0"/><rect x="296.4" y="482.8" width="1.0" height="1.0"/><rect x="289.5" y="479.5" width="1.0" height="1.0"/><rect x="287.2" y="483.5" width="1.0" height="1.0"/><rect x="296.5" y="481.5" width="1.0" height="1.0"/><rect x="285.3" y="481.2" width="1.0" height="1.0"/><rect x="299.8" y="482.1" width="1.0" height="1.0"/><rect x="289.3" y="478.4" width="1.0" height="1.0"/><rect x="293.0" y="479.4" width="1.0" height="1.0"/><rect x="289.4" y="477.6" width="1.0" height="1.0"/><rect x="294.7" y="484.9" width="1.0" height="1.0"/></g>
<g clip-path="url(#c9)"><g filter="url(#bl)"><ellipse cx="293.00" cy="481.50" rx="6.20" ry="4.00" transform="rotate(0 293.00 481.50)" fill="#3a4ed8" fill-opacity="0.9"/><ellipse cx="302.00" cy="484.00" rx="6.00" ry="3.00" transform="rotate(0 302.00 484.00)" fill="#5a70dc" fill-opacity="0.6"/><ellipse cx="314.00" cy="487.80" rx="8.60" ry="10.60" transform="rotate(-8 314.00 487.80)" fill="#2f3fc8" fill-opacity="1"/><ellipse cx="314.20" cy="487.60" rx="7.00" ry="9.00" transform="rotate(-8 314.20 487.60)" fill="#4a6ee0" fill-opacity="1"/><ellipse cx="314.40" cy="487.40" rx="5.40" ry="7.60" transform="rotate(-8 314.40 487.40)" fill="#4cc0e4" fill-opacity="1"/><ellipse cx="314.40" cy="487.00" rx="3.80" ry="5.80" transform="rotate(-8 314.40 487.00)" fill="#80d060" fill-opacity="1"/><ellipse cx="314.00" cy="486.30" rx="2.40" ry="3.60" transform="rotate(-8 314.00 486.30)" fill="#e2d448" fill-opacity="1"/><ellipse cx="313.70" cy="486.20" rx="1.30" ry="1.60" transform="rotate(0 313.70 486.20)" fill="#e89030" fill-opacity="1"/></g></g>
<line x1="299.00" y1="465.00" x2="299.00" y2="511.50" stroke="#9a9a9a" stroke-width="0.9" />
<line x1="270.20" y1="490.40" x2="334.60" y2="490.40" stroke="#9a9a9a" stroke-width="0.9" />
<text x="219.00" y="398.60" font-size="9.8" font-style="italic" fill="#111" stroke="#111" stroke-width="0.12">Runx1<tspan font-size="4.8" dy="-3.8" font-style="normal">+/+</tspan></text>
<text x="286.60" y="398.60" font-size="9.8" font-style="italic" fill="#111" stroke="#111" stroke-width="0.12">Runx1<tspan font-size="4.8" dy="-3.8" font-style="normal">Δ/Δ</tspan></text>
<text x="207.00" y="408.10" font-size="9.2" text-anchor="start" fill="#111" stroke="#111" stroke-width="0.12" >6%</text>
<text x="243.80" y="430.00" font-size="9.2" text-anchor="start" fill="#111" stroke="#111" stroke-width="0.12" >53%</text>
<text x="273.50" y="408.10" font-size="9.2" text-anchor="start" fill="#111" stroke="#111" stroke-width="0.12" >50%</text>
<text x="206.00" y="473.90" font-size="9.2" text-anchor="start" fill="#111" stroke="#111" stroke-width="0.12" >69%</text>
<text x="274.00" y="473.90" font-size="9.2" text-anchor="start" fill="#111" stroke="#111" stroke-width="0.12" >10%</text>
<line x1="196.30" y1="453.60" x2="196.30" y2="431.20" stroke="#111" stroke-width="1.1" />
<path d="M196.30,426.20 L193.80,431.70 L198.80,431.70 Z" fill="#111"/>
<line x1="195.80" y1="453.60" x2="310.40" y2="453.60" stroke="#111" stroke-width="1.1" />
<path d="M315.40,453.60 L309.90,451.10 L309.90,456.10 Z" fill="#111"/>
<text x="316.30" y="456.80" font-size="8.8" text-anchor="start" fill="#111" stroke="#111" stroke-width="0.12" >Ter119</text>
<text x="199.80" y="412.40" font-size="8.6" text-anchor="middle" fill="#111" stroke="#111" stroke-width="0.12" transform="rotate(-90 199.80 412.40)" >CD41</text>
<line x1="197.70" y1="518.00" x2="197.70" y2="496.00" stroke="#111" stroke-width="1.1" />
<path d="M197.70,491.00 L195.20,496.50 L200.20,496.50 Z" fill="#111"/>
<line x1="197.20" y1="518.00" x2="311.30" y2="518.00" stroke="#111" stroke-width="1.1" />
<path d="M316.30,518.00 L310.80,515.50 L310.80,520.50 Z" fill="#111"/>
<text x="317.30" y="521.20" font-size="8.8" text-anchor="start" fill="#111" stroke="#111" stroke-width="0.12" >CD45</text>
<text x="200.20" y="477.00" font-size="8.6" text-anchor="middle" fill="#111" stroke="#111" stroke-width="0.12" transform="rotate(-90 200.20 477.00)" >CD71</text>
<text x="7.60" y="547.30" font-size="10.5" text-anchor="start" fill="#111" stroke="#111" stroke-width="0.12" font-weight="bold" >I</text>
<line x1="44.30" y1="560.00" x2="44.30" y2="679.70" stroke="#111" stroke-width="1.1" />
<line x1="43.80" y1="679.20" x2="111.50" y2="679.20" stroke="#111" stroke-width="1.1" />
<line x1="40.80" y1="679.20" x2="44.30" y2="679.20" stroke="#111" stroke-width="1" />
<text x="38.30" y="682.00" font-size="7.8" text-anchor="end" fill="#222" stroke="#222" stroke-width="0.12" >0</text>
<line x1="40.80" y1="655.98" x2="44.30" y2="655.98" stroke="#111" stroke-width="1" />
<text x="38.30" y="658.78" font-size="7.8" text-anchor="end" fill="#222" stroke="#222" stroke-width="0.12" >500</text>
<line x1="40.80" y1="632.76" x2="44.30" y2="632.76" stroke="#111" stroke-width="1" />
<text x="38.30" y="635.56" font-size="7.8" text-anchor="end" fill="#222" stroke="#222" stroke-width="0.12" >1000</text>
<line x1="40.80" y1="609.54" x2="44.30" y2="609.54" stroke="#111" stroke-width="1" />
<text x="38.30" y="612.34" font-size="7.8" text-anchor="end" fill="#222" stroke="#222" stroke-width="0.12" >1500</text>
<line x1="40.80" y1="586.32" x2="44.30" y2="586.32" stroke="#111" stroke-width="1" />
<text x="38.30" y="589.12" font-size="7.8" text-anchor="end" fill="#222" stroke="#222" stroke-width="0.12" >2000</text>
<line x1="40.80" y1="563.10" x2="44.30" y2="563.10" stroke="#111" stroke-width="1" />
<text x="38.30" y="565.90" font-size="7.8" text-anchor="end" fill="#222" stroke="#222" stroke-width="0.12" >2500</text>
<line x1="61.30" y1="679.20" x2="61.30" y2="682.20" stroke="#111" stroke-width="1" />
<line x1="95.00" y1="679.20" x2="95.00" y2="682.20" stroke="#111" stroke-width="1" />
<text x="14.60" y="620.00" font-size="8.9" text-anchor="middle" fill="#222" stroke="#222" stroke-width="0.12" transform="rotate(-90 14.60 620.00)" >Plasma Thpo concentration (pg/ml)</text>
<line x1="59.60" y1="569.20" x2="97.20" y2="569.20" stroke="#111" stroke-width="1.1" />
<line x1="59.60" y1="567.20" x2="59.60" y2="571.20" stroke="#111" stroke-width="1.1" />
<line x1="97.20" y1="567.20" x2="97.20" y2="571.20" stroke="#111" stroke-width="1.1" />
<circle cx="74.35" cy="563.90" r="1.15" fill="#111"/>
<circle cx="78.40" cy="563.90" r="1.15" fill="#111"/>
<circle cx="82.45" cy="563.90" r="1.15" fill="#111"/>
<circle cx="61.3" cy="585.0" r="2.1" fill="#111"/>
<circle cx="61.3" cy="626.2" r="2.1" fill="#111"/>
<circle cx="67.4" cy="631.2" r="2.1" fill="#111"/>
<circle cx="55.3" cy="636.0" r="2.1" fill="#111"/>
<circle cx="61.3" cy="636.0" r="2.1" fill="#111"/>
<circle cx="61.3" cy="644.0" r="2.1" fill="#111"/>
<circle cx="67.4" cy="649.0" r="2.1" fill="#111"/>
<circle cx="55.3" cy="652.7" r="2.1" fill="#111"/>
<circle cx="61.3" cy="654.0" r="2.1" fill="#111"/>
<circle cx="58.3" cy="660.6" r="2.1" fill="#111"/>
<circle cx="64.6" cy="659.0" r="2.1" fill="#111"/>
<line x1="50.30" y1="639.00" x2="72.80" y2="639.00" stroke="#111" stroke-width="1.2" />
<line x1="56.30" y1="632.90" x2="66.60" y2="632.90" stroke="#111" stroke-width="1.2" />
<line x1="56.30" y1="646.00" x2="66.60" y2="646.00" stroke="#111" stroke-width="1.2" />
<line x1="61.30" y1="632.90" x2="61.30" y2="646.00" stroke="#111" stroke-width="1.2" />
<rect x="90.00" y="662.40" width="3.80" height="3.80" fill="#111" />
<rect x="95.80" y="664.60" width="3.80" height="3.80" fill="#111" />
<rect x="86.30" y="668.70" width="3.80" height="3.80" fill="#111" />
<rect x="90.00" y="669.10" width="3.80" height="3.80" fill="#111" />
<rect x="93.00" y="668.70" width="3.80" height="3.80" fill="#111" />
<rect x="99.60" y="668.20" width="3.80" height="3.80" fill="#111" />
<rect x="89.70" y="672.10" width="3.80" height="3.80" fill="#111" />
<rect x="95.50" y="671.60" width="3.80" height="3.80" fill="#111" />
<rect x="93.10" y="670.60" width="3.80" height="3.80" fill="#111" />
<line x1="84.00" y1="670.30" x2="105.70" y2="670.30" stroke="#111" stroke-width="1.2" />
<text x="61.30" y="694.20" font-size="7.8" text-anchor="middle" fill="#222" stroke="#222" stroke-width="0.12" >+/+</text>
<text x="61.30" y="702.20" font-size="7.8" text-anchor="middle" fill="#222" stroke="#222" stroke-width="0.12" >n = 11</text>
<text x="94.50" y="694.20" font-size="7.8" text-anchor="middle" fill="#222" stroke="#222" stroke-width="0.12" >Δ/Δ</text>
<text x="94.50" y="702.20" font-size="7.8" text-anchor="middle" fill="#222" stroke="#222" stroke-width="0.12" >n = 8</text>
<text x="121.40" y="547.80" font-size="10.5" text-anchor="start" fill="#111" stroke="#111" stroke-width="0.12" font-weight="bold" >J</text>
<line x1="149.40" y1="571.00" x2="149.40" y2="680.00" stroke="#111" stroke-width="1.1" />
<line x1="148.90" y1="679.50" x2="236.00" y2="679.50" stroke="#111" stroke-width="1.1" />
<line x1="145.90" y1="679.50" x2="149.40" y2="679.50" stroke="#111" stroke-width="1" />
<text x="144.20" y="682.20" font-size="7.5" text-anchor="end" fill="#222" stroke="#222" stroke-width="0.12" >0</text>
<line x1="145.90" y1="653.50" x2="149.40" y2="653.50" stroke="#111" stroke-width="1" />
<text x="144.20" y="656.20" font-size="7.5" text-anchor="end" fill="#222" stroke="#222" stroke-width="0.12" >20</text>
<line x1="145.90" y1="627.50" x2="149.40" y2="627.50" stroke="#111" stroke-width="1" />
<text x="144.20" y="630.20" font-size="7.5" text-anchor="end" fill="#222" stroke="#222" stroke-width="0.12" >40</text>
<line x1="145.90" y1="601.50" x2="149.40" y2="601.50" stroke="#111" stroke-width="1" />
<text x="144.20" y="604.20" font-size="7.5" text-anchor="end" fill="#222" stroke="#222" stroke-width="0.12" >60</text>
<line x1="145.90" y1="575.50" x2="149.40" y2="575.50" stroke="#111" stroke-width="1" />
<text x="144.20" y="578.20" font-size="7.5" text-anchor="end" fill="#222" stroke="#222" stroke-width="0.12" >80</text>
<text x="130.40" y="625.70" font-size="8.85" text-anchor="middle" fill="#222" stroke="#222" stroke-width="0.12" transform="rotate(-90 130.40 625.70)" >Percentage of total cells</text>
<rect x="152.90" y="665.50" width="7.60" height="14.00" fill="#6cb56c" />
<line x1="156.70" y1="661.50" x2="156.70" y2="665.50" stroke="#222" stroke-width="1.1" />
<line x1="154.50" y1="661.50" x2="158.90" y2="661.50" stroke="#222" stroke-width="1.1" />
<rect x="160.50" y="622.60" width="8.00" height="56.90" fill="#c9604d" />
<line x1="164.50" y1="614.70" x2="164.50" y2="622.60" stroke="#222" stroke-width="1.1" />
<line x1="162.30" y1="614.70" x2="166.70" y2="614.70" stroke="#222" stroke-width="1.1" />
<rect x="168.50" y="591.40" width="7.90" height="88.10" fill="#4e1525" />
<line x1="172.45" y1="586.10" x2="172.45" y2="591.40" stroke="#222" stroke-width="1.1" />
<line x1="170.25" y1="586.10" x2="174.65" y2="586.10" stroke="#222" stroke-width="1.1" />
<rect x="181.20" y="607.60" width="7.90" height="71.90" fill="#6cb56c" />
<line x1="185.15" y1="600.40" x2="185.15" y2="607.60" stroke="#222" stroke-width="1.1" />
<line x1="182.95" y1="600.40" x2="187.35" y2="600.40" stroke="#222" stroke-width="1.1" />
<rect x="197.60" y="667.60" width="8.20" height="11.90" fill="#4e1525" />
<line x1="201.70" y1="666.30" x2="201.70" y2="667.60" stroke="#222" stroke-width="1.1" />
<line x1="199.50" y1="666.30" x2="203.90" y2="666.30" stroke="#222" stroke-width="1.1" />
<rect x="210.80" y="616.60" width="8.00" height="62.90" fill="#6cb56c" />
<line x1="214.80" y1="615.20" x2="214.80" y2="616.60" stroke="#222" stroke-width="1.1" />
<line x1="212.60" y1="615.20" x2="217.00" y2="615.20" stroke="#222" stroke-width="1.1" />
<rect x="227.00" y="665.50" width="7.90" height="14.00" fill="#4e1525" />
<line x1="230.95" y1="663.70" x2="230.95" y2="665.50" stroke="#222" stroke-width="1.1" />
<line x1="228.75" y1="663.70" x2="233.15" y2="663.70" stroke="#222" stroke-width="1.1" />
<line x1="206.80" y1="582.40" x2="206.80" y2="703.40" stroke="#111" stroke-width="1.1" />
<line x1="165.30" y1="679.50" x2="165.30" y2="682.50" stroke="#111" stroke-width="1" />
<line x1="193.90" y1="679.50" x2="193.90" y2="682.50" stroke="#111" stroke-width="1" />
<line x1="223.50" y1="679.50" x2="223.50" y2="682.50" stroke="#111" stroke-width="1" />
<text x="165.30" y="692.30" font-size="7.8" text-anchor="middle" fill="#222" stroke="#222" stroke-width="0.12" >+/+</text>
<text x="193.90" y="692.30" font-size="7.8" text-anchor="middle" fill="#222" stroke="#222" stroke-width="0.12" >Δ/Δ</text>
<text x="223.50" y="692.30" font-size="7.8" text-anchor="middle" fill="#222" stroke="#222" stroke-width="0.12" >Δ/Δ</text>
<text x="178.50" y="702.30" font-size="8.2" text-anchor="middle" fill="#222" stroke="#222" stroke-width="0.12" >MEP</text>
<text x="223.50" y="702.30" font-size="8.2" text-anchor="middle" fill="#222" stroke="#222" stroke-width="0.12" >XMP</text>
<rect x="158.00" y="561.30" width="4.20" height="4.20" fill="#6cb56c" />
<text x="165.30" y="566.50" font-size="8" text-anchor="start" fill="#222" stroke="#222" stroke-width="0.12" >CD41</text>
<rect x="190.30" y="561.30" width="4.20" height="4.20" fill="#c9604d" />
<text x="197.00" y="566.50" font-size="8" text-anchor="start" fill="#222" stroke="#222" stroke-width="0.12" >Ter119</text>
<rect x="158.10" y="571.20" width="4.20" height="4.20" fill="#4e1525" />
<text x="165.30" y="576.30" font-size="8" text-anchor="start" fill="#222" stroke="#222" stroke-width="0.12" >CD71<tspan font-size="5" dy="-3">+</tspan><tspan dy="3">CD45</tspan><tspan font-size="5" dy="-3">−</tspan></text>
<text x="248.20" y="548.20" font-size="10.5" text-anchor="start" fill="#111" stroke="#111" stroke-width="0.12" font-weight="bold" >K</text>
<text x="309.00" y="565.00" font-size="9.8" text-anchor="middle" fill="#111" stroke="#111" stroke-width="0.12" >Spleen</text>
<line x1="275.70" y1="571.30" x2="275.70" y2="679.70" stroke="#111" stroke-width="1.1" />
<line x1="275.20" y1="679.20" x2="340.40" y2="679.20" stroke="#111" stroke-width="1.1" />
<line x1="272.20" y1="679.20" x2="275.70" y2="679.20" stroke="#111" stroke-width="1" />
<text x="272.80" y="681.90" font-size="7.5" text-anchor="end" fill="#222" stroke="#222" stroke-width="0.12" >0</text>
<line x1="272.20" y1="659.40" x2="275.70" y2="659.40" stroke="#111" stroke-width="1" />
<text x="272.80" y="662.10" font-size="7.5" text-anchor="end" fill="#222" stroke="#222" stroke-width="0.12" >20</text>
<line x1="272.20" y1="639.60" x2="275.70" y2="639.60" stroke="#111" stroke-width="1" />
<text x="272.80" y="642.30" font-size="7.5" text-anchor="end" fill="#222" stroke="#222" stroke-width="0.12" >40</text>
<line x1="272.20" y1="619.80" x2="275.70" y2="619.80" stroke="#111" stroke-width="1" />
<text x="272.80" y="622.50" font-size="7.5" text-anchor="end" fill="#222" stroke="#222" stroke-width="0.12" >60</text>
<line x1="272.20" y1="600.00" x2="275.70" y2="600.00" stroke="#111" stroke-width="1" />
<text x="272.80" y="602.70" font-size="7.5" text-anchor="end" fill="#222" stroke="#222" stroke-width="0.12" >80</text>
<line x1="272.20" y1="580.20" x2="275.70" y2="580.20" stroke="#111" stroke-width="1" />
<text x="272.80" y="582.90" font-size="7.5" text-anchor="end" fill="#222" stroke="#222" stroke-width="0.12" >100</text>
<line x1="284.00" y1="679.20" x2="284.00" y2="682.20" stroke="#111" stroke-width="1" />
<line x1="300.30" y1="679.20" x2="300.30" y2="682.20" stroke="#111" stroke-width="1" />
<line x1="317.80" y1="679.20" x2="317.80" y2="682.20" stroke="#111" stroke-width="1" />
<line x1="334.50" y1="679.20" x2="334.50" y2="682.20" stroke="#111" stroke-width="1" />
<text x="256.60" y="625.50" font-size="8.9" text-anchor="middle" fill="#222" stroke="#222" stroke-width="0.12" transform="rotate(-90 256.60 625.50)" >% donor (CD45.2)</text>
<line x1="278.50" y1="580.20" x2="289.60" y2="580.20" stroke="#3a3a8a" stroke-width="1.3" />
<line x1="295.20" y1="581.60" x2="305.50" y2="581.60" stroke="#111" stroke-width="2.0" />
<line x1="317.80" y1="626.80" x2="317.80" y2="658.80" stroke="#222" stroke-width="1.1" />
<line x1="315.00" y1="626.80" x2="320.60" y2="626.80" stroke="#222" stroke-width="1.1" />
<line x1="315.00" y1="658.80" x2="320.60" y2="658.80" stroke="#222" stroke-width="1.1" />
<rect x="312.00" y="628.20" width="11.70" height="27.30" fill="#9a3329" />
<line x1="312.00" y1="644.30" x2="323.70" y2="644.30" stroke="#2a0a08" stroke-width="1.5" />
<rect x="328.70" y="582.00" width="11.10" height="2.60" fill="#9a3329" />
<line x1="328.70" y1="583.30" x2="339.80" y2="583.30" stroke="#2a0a08" stroke-width="1.0" />
<line x1="331.50" y1="581.20" x2="337.50" y2="581.20" stroke="#222" stroke-width="0.9" />
<text x="284.00" y="694.00" font-size="7.8" text-anchor="middle" fill="#222" stroke="#222" stroke-width="0.12" >Δ/Δ</text>
<text x="300.30" y="694.00" font-size="7.8" text-anchor="middle" fill="#222" stroke="#222" stroke-width="0.12" >+/+</text>
<text x="317.80" y="694.00" font-size="7.8" text-anchor="middle" fill="#222" stroke="#222" stroke-width="0.12" >Δ/Δ</text>
<text x="334.50" y="694.00" font-size="7.8" text-anchor="middle" fill="#222" stroke="#222" stroke-width="0.12" >+/+</text>
<text x="291.80" y="702.40" font-size="8.2" text-anchor="middle" fill="#222" stroke="#222" stroke-width="0.12" >CD11b</text>
<text x="326.40" y="702.40" font-size="8.2" text-anchor="middle" fill="#222" stroke="#222" stroke-width="0.12" >Ter119/</text>
<text x="326.40" y="712.80" font-size="8.2" text-anchor="middle" fill="#222" stroke="#222" stroke-width="0.12" >CD45</text>
<text x="369.60" y="575.90" font-size="10.5" text-anchor="start" fill="#111" stroke="#111" stroke-width="0.12" font-weight="bold" >L</text>
<text x="394.30" y="588.40" font-size="8.6" text-anchor="start" fill="#111" stroke="#111" stroke-width="0.12" >Lin<tspan font-size="5" dy="-3.2">−</tspan><tspan dy="3.2">Kit</tspan><tspan font-size="5" dy="-3.2">+</tspan><tspan dy="3.2">CD105</tspan><tspan font-size="5" dy="-3.2">+</tspan></text>
<rect x="393.10" y="591.00" width="96.80" height="39.10" fill="#fff" stroke="#333" stroke-width="0.9" />
<g clip-path="url(#c10)"><path d="M415.0,630.1 L415.8,629.9 L416.6,629.7 L417.4,628.5 L418.2,630.2 L419.0,629.7 L419.8,628.2 L420.6,628.6 L421.4,628.3 L422.2,628.6 L423.0,628.8 L423.8,625.9 L424.7,624.8 L425.5,625.9 L426.3,623.8 L427.2,623.7 L428.0,620.7 L428.8,619.9 L429.6,618.6 L430.4,615.3 L431.2,615.2 L432.0,613.0 L432.8,609.0 L433.6,607.2 L434.4,606.7 L435.2,605.9 L436.0,602.7 L437.0,599.9 L438.0,598.1 L439.0,594.8 L440.2,594.0 L441.4,593.3 L442.2,595.2 L443.0,596.3 L444.0,598.8 L445.0,601.3 L446.0,604.9 L447.0,607.5 L448.0,609.8 L448.8,613.5 L449.6,614.3 L450.4,616.2 L451.2,616.6 L452.0,620.3 L452.8,620.7 L453.6,619.6 L454.4,621.0 L455.2,622.8 L456.0,623.5 L456.8,624.5 L457.6,623.6 L458.4,625.1 L459.2,625.0 L460.0,624.5 L460.8,625.6 L461.7,626.7 L462.5,626.9 L463.3,626.3 L464.2,626.9 L465.0,625.8 L465.9,626.6 L466.7,628.3 L467.6,627.6 L468.4,627.3 L469.3,628.6 L470.1,629.2 L471.0,629.5 L472.0,629.0 L473.0,629.7 L474.0,630.1 Z" fill="#8a8a8a" stroke="#6a6a6a" stroke-width="0.5"/></g>
<line x1="452.20" y1="591.00" x2="452.20" y2="630.10" stroke="#333" stroke-width="0.9" />
<line x1="452.20" y1="609.70" x2="489.90" y2="609.70" stroke="#333" stroke-width="0.9" />
<text x="465.40" y="601.20" font-size="8.8" text-anchor="start" fill="#111" stroke="#111" stroke-width="0.12" >12%</text>
<rect x="393.10" y="637.00" width="95.70" height="38.50" fill="#fff" stroke="#333" stroke-width="0.9" />
<g clip-path="url(#c11)"><path d="M408.0,675.5 L408.9,675.2 L409.7,676.1 L410.6,675.8 L411.4,673.2 L412.3,673.0 L413.1,674.7 L414.0,674.1 L414.9,673.2 L415.7,671.4 L416.6,671.4 L417.4,670.6 L418.3,669.8 L419.1,667.9 L420.0,667.8 L420.9,666.3 L421.7,665.7 L422.6,665.0 L423.4,663.5 L424.3,661.0 L425.1,659.3 L426.0,657.4 L426.8,654.8 L427.6,652.8 L428.4,651.9 L429.2,649.5 L430.0,647.7 L431.0,646.7 L432.0,643.4 L433.0,641.2 L434.0,639.2 L435.0,637.6 L436.0,639.4 L437.0,640.1 L438.0,644.0 L439.0,648.3 L440.0,650.5 L441.0,653.2 L442.0,659.0 L443.0,662.8 L444.0,665.6 L445.0,669.1 L446.0,671.7 L447.0,673.8 L448.0,675.0 L449.0,673.1 L450.0,673.3 L451.0,669.2 L452.0,663.1 L453.0,660.7 L453.8,658.0 L454.6,654.7 L455.4,652.3 L456.2,649.6 L457.0,648.1 L458.0,648.7 L459.0,651.2 L460.0,651.6 L461.0,655.0 L462.0,657.0 L463.0,657.9 L464.0,655.8 L465.0,654.4 L466.0,651.6 L467.0,651.5 L468.0,651.3 L469.0,657.5 L470.0,664.5 L471.0,665.8 L472.0,670.4 L473.0,671.4 L474.0,674.2 L475.0,673.8 L476.0,675.5 Z" fill="#8a8a8a" stroke="#6a6a6a" stroke-width="0.5"/></g>
<line x1="393.80" y1="655.00" x2="393.80" y2="675.50" stroke="#555" stroke-width="1.0" />
<line x1="448.00" y1="637.00" x2="448.00" y2="675.50" stroke="#333" stroke-width="0.9" />
<line x1="448.00" y1="657.40" x2="488.80" y2="657.40" stroke="#333" stroke-width="0.9" />
<text x="467.00" y="647.20" font-size="8.8" text-anchor="start" fill="#111" stroke="#111" stroke-width="0.12" >42%</text>
<line x1="392.30" y1="680.30" x2="459.30" y2="680.30" stroke="#111" stroke-width="1.1" />
<path d="M464.80,680.30 L458.80,677.70 L458.80,682.90 Z" fill="#111"/>
<text x="466.80" y="683.40" font-size="8.8" text-anchor="start" fill="#111" stroke="#111" stroke-width="0.12" >CD45</text>
<text x="390.0" y="610.5" font-size="9.8" font-style="italic" text-anchor="middle" fill="#111" stroke="#111" stroke-width="0.12" transform="rotate(-90 390.0 610.5)">Runx1<tspan font-size="4.8" dy="-3.8" font-style="normal">+/+</tspan></text>
<text x="390.0" y="653.0" font-size="9.8" font-style="italic" text-anchor="middle" fill="#111" stroke="#111" stroke-width="0.12" transform="rotate(-90 390.0 653.0)">Runx1<tspan font-size="4.8" dy="-3.8" font-style="normal">Δ/Δ</tspan></text>
<text x="341.00" y="16.90" font-size="10.5" text-anchor="start" fill="#111" stroke="#111" stroke-width="0.12" font-weight="bold" >B</text>
<text x="371.3" y="32.5" font-size="9.8" font-style="italic" fill="#111" stroke="#111" stroke-width="0.12">Runx1<tspan font-size="4.8" dy="-3.8" font-style="normal">Δ/Δ</tspan></text>
<text x="460.5" y="32.3" font-size="9.8" font-style="italic" fill="#111" stroke="#111" stroke-width="0.12">Runx1<tspan font-size="4.8" dy="-3.8" font-style="normal">Δ/Δ</tspan></text>
<text x="350.30" y="82.30" font-size="10.1" text-anchor="middle" fill="#111" stroke="#111" stroke-width="0.12" transform="rotate(-90 350.30 82.30)" >CFU-GEMM–like</text>
<text x="440.00" y="80.30" font-size="10.2" text-anchor="middle" fill="#111" stroke="#111" stroke-width="0.12" transform="rotate(-90 440.00 80.30)" >CFU-Meg (XMP)</text>
<g clip-path="url(#c12)"><rect x="357.50" y="35.10" width="66.70" height="90.80" fill="#f1f0f7"/><g filter="url(#sb2)"><ellipse cx="371.6" cy="112.6" rx="8.0" ry="8.0" fill="#d0c0e6" fill-opacity="0.8"/><ellipse cx="396.0" cy="64.0" rx="12.0" ry="11.0" fill="#c4c4ee" fill-opacity="0.7"/></g><g filter="url(#sb)"><circle cx="361.5" cy="36.5" r="4.2" fill="#6666da"/><circle cx="366.5" cy="37.5" r="4.0" fill="#6666da"/><circle cx="370.5" cy="36.0" r="3.0" fill="#6666da"/><circle cx="375.8" cy="41.3" r="3.5" fill="#6666da"/><circle cx="388.2" cy="38.5" r="3.6" fill="#6666da"/><circle cx="391.8" cy="38.3" r="3.0" fill="#6666da"/><circle cx="362.6" cy="46.2" r="3.0" fill="#6666da"/><circle cx="370.5" cy="48.2" r="3.6" fill="#6666da"/><circle cx="358.5" cy="51.0" r="2.6" fill="#8c8ce0"/><circle cx="409.7" cy="43.4" r="4.0" fill="#6666da"/><circle cx="413.2" cy="45.8" r="3.0" fill="#6666da"/><circle cx="407.2" cy="46.0" r="3.0" fill="#6666da"/><circle cx="420.0" cy="47.0" r="3.0" fill="#6666da"/><circle cx="422.5" cy="37.2" r="2.5" fill="#6666da"/><circle cx="416.5" cy="40.5" r="2.5" fill="#8c8ce0"/><circle cx="395.2" cy="64.2" r="8.2" fill="#4a4ee0"/><circle cx="402.8" cy="68.3" r="4.0" fill="#5050d4"/><circle cx="400.7" cy="57.2" r="3.0" fill="#8c8ce0"/><circle cx="389.5" cy="69.5" r="2.5" fill="#6666da"/><circle cx="369.5" cy="70.4" r="3.5" fill="#6666da"/><circle cx="368.2" cy="74.5" r="3.5" fill="#6666da"/><circle cx="371.6" cy="72.5" r="3.0" fill="#6666da"/><circle cx="390.3" cy="78.0" r="3.5" fill="#6666da"/><circle cx="411.8" cy="78.7" r="3.0" fill="#6666da"/><circle cx="388.2" cy="82.2" r="3.5" fill="#6666da"/><circle cx="395.2" cy="82.8" r="4.0" fill="#6666da"/><circle cx="400.7" cy="81.5" r="3.5" fill="#6666da"/><circle cx="393.1" cy="89.1" r="3.5" fill="#6666da"/><circle cx="396.5" cy="91.8" r="3.0" fill="#6666da"/><circle cx="384.5" cy="84.0" r="2.6" fill="#6666da"/><circle cx="411.8" cy="80.0" r="3.5" fill="#6666da"/><circle cx="404.2" cy="89.1" r="4.0" fill="#6666da"/><circle cx="404.2" cy="96.0" r="3.5" fill="#6666da"/><circle cx="404.8" cy="103.6" r="3.0" fill="#6666da"/><circle cx="413.8" cy="100.8" r="4.0" fill="#6666da"/><circle cx="416.6" cy="111.9" r="3.5" fill="#6666da"/><circle cx="409.7" cy="115.7" r="3.5" fill="#6666da"/><circle cx="421.5" cy="117.5" r="3.0" fill="#6666da"/><circle cx="422.8" cy="98.8" r="2.5" fill="#6666da"/><circle cx="393.8" cy="119.5" r="3.5" fill="#6666da"/><circle cx="370.9" cy="91.2" r="3.5" fill="#6666da"/><circle cx="382.7" cy="97.4" r="4.0" fill="#6666da"/><circle cx="387.5" cy="102.9" r="4.0" fill="#6666da"/><circle cx="377.2" cy="103.6" r="3.5" fill="#6666da"/><circle cx="366.1" cy="107.1" r="3.5" fill="#8c8ce0"/><circle cx="361.9" cy="120.9" r="6.0" fill="#5050d4"/><circle cx="370.2" cy="122.3" r="5.0" fill="#5050d4"/><circle cx="378.5" cy="122.3" r="4.5" fill="#5050d4"/><circle cx="360.5" cy="115.0" r="3.5" fill="#5050d4"/><circle cx="366.0" cy="117.0" r="3.0" fill="#6666da"/></g><g fill="#111" stroke="#111" stroke-width="0.9"><line x1="369" y1="91.5" x2="372.5" y2="97"/><path d="M375.2,100.3 L370.6,97.8 L374.4,95.2 Z"/><line x1="402" y1="110.8" x2="406" y2="110.8"/><path d="M410.2,110.8 L405.5,108.3 L405.5,113.3 Z"/></g></g>
<rect x="357.50" y="35.10" width="66.70" height="90.80" fill="none" stroke="#9a9a9a" stroke-width="0.9" />
<g clip-path="url(#c13)"><rect x="445.50" y="34.00" width="66.50" height="90.80" fill="#f1f0f2"/><g filter="url(#sb)"><circle cx="476.2" cy="42.8" r="3.6" fill="#6a50bc"/><circle cx="483.2" cy="44.2" r="4.5" fill="#6a50bc"/><circle cx="483.6" cy="44.5" r="2.5" fill="#fff" fill-opacity="0.28"/><circle cx="488.7" cy="41.4" r="3.0" fill="#4e3aa8"/><circle cx="492.8" cy="37.2" r="5.0" fill="#6a50bc"/><circle cx="490.1" cy="35.8" r="3.0" fill="#6a50bc"/><circle cx="495.6" cy="45.5" r="4.0" fill="#6a50bc"/><circle cx="501.2" cy="42.1" r="4.0" fill="#6a50bc"/><circle cx="506.7" cy="44.8" r="4.0" fill="#4e3aa8"/><circle cx="501.2" cy="51.8" r="4.5" fill="#6a50bc"/><circle cx="506.0" cy="56.6" r="4.0" fill="#6a50bc"/><circle cx="497.0" cy="38.0" r="4.0" fill="#6a50bc"/><circle cx="503.0" cy="36.5" r="4.0" fill="#6a50bc"/><circle cx="509.0" cy="50.0" r="3.5" fill="#6a50bc"/><circle cx="496.5" cy="52.0" r="3.0" fill="#6a50bc"/><circle cx="456.8" cy="55.9" r="4.0" fill="#6a50bc"/><circle cx="457.2" cy="56.2" r="2.2" fill="#fff" fill-opacity="0.28"/><circle cx="467.6" cy="55.9" r="3.5" fill="#6a50bc"/><circle cx="483.8" cy="69.1" r="2.6" fill="#4e3aa8"/><circle cx="476.2" cy="66.3" r="2.0" fill="#c8c4dc"/><circle cx="503.2" cy="87.7" r="3.0" fill="#4e3aa8"/><circle cx="503.9" cy="82.2" r="1.5" fill="#4e3aa8"/><circle cx="478.7" cy="94.3" r="3.0" fill="#4e3aa8"/><circle cx="461.7" cy="101.8" r="3.5" fill="#6a50bc"/><ellipse cx="452.7" cy="107.8" rx="5.2" ry="4.0" transform="rotate(-20 452.7 107.8)" fill="#7a62c4"/><circle cx="464.9" cy="107.1" r="3.0" fill="#4e3aa8"/><circle cx="474.2" cy="106.4" r="3.0" fill="#6a50bc"/><circle cx="492.6" cy="103.6" r="3.0" fill="#6a50bc"/><circle cx="483.8" cy="114.3" r="9.5" fill="#6450bc"/><circle cx="483.2" cy="115.0" r="5.5" fill="#5a44b0"/></g><g stroke="#b8b4c8" stroke-width="0.6" fill="none" opacity="0.8"><path d="M451,50 L456,55"/><path d="M486,70 Q494,78 501,86"/><path d="M470,104 Q474,97 478,94"/><path d="M476,64 L480,68"/><path d="M460,100 Q456,104 454,106"/></g></g>
<rect x="445.50" y="34.00" width="66.50" height="90.80" fill="none" stroke="#9a9a9a" stroke-width="0.9" />
<text x="353.30" y="153.60" font-size="10.5" text-anchor="start" fill="#111" stroke="#111" stroke-width="0.12" font-weight="bold" >C</text>
<text x="391.6" y="167.7" font-size="9.8" font-style="italic" fill="#111" stroke="#111" stroke-width="0.12">Runx1<tspan font-size="4.8" dy="-3.8" font-style="normal">+/+</tspan></text>
<text x="459.8" y="167.7" font-size="9.8" font-style="italic" fill="#111" stroke="#111" stroke-width="0.12">Runx1<tspan font-size="4.8" dy="-3.8" font-style="normal">Δ/Δ</tspan></text>
<text x="374.00" y="210.00" font-size="10.4" text-anchor="middle" fill="#111" stroke="#111" stroke-width="0.12" transform="rotate(-90 374.00 210.00)" >CFU-G</text>
<text x="374.00" y="310.60" font-size="10.4" text-anchor="middle" fill="#111" stroke="#111" stroke-width="0.12" transform="rotate(-90 374.00 310.60)" >CFU-GM</text>
<text x="374.00" y="400.60" font-size="10.4" text-anchor="middle" fill="#111" stroke="#111" stroke-width="0.12" transform="rotate(-90 374.00 400.60)" >CFU-Meg</text>
<text x="374.00" y="493.90" font-size="10.4" text-anchor="middle" fill="#111" stroke="#111" stroke-width="0.12" transform="rotate(-90 374.00 493.90)" >BFU-E</text>
<g clip-path="url(#c14)"><rect x="375.60" y="173.10" width="66.90" height="90.50" fill="#fbfbfd"/><g filter="url(#sb)"><circle cx="380.2" cy="182.8" r="2.0" fill="#c8c6e6" stroke="#4a4890" stroke-width="1.3"/><circle cx="385.8" cy="192.9" r="3.1" fill="#5a58a8"/><circle cx="425.2" cy="189.0" r="2.2" fill="#c8c6e6" stroke="#4a4890" stroke-width="1.3"/><circle cx="427.3" cy="194.5" r="1.8" fill="#4a4890"/><circle cx="425.9" cy="197.0" r="1.5" fill="#4a4890"/><circle cx="437.0" cy="191.8" r="2.0" fill="#c8c6e6" stroke="#4a4890" stroke-width="1.3"/><circle cx="432.2" cy="202.2" r="2.2" fill="#c8c6e6" stroke="#4a4890" stroke-width="1.3"/><circle cx="418.3" cy="215.3" r="2.2" fill="#c8c6e6" stroke="#4a4890" stroke-width="1.3"/><circle cx="379.5" cy="220.5" r="2.0" fill="#c8c6e6" stroke="#4a4890" stroke-width="1.3"/><circle cx="392.7" cy="209.0" r="1.8" fill="#d0d0e6"/><circle cx="378.8" cy="221.8" r="2.0" fill="#c8c6e6" stroke="#4a4890" stroke-width="1.3"/><circle cx="420.4" cy="225.4" r="2.2" fill="#c8c6e6" stroke="#4a4890" stroke-width="1.3"/><circle cx="387.8" cy="238.8" r="2.2" fill="#c8c6e6" stroke="#4a4890" stroke-width="1.3"/><circle cx="404.5" cy="235.4" r="1.0" fill="#9090b8"/><circle cx="416.2" cy="244.4" r="2.2" fill="#c8c6e6" stroke="#4a4890" stroke-width="1.3"/><circle cx="403.1" cy="254.1" r="2.2" fill="#c8c6e6" stroke="#4a4890" stroke-width="1.3"/><circle cx="416.6" cy="253.4" r="2.2" fill="#c8c6e6" stroke="#4a4890" stroke-width="1.3"/><circle cx="396.0" cy="244.0" r="1.2" fill="#c8c8e0"/></g></g>
<rect x="375.60" y="173.10" width="66.90" height="90.50" fill="none" stroke="#9a9a9a" stroke-width="0.9" />
<g clip-path="url(#c15)"><rect x="445.50" y="173.10" width="66.70" height="90.50" fill="#fbfbfd"/><g filter="url(#sb)"><circle cx="484.5" cy="181.4" r="4.6" fill="#4a40a6"/><circle cx="490.8" cy="186.5" r="4.6" fill="#4a40a6"/><circle cx="491.5" cy="196.6" r="6.0" fill="#6a60b4"/><circle cx="491.9" cy="196.9" r="3.3" fill="#fff" fill-opacity="0.28"/><circle cx="482.5" cy="201.5" r="4.5" fill="#4a40a6"/><circle cx="476.2" cy="207.0" r="4.5" fill="#4a40a6"/><circle cx="471.4" cy="212.5" r="4.5" fill="#4a40a6"/><circle cx="479.7" cy="212.5" r="4.0" fill="#6a62b8"/><circle cx="449.9" cy="215.3" r="4.6" fill="#4a40a6"/><circle cx="487.5" cy="218.0" r="4.5" fill="#7a72bc"/><circle cx="487.9" cy="218.3" r="2.5" fill="#fff" fill-opacity="0.28"/><circle cx="503.9" cy="216.7" r="4.0" fill="#4a40a6"/><circle cx="502.5" cy="173.5" r="2.6" fill="#333"/><circle cx="494.2" cy="231.2" r="5.6" fill="#4c44a8"/><circle cx="494.6" cy="231.5" r="3.1" fill="#fff" fill-opacity="0.28"/><circle cx="497.7" cy="245.1" r="4.1" fill="#4a40a6"/><circle cx="504.6" cy="252.0" r="4.5" fill="#4a40a6"/><circle cx="508.8" cy="259.6" r="4.5" fill="#4a40a6"/><circle cx="457.5" cy="256.2" r="1.0" fill="#333"/></g></g>
<rect x="445.50" y="173.10" width="66.70" height="90.50" fill="none" stroke="#9a9a9a" stroke-width="0.9" />
<g clip-path="url(#c16)"><rect x="375.60" y="268.10" width="66.90" height="90.80" fill="#fcfcfd"/><g filter="url(#sb)"><circle cx="395.5" cy="279.8" r="4.6" fill="#7472c6"/><circle cx="395.9" cy="280.1" r="2.5" fill="#fff" fill-opacity="0.28"/><circle cx="404.5" cy="288.2" r="2.5" fill="#4c4aa6"/><circle cx="421.1" cy="281.9" r="6.0" fill="#7472c6"/><circle cx="421.5" cy="282.2" r="3.3" fill="#fff" fill-opacity="0.28"/><circle cx="414.2" cy="276.4" r="1.5" fill="#4c4aa6"/><circle cx="427.3" cy="289.5" r="4.5" fill="#7472c6"/><circle cx="416.2" cy="299.2" r="5.5" fill="#7472c6"/><circle cx="416.6" cy="299.5" r="3.0" fill="#fff" fill-opacity="0.28"/><circle cx="390.6" cy="304.1" r="2.5" fill="#4c4aa6"/><circle cx="396.8" cy="307.5" r="1.9" fill="#c8c6e6" stroke="#4c4aa6" stroke-width="1.3"/><circle cx="425.2" cy="313.8" r="3.0" fill="#4c4aa6"/><circle cx="432.2" cy="314.5" r="3.0" fill="#7472c6"/><circle cx="423.8" cy="313.8" r="3.0" fill="#4c4aa6"/><circle cx="430.8" cy="319.3" r="6.0" fill="#8886d0"/><circle cx="431.2" cy="319.6" r="3.3" fill="#fff" fill-opacity="0.28"/><circle cx="434.9" cy="326.9" r="3.5" fill="#4c4aa6"/><circle cx="391.3" cy="326.9" r="4.0" fill="#7472c6"/><circle cx="385.1" cy="330.4" r="3.0" fill="#7472c6"/><circle cx="387.8" cy="336.6" r="3.0" fill="#4c4aa6"/><circle cx="392.0" cy="333.2" r="2.5" fill="#7472c6"/><circle cx="409.7" cy="326.9" r="4.0" fill="#7472c6"/><circle cx="410.1" cy="327.2" r="2.2" fill="#fff" fill-opacity="0.28"/><circle cx="427.3" cy="333.8" r="2.5" fill="#4c4aa6"/><circle cx="416.9" cy="337.6" r="2.0" fill="#a8a8d8"/><circle cx="432.8" cy="342.2" r="5.5" fill="#8280cc"/><circle cx="433.2" cy="342.5" r="3.0" fill="#fff" fill-opacity="0.28"/><circle cx="377.5" cy="344.2" r="3.0" fill="#7472c6"/><circle cx="422.5" cy="349.1" r="3.5" fill="#7472c6"/><circle cx="404.5" cy="351.2" r="2.0" fill="#b0b0d8"/><circle cx="405.8" cy="357.4" r="2.5" fill="#4c4aa6"/><circle cx="430.8" cy="356.7" r="2.5" fill="#b0b0d8"/><circle cx="440.5" cy="352.5" r="4.0" fill="#7472c6"/></g></g>
<rect x="375.60" y="268.10" width="66.90" height="90.80" fill="none" stroke="#9a9a9a" stroke-width="0.9" />
<g clip-path="url(#c17)"><rect x="445.50" y="268.10" width="66.70" height="90.80" fill="#fbfbfd"/><g filter="url(#sb)"><circle cx="453.8" cy="282.6" r="5.2" fill="#5a52b0"/><circle cx="463.1" cy="275.0" r="4.1" fill="#7a72c0"/><circle cx="466.5" cy="284.0" r="3.6" fill="#5a52b0"/><circle cx="471.4" cy="277.8" r="4.0" fill="#7a72c0"/><circle cx="476.2" cy="282.6" r="4.0" fill="#7a72c0"/><circle cx="483.2" cy="280.5" r="4.0" fill="#5a52b0"/><circle cx="485.9" cy="288.2" r="4.0" fill="#5a52b0"/><circle cx="462.4" cy="291.6" r="5.6" fill="#5a52b0"/><circle cx="462.8" cy="291.9" r="3.1" fill="#fff" fill-opacity="0.28"/><circle cx="470.7" cy="294.4" r="3.6" fill="#5a52b0"/><circle cx="474.8" cy="302.7" r="4.0" fill="#7a72c0"/><circle cx="485.9" cy="299.2" r="5.0" fill="#7a72c0"/><circle cx="497.0" cy="298.5" r="5.6" fill="#5a52b0"/><circle cx="465.8" cy="308.2" r="5.6" fill="#7a72c0"/><circle cx="466.2" cy="308.5" r="3.1" fill="#fff" fill-opacity="0.28"/><circle cx="496.3" cy="311.7" r="4.5" fill="#5a52b0"/><circle cx="506.0" cy="310.3" r="4.5" fill="#5a52b0"/><circle cx="470.7" cy="321.0" r="3.0" fill="#3e3696"/><circle cx="454.8" cy="332.5" r="5.0" fill="#5a52b0"/><circle cx="450.6" cy="340.1" r="4.5" fill="#5a52b0"/><circle cx="479.7" cy="333.2" r="2.0" fill="#a8a4d0"/><circle cx="497.7" cy="333.8" r="5.6" fill="#2e2880"/><circle cx="494.9" cy="343.5" r="3.6" fill="#3e3696"/><circle cx="506.7" cy="342.8" r="6.0" fill="#a4acd4"/><circle cx="503.2" cy="341.5" r="2.5" fill="#303080"/><circle cx="468.0" cy="302.0" r="3.0" fill="#7a72c0"/><circle cx="480.0" cy="307.0" r="3.0" fill="#7a72c0"/></g></g>
<rect x="445.50" y="268.10" width="66.70" height="90.80" fill="none" stroke="#9a9a9a" stroke-width="0.9" />
<g clip-path="url(#c18)"><rect x="375.60" y="362.40" width="66.90" height="90.60" fill="#f3f2fa"/><g filter="url(#sb3)"><ellipse cx="384.0" cy="385.0" rx="12.0" ry="22.0" fill="#dcdaf2" fill-opacity="0.8"/><ellipse cx="402.0" cy="430.0" rx="20.0" ry="11.0" fill="#a8b0dc" fill-opacity="0.9"/><ellipse cx="390.0" cy="414.5" rx="15.0" ry="15.5" fill="#6a72cc" fill-opacity="1"/><ellipse cx="392.0" cy="414.5" rx="10.0" ry="10.0" fill="#3038a8" fill-opacity="1"/><ellipse cx="409.0" cy="391.0" rx="12.0" ry="11.0" fill="#6444b8" fill-opacity="1"/><ellipse cx="416.0" cy="383.0" rx="6.0" ry="5.0" fill="#8a6cc8" fill-opacity="0.9"/><ellipse cx="413.0" cy="406.0" rx="7.0" ry="7.0" fill="#5a3cac" fill-opacity="1"/><ellipse cx="421.5" cy="398.0" rx="5.0" ry="6.0" fill="#9890cc" fill-opacity="0.8"/><ellipse cx="396.8" cy="442.0" rx="9.5" ry="8.5" fill="#6a48bc" fill-opacity="1"/><ellipse cx="389.9" cy="371.8" rx="7.0" ry="5.5" fill="#7a5cc4" fill-opacity="1"/><ellipse cx="380.0" cy="392.0" rx="5.0" ry="8.0" fill="#c8c4ec" fill-opacity="0.6"/></g><g filter="url(#sb)"><circle cx="396.2" cy="371.8" r="3.0" fill="#6048b0"/><circle cx="410.7" cy="371.8" r="2.7" fill="#3e30a0"/><circle cx="429.4" cy="369.0" r="2.0" fill="#4a3aa0"/><circle cx="428.0" cy="373.2" r="2.0" fill="#4a3aa0"/><circle cx="439.1" cy="375.0" r="2.7" fill="#4a40a8"/><circle cx="399.6" cy="381.5" r="2.7" fill="#28287a"/><circle cx="389.0" cy="393.9" r="2.7" fill="#28287a"/><circle cx="378.2" cy="391.2" r="1.5" fill="#302890"/><circle cx="425.5" cy="392.5" r="2.2" fill="#3a3098"/><circle cx="403.8" cy="448.6" r="3.0" fill="#2a2a80"/><circle cx="377.5" cy="444.5" r="3.0" fill="#2a3090"/><circle cx="438.4" cy="410.5" r="2.5" fill="#9a88cc"/><circle cx="425.2" cy="424.4" r="1.5" fill="#302050"/><circle cx="437.0" cy="433.4" r="2.0" fill="#b8b0d8"/><circle cx="424.5" cy="443.1" r="2.5" fill="#5a48a8"/><circle cx="412.8" cy="448.6" r="2.0" fill="#7a70b8"/></g></g>
<rect x="375.60" y="362.40" width="66.90" height="90.60" fill="none" stroke="#9a9a9a" stroke-width="0.9" />
<g clip-path="url(#c19)"><rect x="445.50" y="362.40" width="66.70" height="90.60" fill="#f7f7fb"/><g filter="url(#sb2)"><ellipse cx="456.8" cy="393.2" rx="6.2" ry="6.2" fill="#b4aade" fill-opacity="0.75"/><ellipse cx="506.7" cy="373.2" rx="5.2" ry="5.2" fill="#b4aade" fill-opacity="0.75"/><ellipse cx="474.8" cy="371.1" rx="5.2" ry="5.2" fill="#b4aade" fill-opacity="0.75"/><ellipse cx="474.8" cy="430.6" rx="5.2" ry="5.2" fill="#b4aade" fill-opacity="0.75"/><ellipse cx="491.5" cy="410.5" rx="5.2" ry="5.2" fill="#b4aade" fill-opacity="0.75"/><ellipse cx="501.2" cy="436.2" rx="5.2" ry="5.2" fill="#b4aade" fill-opacity="0.75"/><ellipse cx="459.6" cy="447.9" rx="4.2" ry="4.2" fill="#b4aade" fill-opacity="0.75"/></g><g filter="url(#sb)"><circle cx="452.7" cy="372.5" r="2.6" fill="#5a5cd0"/><circle cx="465.8" cy="366.2" r="4.0" fill="#5a5cd0"/><circle cx="472.1" cy="365.5" r="4.0" fill="#5a5cd0"/><circle cx="469.3" cy="371.8" r="5.0" fill="#5a5cd0"/><circle cx="463.8" cy="370.4" r="3.5" fill="#5a5cd0"/><circle cx="484.5" cy="365.5" r="4.0" fill="#5a5cd0"/><circle cx="495.6" cy="365.5" r="4.0" fill="#5a5cd0"/><circle cx="490.8" cy="370.4" r="4.5" fill="#5a5cd0"/><circle cx="508.1" cy="366.2" r="3.0" fill="#3a3cb0"/><circle cx="484.5" cy="373.8" r="3.0" fill="#3a3cb0"/><circle cx="470.7" cy="378.7" r="4.0" fill="#5a5cd0"/><circle cx="484.5" cy="379.4" r="4.0" fill="#5a5cd0"/><circle cx="494.9" cy="378.7" r="5.0" fill="#5a5cd0"/><circle cx="463.8" cy="382.2" r="4.0" fill="#5a5cd0"/><circle cx="478.3" cy="381.5" r="4.0" fill="#5a5cd0"/><circle cx="474.2" cy="385.6" r="4.0" fill="#5a5cd0"/><circle cx="493.5" cy="386.3" r="4.0" fill="#8a86d8"/><circle cx="470.0" cy="393.9" r="4.5" fill="#5a5cd0"/><circle cx="474.2" cy="400.2" r="2.5" fill="#3a3cb0"/><circle cx="445.8" cy="387.0" r="3.0" fill="#5a5cd0"/><circle cx="494.9" cy="400.8" r="2.5" fill="#3a3cb0"/><circle cx="508.1" cy="404.3" r="4.5" fill="#5a5cd0"/><circle cx="469.3" cy="417.5" r="10.0" fill="#3a40b0"/><circle cx="470.5" cy="418.0" r="7.0" fill="#4048b4"/><circle cx="473.0" cy="416.0" r="1.0" fill="#a0a8e4"/><circle cx="467.0" cy="421.0" r="0.9" fill="#a0a8e4"/><circle cx="474.0" cy="421.0" r="0.9" fill="#a0a8e4"/><circle cx="471.0" cy="413.0" r="0.8" fill="#a0a8e4"/><circle cx="475.0" cy="418.0" r="0.8" fill="#a0a8e4"/><circle cx="469.0" cy="419.0" r="0.8" fill="#a0a8e4"/><circle cx="466.0" cy="416.0" r="0.8" fill="#8a94dc"/><circle cx="472.0" cy="423.0" r="0.8" fill="#a0a8e4"/><circle cx="452.7" cy="416.8" r="2.5" fill="#3a3cb0"/><circle cx="447.8" cy="413.3" r="3.0" fill="#5a5cd0"/><circle cx="450.6" cy="427.8" r="4.5" fill="#5a5cd0"/><circle cx="461.0" cy="428.5" r="4.5" fill="#5a5cd0"/><circle cx="454.1" cy="430.6" r="3.5" fill="#5a5cd0"/><circle cx="489.4" cy="425.1" r="3.0" fill="#9890d0"/><circle cx="506.7" cy="421.6" r="4.5" fill="#5a5cd0"/><circle cx="507.4" cy="434.8" r="5.0" fill="#5a5cd0"/><circle cx="452.7" cy="441.7" r="5.0" fill="#5a5cd0"/><circle cx="470.0" cy="442.4" r="4.5" fill="#5a5cd0"/><circle cx="476.2" cy="448.6" r="4.5" fill="#5a5cd0"/><circle cx="481.8" cy="441.7" r="3.0" fill="#5a5cd0"/><circle cx="482.5" cy="446.5" r="3.5" fill="#5a5cd0"/><circle cx="492.2" cy="442.4" r="4.0" fill="#5a5cd0"/><circle cx="497.7" cy="450.0" r="3.5" fill="#5a5cd0"/><circle cx="508.1" cy="447.2" r="4.0" fill="#5a5cd0"/><circle cx="490.1" cy="447.9" r="3.0" fill="#5a5cd0"/></g></g>
<rect x="445.50" y="362.40" width="66.70" height="90.60" fill="none" stroke="#9a9a9a" stroke-width="0.9" />
<g clip-path="url(#c20)"><rect x="375.60" y="457.40" width="66.90" height="90.50" fill="#fbfbfd"/><g filter="url(#sb)"><circle cx="407.2" cy="463.3" r="3.2" fill="#4a4ac2"/><circle cx="413.5" cy="459.8" r="2.7" fill="#4a4ac2"/><circle cx="411.4" cy="464.7" r="2.3" fill="#4a4ac2"/><circle cx="406.5" cy="470.9" r="2.7" fill="#4a4ac2"/><circle cx="407.9" cy="480.6" r="2.3" fill="#5050c0"/><circle cx="436.3" cy="486.2" r="3.2" fill="#4a4ac2"/><circle cx="423.2" cy="493.1" r="2.3" fill="#5050b8"/><circle cx="432.2" cy="495.8" r="2.3" fill="#5a5ab8"/><circle cx="378.8" cy="497.9" r="2.7" fill="#4a4ac2"/><circle cx="388.5" cy="488.9" r="3.2" fill="#bcb4e0"/><circle cx="387.2" cy="502.5" r="4.0" fill="#bcb4e0"/><circle cx="382.3" cy="459.2" r="1.8" fill="#c8c8e4"/><circle cx="381.6" cy="470.2" r="1.8" fill="#c8c8e4"/><circle cx="427.3" cy="506.2" r="2.7" fill="#bcb4e0"/><circle cx="403.1" cy="513.2" r="2.3" fill="#4a4ac2"/><circle cx="432.2" cy="517.3" r="2.3" fill="#5050b0"/><circle cx="391.3" cy="529.1" r="2.7" fill="#4a4ac2"/><circle cx="387.2" cy="533.2" r="2.3" fill="#4a4ac2"/><circle cx="392.0" cy="524.2" r="1.8" fill="#7070c8"/><circle cx="396.8" cy="538.1" r="2.3" fill="#4a4ab0"/><circle cx="414.2" cy="540.2" r="5.4" fill="#3c3cb8"/><circle cx="410.0" cy="541.5" r="3.2" fill="#4a4ac2"/><circle cx="419.0" cy="542.9" r="3.2" fill="#4a4ac2"/><circle cx="416.2" cy="537.4" r="3.2" fill="#4a4ac2"/><circle cx="423.8" cy="538.1" r="2.7" fill="#4a4ac2"/><circle cx="429.4" cy="533.9" r="2.3" fill="#4a4ac2"/><circle cx="435.6" cy="545.0" r="3.2" fill="#bcb4e0"/><circle cx="377.5" cy="506.2" r="1.4" fill="#333"/></g><g fill="#8a84c0" fill-opacity="0.35"><rect x="428.1" y="487.7" width="0.8" height="1.1"/><rect x="384.4" y="500.9" width="1.1" height="0.9"/><rect x="386.3" y="514.5" width="1.1" height="1.1"/><rect x="378.8" y="543.2" width="0.7" height="1.1"/><rect x="409.5" y="532.5" width="0.7" height="0.7"/><rect x="382.6" y="527.5" width="1.1" height="0.6"/><rect x="389.3" y="466.1" width="0.7" height="0.9"/><rect x="405.0" y="521.0" width="0.6" height="1.1"/><rect x="439.9" y="524.1" width="1.3" height="1.1"/><rect x="383.1" y="499.6" width="0.6" height="1.0"/><rect x="411.4" y="468.4" width="1.0" height="1.0"/><rect x="412.3" y="469.7" width="1.5" height="0.5"/><rect x="431.0" y="544.7" width="1.3" height="1.2"/><rect x="411.0" y="478.3" width="1.0" height="1.0"/><rect x="426.2" y="492.8" width="1.5" height="0.5"/><rect x="408.7" y="462.5" width="0.9" height="1.2"/><rect x="384.5" y="545.7" width="1.5" height="1.0"/><rect x="380.6" y="500.5" width="1.3" height="0.6"/><rect x="396.1" y="467.1" width="1.4" height="1.1"/><rect x="436.1" y="525.1" width="1.1" height="0.5"/><rect x="407.8" y="525.9" width="1.3" height="0.5"/><rect x="377.5" y="466.8" width="1.5" height="0.6"/><rect x="402.0" y="500.9" width="1.5" height="0.6"/><rect x="393.7" y="526.9" width="0.6" height="0.6"/><rect x="378.6" y="543.3" width="0.8" height="0.9"/><rect x="401.3" y="545.4" width="1.3" height="0.9"/><rect x="408.3" y="482.6" width="1.4" height="0.6"/><rect x="416.8" y="485.0" width="0.8" height="0.8"/><rect x="389.1" y="511.1" width="0.6" height="0.5"/><rect x="386.0" y="466.9" width="1.5" height="0.9"/><rect x="420.4" y="527.6" width="0.7" height="1.2"/><rect x="401.6" y="499.5" width="1.0" height="1.0"/><rect x="426.2" y="476.1" width="1.4" height="0.8"/><rect x="393.1" y="535.1" width="1.5" height="1.1"/><rect x="397.7" y="539.4" width="1.4" height="1.2"/><rect x="425.3" y="547.0" width="1.0" height="1.0"/><rect x="427.0" y="505.1" width="1.1" height="0.8"/><rect x="432.6" y="492.3" width="1.3" height="0.9"/><rect x="422.2" y="486.2" width="0.6" height="1.0"/><rect x="386.3" y="490.6" width="1.4" height="0.5"/><rect x="435.3" y="510.8" width="1.1" height="1.0"/><rect x="380.6" y="460.9" width="1.3" height="0.9"/><rect x="417.9" y="531.4" width="0.8" height="0.6"/><rect x="439.0" y="464.3" width="1.1" height="0.9"/><rect x="438.1" y="466.6" width="1.3" height="0.6"/><rect x="406.0" y="513.6" width="1.4" height="0.5"/><rect x="424.9" y="472.1" width="0.9" height="1.2"/><rect x="431.4" y="465.7" width="0.5" height="0.5"/><rect x="427.0" y="462.4" width="1.4" height="1.1"/><rect x="429.3" y="541.4" width="1.2" height="1.1"/><rect x="411.7" y="517.8" width="0.6" height="0.9"/><rect x="440.4" y="493.2" width="1.3" height="0.6"/><rect x="407.8" y="506.7" width="1.3" height="0.7"/><rect x="407.0" y="475.7" width="1.1" height="1.2"/><rect x="401.7" y="517.0" width="1.1" height="0.6"/><rect x="421.6" y="477.6" width="1.2" height="1.2"/><rect x="396.6" y="517.8" width="0.9" height="1.0"/><rect x="389.2" y="503.1" width="1.4" height="0.6"/><rect x="399.7" y="478.9" width="0.7" height="1.0"/><rect x="430.2" y="505.4" width="1.0" height="0.7"/><rect x="392.3" y="541.9" width="1.0" height="1.0"/><rect x="394.9" y="474.2" width="0.5" height="0.7"/><rect x="403.8" y="504.9" width="1.2" height="1.0"/><rect x="433.1" y="529.6" width="1.3" height="1.1"/><rect x="411.7" y="500.6" width="1.5" height="1.1"/><rect x="401.7" y="535.3" width="1.0" height="1.0"/><rect x="378.5" y="511.3" width="1.5" height="0.8"/><rect x="432.7" y="518.9" width="0.5" height="0.6"/><rect x="398.2" y="544.5" width="1.2" height="0.9"/><rect x="432.0" y="489.8" width="0.7" height="0.8"/><rect x="435.1" y="473.6" width="1.0" height="0.7"/><rect x="399.9" y="467.1" width="1.5" height="0.7"/><rect x="427.5" y="474.2" width="1.0" height="0.5"/><rect x="414.7" y="503.9" width="1.0" height="0.6"/><rect x="417.8" y="462.1" width="1.5" height="0.8"/><rect x="416.1" y="496.3" width="0.5" height="0.5"/><rect x="423.4" y="501.8" width="0.8" height="0.9"/><rect x="432.7" y="503.9" width="1.1" height="0.9"/><rect x="432.9" y="461.8" width="1.2" height="0.9"/><rect x="422.8" y="473.5" width="1.4" height="1.1"/><rect x="394.8" y="542.4" width="0.6" height="0.9"/><rect x="382.5" y="475.6" width="1.2" height="1.0"/><rect x="407.7" y="480.6" width="1.1" height="0.8"/><rect x="401.6" y="495.1" width="1.0" height="0.8"/><rect x="384.8" y="502.7" width="0.8" height="1.1"/><rect x="438.2" y="524.6" width="0.9" height="0.8"/><rect x="424.3" y="479.2" width="1.4" height="0.5"/><rect x="438.9" y="508.0" width="1.4" height="0.9"/><rect x="431.3" y="496.2" width="0.6" height="0.6"/><rect x="424.7" y="545.6" width="0.8" height="0.8"/><rect x="427.0" y="485.8" width="0.8" height="1.0"/><rect x="384.5" y="488.3" width="1.2" height="0.8"/><rect x="437.7" y="501.6" width="1.0" height="0.6"/><rect x="429.2" y="463.4" width="0.5" height="0.8"/><rect x="428.5" y="481.4" width="1.0" height="0.6"/><rect x="394.9" y="541.7" width="1.4" height="0.6"/><rect x="438.1" y="500.2" width="0.6" height="0.8"/><rect x="438.5" y="475.1" width="1.3" height="1.2"/><rect x="435.6" y="525.5" width="1.5" height="0.6"/><rect x="421.5" y="543.7" width="1.1" height="0.5"/><rect x="395.6" y="497.9" width="1.0" height="1.0"/><rect x="388.1" y="459.6" width="1.2" height="1.2"/><rect x="407.9" y="518.9" width="1.3" height="1.0"/><rect x="427.8" y="461.7" width="1.3" height="0.8"/><rect x="401.7" y="529.7" width="0.6" height="1.1"/><rect x="429.0" y="532.4" width="1.5" height="0.7"/><rect x="415.0" y="538.6" width="1.1" height="1.0"/><rect x="383.7" y="517.7" width="0.5" height="0.9"/><rect x="378.8" y="486.1" width="0.6" height="0.7"/><rect x="385.3" y="519.0" width="1.1" height="1.0"/><rect x="428.9" y="521.5" width="1.2" height="0.9"/><rect x="426.3" y="497.0" width="0.9" height="0.8"/><rect x="378.6" y="477.4" width="1.2" height="0.8"/><rect x="404.3" y="467.4" width="0.7" height="1.1"/><rect x="428.2" y="490.5" width="1.5" height="0.9"/><rect x="424.9" y="472.5" width="1.6" height="0.8"/><rect x="385.8" y="464.9" width="0.6" height="0.5"/><rect x="426.7" y="528.9" width="0.8" height="0.7"/><rect x="435.4" y="479.4" width="1.5" height="1.1"/><rect x="403.2" y="499.2" width="0.9" height="0.8"/><rect x="422.0" y="518.7" width="1.6" height="0.6"/><rect x="396.8" y="505.5" width="1.4" height="1.2"/><rect x="429.5" y="467.3" width="1.3" height="0.7"/><rect x="404.6" y="465.6" width="0.5" height="0.8"/><rect x="433.2" y="484.5" width="0.5" height="1.0"/><rect x="394.9" y="466.5" width="0.7" height="1.1"/><rect x="434.6" y="502.8" width="1.0" height="1.0"/><rect x="399.0" y="492.9" width="1.4" height="1.0"/><rect x="433.8" y="509.2" width="1.4" height="1.1"/><rect x="392.2" y="515.4" width="1.1" height="0.6"/><rect x="391.1" y="493.4" width="1.5" height="0.5"/><rect x="438.7" y="542.6" width="0.9" height="0.9"/><rect x="396.4" y="462.7" width="0.5" height="1.0"/><rect x="391.7" y="503.8" width="0.8" height="0.5"/><rect x="402.1" y="499.5" width="1.6" height="0.9"/><rect x="439.1" y="494.3" width="1.4" height="0.9"/><rect x="378.5" y="540.0" width="1.3" height="0.9"/><rect x="404.9" y="459.7" width="1.5" height="0.5"/><rect x="383.9" y="527.3" width="0.8" height="0.7"/><rect x="394.5" y="500.1" width="1.4" height="0.7"/></g></g>
<rect x="375.60" y="457.40" width="66.90" height="90.50" fill="none" stroke="#9a9a9a" stroke-width="0.9" />
<g clip-path="url(#c21)"><rect x="445.50" y="457.40" width="66.70" height="90.50" fill="#fdfdfe"/><g filter="url(#sb)"><ellipse cx="503.2" cy="467.7" rx="2.6" ry="3.1" transform="rotate(0 503.2 467.7)" fill="#3c3cb0"/><ellipse cx="481.5" cy="484.4" rx="2.6" ry="3.5" transform="rotate(0 481.5 484.4)" fill="#3c3cb0"/><ellipse cx="473.7" cy="490.3" rx="2.3" ry="3.5" transform="rotate(20 473.7 490.3)" fill="#3c3cb0"/><circle cx="466.5" cy="496.3" r="2.5" fill="#3c3cb0"/><ellipse cx="451.3" cy="504.2" rx="3.2" ry="2.7" transform="rotate(0 451.3 504.2)" fill="#3c3cb0"/><circle cx="493.5" cy="511.8" r="2.7" fill="#3c3cb0"/><ellipse cx="504.2" cy="533.6" rx="3.5" ry="3.0" transform="rotate(0 504.2 533.6)" fill="#3c3cb0"/><circle cx="479.7" cy="530.5" r="4.5" fill="#c4bee2"/><circle cx="446.5" cy="497.9" r="2.0" fill="#c8c4e4"/></g></g>
<rect x="445.50" y="457.40" width="66.70" height="90.50" fill="none" stroke="#9a9a9a" stroke-width="0.9" />
<rect x="0.5" y="0.5" width="519" height="720" fill="none" stroke="#111" stroke-width="1"/>
</svg>
</body></html>
